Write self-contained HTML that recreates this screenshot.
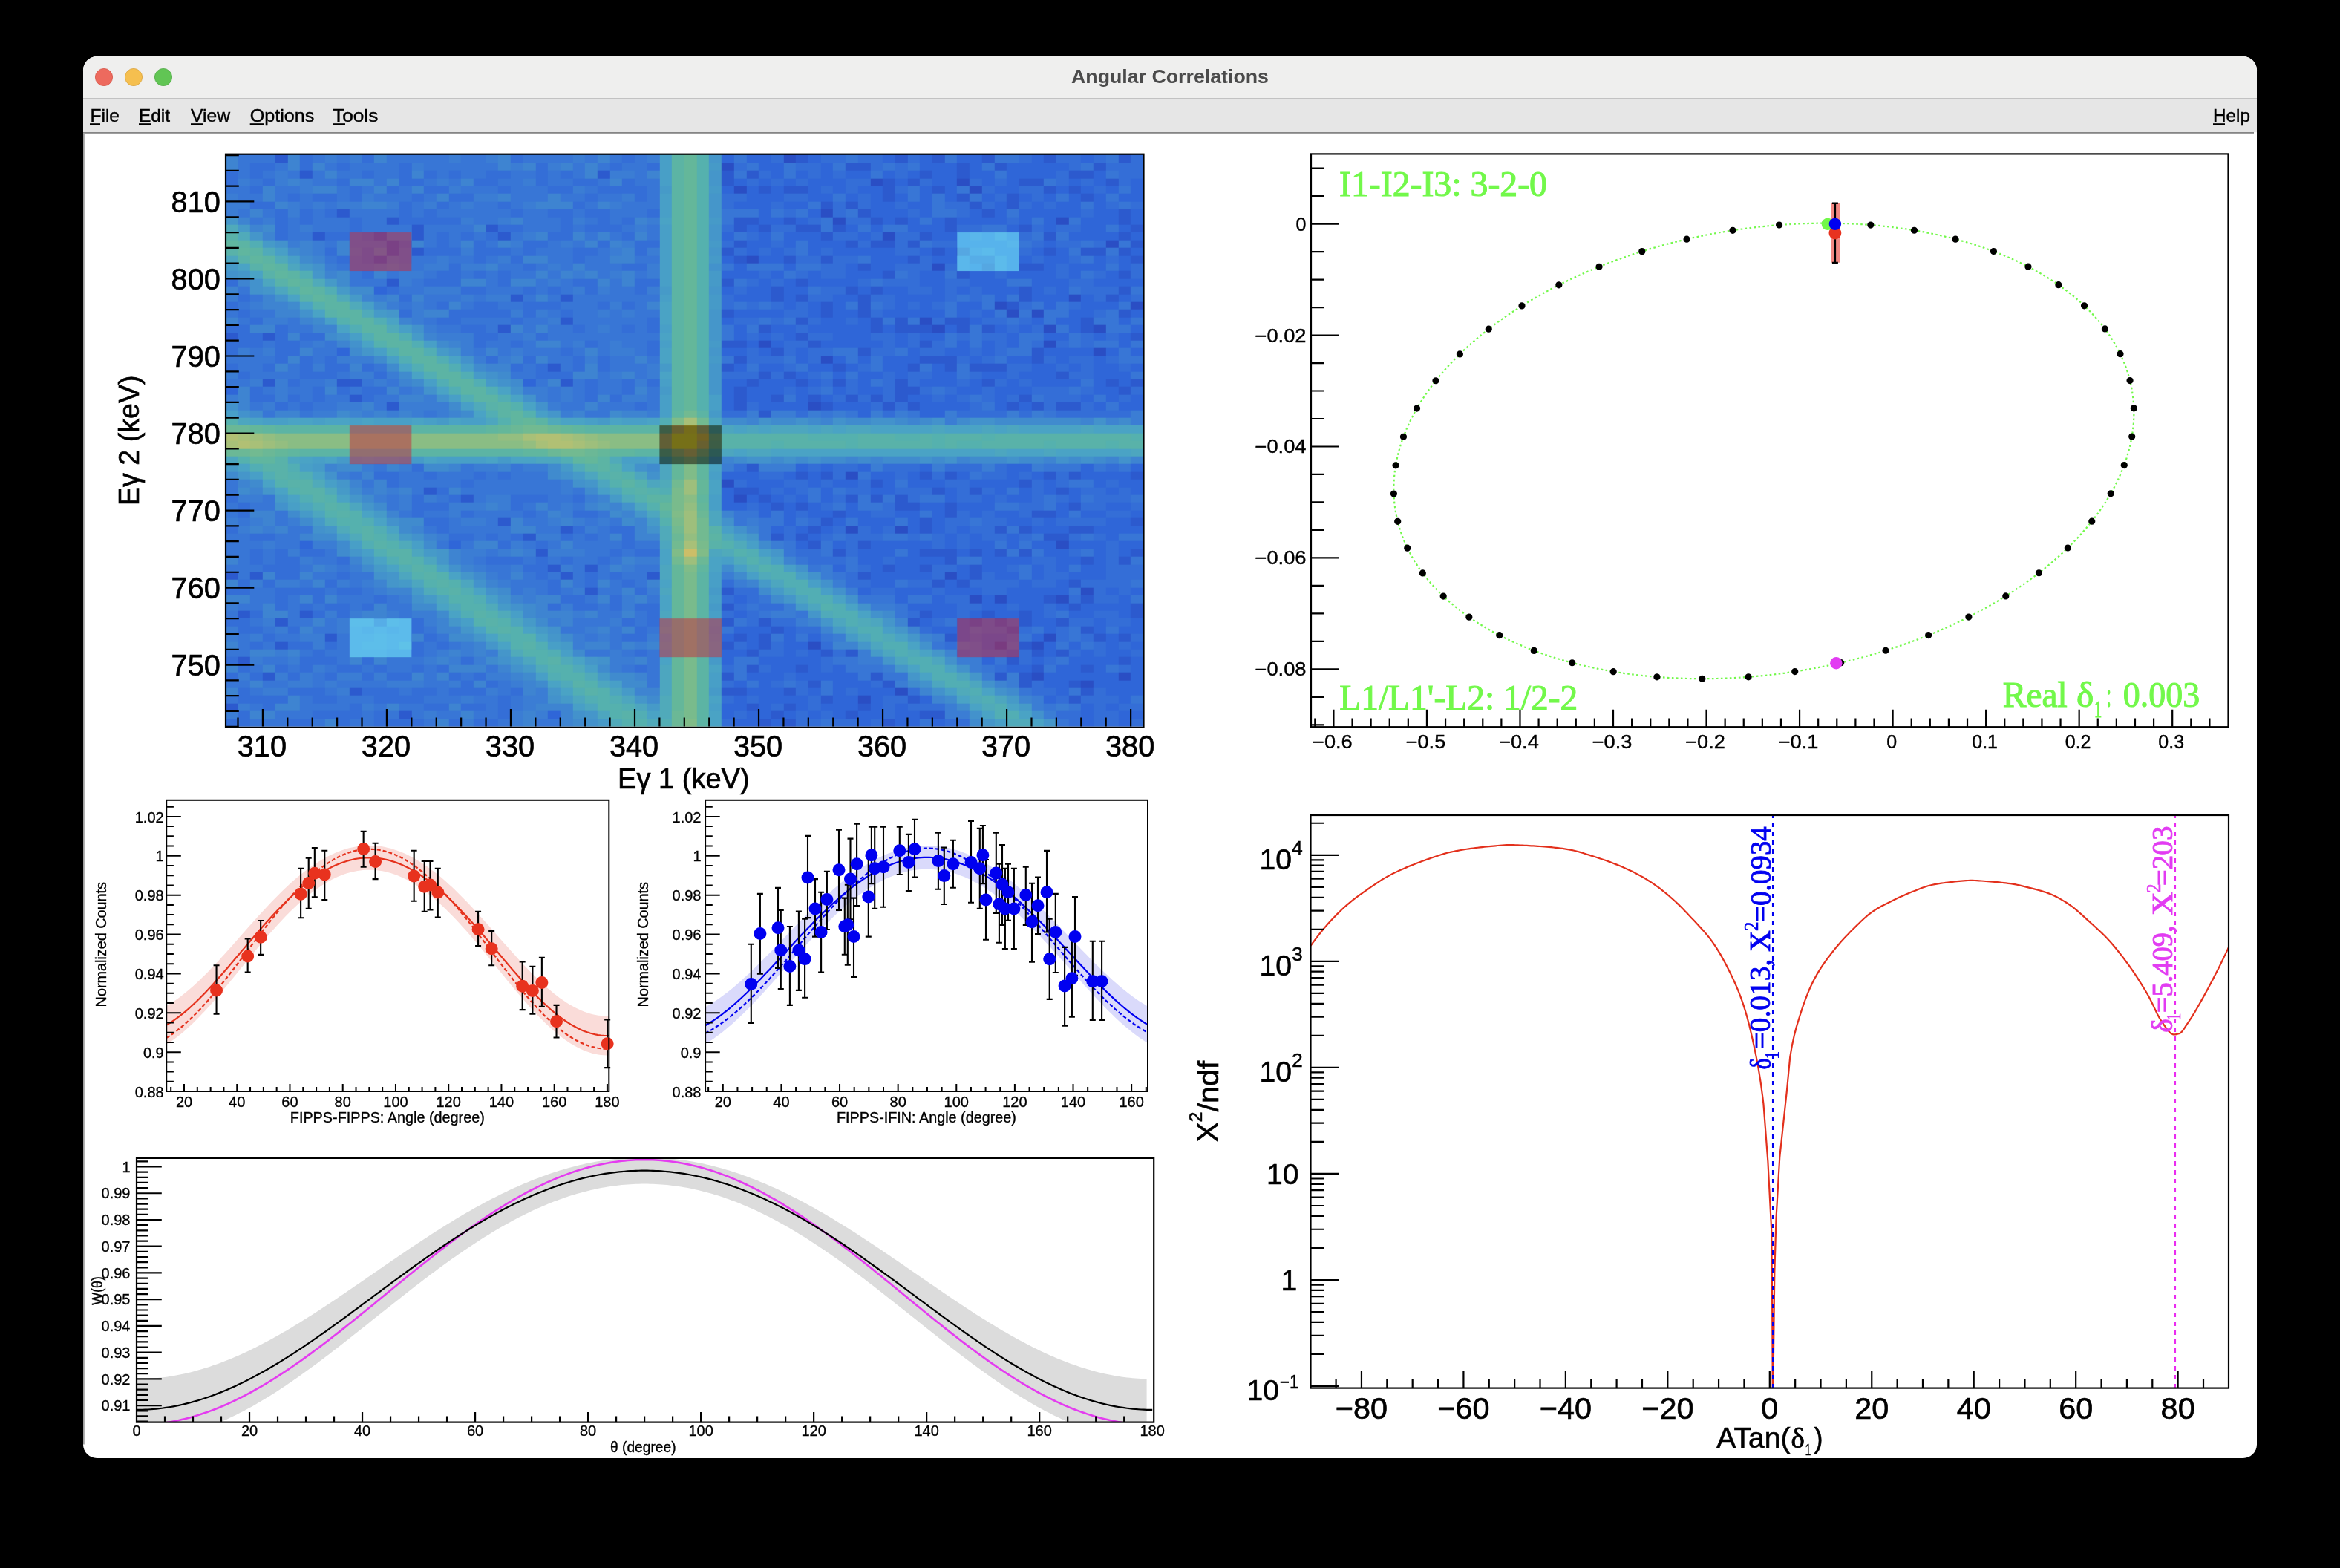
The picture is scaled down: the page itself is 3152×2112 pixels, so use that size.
<!DOCTYPE html>
<html><head><meta charset="utf-8"><title>Angular Correlations</title>
<style>html,body{margin:0;padding:0;background:#000;overflow:hidden}svg{display:block}svg{will-change:transform}</style></head>
<body><svg width="3152" height="2112" viewBox="0 0 3152 2112">
<rect width="3152" height="2112" fill="#000"/>
<rect x="112" y="76" width="2928" height="1888" rx="18.5" ry="18.5" fill="#ffffff"/>
<path d="M112 94.5A18.5 18.5 0 0 1 130.5 76H3021.5A18.5 18.5 0 0 1 3040 94.5V133H112Z" fill="#efefee"/>
<rect x="112" y="132" width="2928" height="1.2" fill="#c2c2c2"/>
<rect x="112" y="133.2" width="2928" height="45" fill="#e6e6e6"/>
<rect x="112" y="178" width="2924" height="1.8" fill="#858585"/>
<rect x="112" y="179" width="1.8" height="1766.5" fill="#a0a0a0"/>
<text x="1576" y="111.5" font-size="26.5" fill="#4b4b4b" font-family="'Liberation Sans',sans-serif" text-anchor="middle" font-weight="bold" textLength="266" lengthAdjust="spacingAndGlyphs">Angular Correlations</text>
<circle cx="140" cy="104" r="11.6" fill="#ed6a5e" stroke="#d55548" stroke-width="0.8"/>
<circle cx="180" cy="104" r="11.6" fill="#f5bf4f" stroke="#d9a23c" stroke-width="0.8"/>
<circle cx="220" cy="104" r="11.6" fill="#61c554" stroke="#51a845" stroke-width="0.8"/>
<text x="121.5" y="164.2" font-size="24.5" fill="#000" font-family="'Liberation Sans',sans-serif" textLength="39.5" lengthAdjust="spacingAndGlyphs" stroke="#000" stroke-width="0.42">File</text>
<text x="187" y="164.2" font-size="24.5" fill="#000" font-family="'Liberation Sans',sans-serif" textLength="42" lengthAdjust="spacingAndGlyphs" stroke="#000" stroke-width="0.42">Edit</text>
<text x="257" y="164.2" font-size="24.5" fill="#000" font-family="'Liberation Sans',sans-serif" textLength="53" lengthAdjust="spacingAndGlyphs" stroke="#000" stroke-width="0.42">View</text>
<text x="336.7" y="164.2" font-size="24.5" fill="#000" font-family="'Liberation Sans',sans-serif" textLength="86.7" lengthAdjust="spacingAndGlyphs" stroke="#000" stroke-width="0.42">Options</text>
<text x="448" y="164.2" font-size="24.5" fill="#000" font-family="'Liberation Sans',sans-serif" textLength="61.3" lengthAdjust="spacingAndGlyphs" stroke="#000" stroke-width="0.42">Tools</text>
<text x="2981" y="164.2" font-size="24.5" fill="#000" font-family="'Liberation Sans',sans-serif" textLength="50" lengthAdjust="spacingAndGlyphs" stroke="#000" stroke-width="0.42">Help</text>
<rect x="121" y="166.2" width="14" height="2" fill="#000"/>
<rect x="187" y="166.2" width="16" height="2" fill="#000"/>
<rect x="257" y="166.2" width="16" height="2" fill="#000"/>
<rect x="336.7" y="166.2" width="19" height="2" fill="#000"/>
<rect x="448" y="166.2" width="17" height="2" fill="#000"/>
<rect x="2981" y="166.2" width="16" height="2" fill="#000"/>
<svg x="303.8" y="207.4" width="1236" height="771.2" viewBox="0 -0.16 74 74.16" preserveAspectRatio="none" shape-rendering="crispEdges">
<path fill="rgb(42,78,196)" d="M51 70h1v1h-1zM54 69h1v1h-1zM69 68h1v1h-1zM65 67h1v1h-1zM72 67h1v1h-1zM47 63h1v1h-1zM62 63h1v1h-1zM65 63h1v1h-1zM66 62h1v1h-1zM60 57h1v1h-1zM62 57h1v1h-1zM67 57h1v1h-1zM69 56h1v1h-1zM58 54h1v1h-1zM67 50h1v1h-1zM50 48h1v1h-1zM54 48h1v1h-1zM41 44h1v1h-1zM40 42h1v1h-1zM50 41h1v1h-1zM47 32h1v1h-1zM48 26h1v1h-1zM70 25h1v1h-1zM43 24h1v1h-1zM66 24h1v1h-1zM57 22h1v1h-1zM66 22h1v1h-1zM70 22h1v1h-1zM56 21h1v1h-1zM63 20h1v1h-1zM65 20h1v1h-1zM62 19h1v1h-1zM73 19h1v1h-1zM68 18h1v1h-1zM57 14h1v1h-1zM61 14h1v1h-1zM42 13h1v1h-1zM59 12h1v1h-1zM71 11h1v1h-1zM53 10h1v1h-1zM49 8h1v1h-1zM67 8h1v1h-1zM48 7h1v1h-1zM41 4h1v1h-1zM60 4h1v1h-1zM52 3h1v1h-1zM59 3h1v1h-1zM40 1h1v1h-1zM45 -0.16h1v1.16h-1z"/>
<path fill="rgb(44,90,206)" d="M43 73h1v1h-1zM45 73h1v1h-1zM53 73h1v1h-1zM14 72h1v1h-1zM44 72h1v1h-1zM50 72h1v1h-1zM56 72h2v1h-2zM0 71h1v1h-1zM42 71h1v1h-1zM45 71h1v1h-1zM51 71h1v1h-1zM48 70h1v1h-1zM55 70h1v1h-1zM68 70h1v1h-1zM10 69h1v1h-1zM40 69h2v1h-2zM45 69h1v1h-1zM69 69h1v1h-1zM47 68h1v1h-1zM53 68h1v1h-1zM64 68h1v1h-1zM68 68h1v1h-1zM3 67h1v1h-1zM40 67h1v1h-1zM52 67h1v1h-1zM62 67h1v1h-1zM64 67h1v1h-1zM42 66h1v1h-1zM46 66h1v1h-1zM65 66h1v1h-1zM69 66h1v1h-1zM1 65h1v1h-1zM63 65h1v1h-1zM72 65h1v1h-1zM42 64h1v1h-1zM48 64h1v1h-1zM50 64h1v1h-1zM65 64h1v1h-1zM67 64h1v1h-1zM4 63h1v1h-1zM40 63h1v1h-1zM43 63h1v1h-1zM64 63h1v1h-1zM8 62h1v1h-1zM41 62h1v1h-1zM43 62h1v1h-1zM58 62h1v1h-1zM70 62h1v1h-1zM72 62h1v1h-1zM44 61h1v1h-1zM63 61h1v1h-1zM69 61h1v1h-1zM4 60h1v1h-1zM12 60h1v1h-1zM40 60h1v1h-1zM43 60h1v1h-1zM55 60h1v1h-1zM60 60h1v1h-1zM62 60h1v1h-1zM64 60h1v1h-1zM67 60h1v1h-1zM1 59h1v1h-1zM6 59h1v1h-1zM56 59h1v1h-1zM61 59h1v1h-1zM64 59h1v1h-1zM73 59h1v1h-1zM40 58h1v1h-1zM68 58h1v1h-1zM73 58h1v1h-1zM66 57h1v1h-1zM69 57h1v1h-1zM29 56h1v1h-1zM40 56h1v1h-1zM57 55h1v1h-1zM59 55h1v1h-1zM68 55h1v1h-1zM0 54h1v1h-1zM2 54h1v1h-1zM27 54h1v1h-1zM34 54h1v1h-1zM51 54h1v1h-1zM60 54h1v1h-1zM26 53h1v1h-1zM29 53h1v1h-1zM53 53h1v1h-1zM56 53h1v1h-1zM60 53h1v1h-1zM58 52h1v1h-1zM69 52h1v1h-1zM72 52h1v1h-1zM25 51h1v1h-1zM49 51h1v1h-1zM56 51h3v1h-3zM60 51h1v1h-1zM62 51h1v1h-1zM64 51h1v1h-1zM73 51h1v1h-1zM47 50h1v1h-1zM51 50h1v1h-1zM24 49h1v1h-1zM44 49h1v1h-1zM46 49h1v1h-1zM66 49h2v1h-2zM27 48h1v1h-1zM47 48h1v1h-1zM56 48h1v1h-1zM62 48h1v1h-1zM64 48h1v1h-1zM68 48h2v1h-2zM22 47h1v1h-1zM48 47h1v1h-1zM56 47h1v1h-1zM73 47h1v1h-1zM49 46h1v1h-1zM58 46h1v1h-1zM65 46h2v1h-2zM44 45h1v1h-1zM46 45h1v1h-1zM54 45h2v1h-2zM58 45h1v1h-1zM68 45h1v1h-1zM19 44h1v1h-1zM43 44h1v1h-1zM50 44h1v1h-1zM52 44h1v1h-1zM54 44h1v1h-1zM16 43h1v1h-1zM41 43h2v1h-2zM57 43h1v1h-1zM60 43h1v1h-1zM67 43h1v1h-1zM52 42h1v1h-1zM64 42h1v1h-1zM46 41h1v1h-1zM48 41h1v1h-1zM56 41h1v1h-1zM58 41h1v1h-1zM66 41h1v1h-1zM68 41h1v1h-1zM73 41h1v1h-1zM42 40h1v1h-1zM43 33h1v1h-1zM13 32h1v1h-1zM41 32h1v1h-1zM48 32h1v1h-1zM53 32h1v1h-1zM55 32h1v1h-1zM63 32h1v1h-1zM65 32h1v1h-1zM67 32h2v1h-2zM10 31h1v1h-1zM41 31h1v1h-1zM44 31h1v1h-1zM47 31h1v1h-1zM50 31h1v1h-1zM52 31h1v1h-1zM54 31h1v1h-1zM64 31h1v1h-1zM41 30h1v1h-1zM54 30h2v1h-2zM72 30h1v1h-1zM3 29h1v1h-1zM9 29h2v1h-2zM27 29h1v1h-1zM42 29h1v1h-1zM46 29h1v1h-1zM49 29h1v1h-1zM54 29h1v1h-1zM61 29h1v1h-1zM71 29h1v1h-1zM73 29h1v1h-1zM43 28h1v1h-1zM45 28h1v1h-1zM67 28h1v1h-1zM26 27h1v1h-1zM40 27h1v1h-1zM49 27h1v1h-1zM55 27h1v1h-1zM58 27h1v1h-1zM60 27h3v1h-3zM41 26h1v1h-1zM56 26h3v1h-3zM65 26h1v1h-1zM44 25h1v1h-1zM51 25h1v1h-1zM65 25h1v1h-1zM40 24h2v1h-2zM47 24h1v1h-1zM56 24h1v1h-1zM0 23h1v1h-1zM3 23h1v1h-1zM46 23h1v1h-1zM73 23h1v1h-1zM22 22h1v1h-1zM43 22h1v1h-1zM52 22h1v1h-1zM54 22h3v1h-3zM59 22h1v1h-1zM61 22h1v1h-1zM69 22h1v1h-1zM27 21h1v1h-1zM46 21h1v1h-1zM52 21h1v1h-1zM54 21h1v1h-1zM58 21h2v1h-2zM69 21h1v1h-1zM40 20h1v1h-1zM48 20h1v1h-1zM51 20h1v1h-1zM72 20h1v1h-1zM48 19h1v1h-1zM51 19h1v1h-1zM63 19h1v1h-1zM23 18h1v1h-1zM27 18h1v1h-1zM44 18h1v1h-1zM46 18h1v1h-1zM51 18h1v1h-1zM64 18h1v1h-1zM71 18h1v1h-1zM44 17h1v1h-1zM50 17h1v1h-1zM52 17h1v1h-1zM64 17h1v1h-1zM72 17h1v1h-1zM13 16h1v1h-1zM40 16h1v1h-1zM46 16h1v1h-1zM53 15h1v1h-1zM59 15h1v1h-1zM72 15h1v1h-1zM51 14h1v1h-1zM64 14h2v1h-2zM12 13h1v1h-1zM41 13h1v1h-1zM45 13h1v1h-1zM48 13h1v1h-1zM55 13h1v1h-1zM60 13h2v1h-2zM73 13h1v1h-1zM13 12h1v1h-1zM15 12h1v1h-1zM40 12h1v1h-1zM57 12h1v1h-1zM66 12h1v1h-1zM69 12h2v1h-2zM72 12h1v1h-1zM13 11h1v1h-1zM41 11h1v1h-1zM50 11h1v1h-1zM52 11h2v1h-2zM55 11h1v1h-1zM73 11h1v1h-1zM7 10h1v1h-1zM12 10h1v1h-1zM15 10h1v1h-1zM22 10h1v1h-1zM48 10h1v1h-1zM56 10h1v1h-1zM66 10h1v1h-1zM72 10h1v1h-1zM15 9h1v1h-1zM21 9h1v1h-1zM41 9h1v1h-1zM43 9h1v1h-1zM46 9h2v1h-2zM49 9h1v1h-1zM58 9h1v1h-1zM64 9h1v1h-1zM73 9h1v1h-1zM13 8h1v1h-1zM41 8h2v1h-2zM45 8h1v1h-1zM52 8h1v1h-1zM54 8h1v1h-1zM58 8h1v1h-1zM72 8h1v1h-1zM9 7h1v1h-1zM51 7h1v1h-1zM61 7h1v1h-1zM72 7h1v1h-1zM48 6h1v1h-1zM50 6h1v1h-1zM60 6h1v1h-1zM63 6h1v1h-1zM53 5h1v1h-1zM59 5h1v1h-1zM63 5h1v1h-1zM69 5h1v1h-1zM43 4h1v1h-1zM45 4h2v1h-2zM53 4h1v1h-1zM57 4h1v1h-1zM66 4h1v1h-1zM68 4h1v1h-1zM40 3h1v1h-1zM53 3h1v1h-1zM55 3h1v1h-1zM64 3h2v1h-2zM71 3h1v1h-1zM6 2h1v1h-1zM30 2h1v1h-1zM40 2h1v1h-1zM42 2h1v1h-1zM56 2h1v1h-1zM59 2h1v1h-1zM68 2h2v1h-2zM50 1h2v1h-2zM59 1h1v1h-1zM62 1h1v1h-1zM70 1h1v1h-1zM4 -0.16h1v1.16h-1zM46 -0.16h1v1.16h-1zM54 -0.16h1v1.16h-1zM57 -0.16h1v1.16h-1zM61 -0.16h1v1.16h-1zM66 -0.16h1v1.16h-1zM72 -0.16h1v1.16h-1z"/>
<path fill="rgb(47,102,216)" d="M41 73h2v1h-2zM44 73h1v1h-1zM51 73h1v1h-1zM54 73h2v1h-2zM57 73h1v1h-1zM69 73h1v1h-1zM72 73h1v1h-1zM26 72h1v1h-1zM40 72h1v1h-1zM42 72h2v1h-2zM45 72h1v1h-1zM47 72h1v1h-1zM49 72h1v1h-1zM51 72h2v1h-2zM54 72h2v1h-2zM69 72h1v1h-1zM72 72h2v1h-2zM40 71h2v1h-2zM43 71h1v1h-1zM46 71h1v1h-1zM48 71h3v1h-3zM52 71h1v1h-1zM54 71h1v1h-1zM69 71h1v1h-1zM71 71h1v1h-1zM41 70h1v1h-1zM43 70h4v1h-4zM49 70h2v1h-2zM52 70h1v1h-1zM56 70h1v1h-1zM66 70h1v1h-1zM72 70h1v1h-1zM42 69h3v1h-3zM47 69h1v1h-1zM49 69h1v1h-1zM51 69h3v1h-3zM67 69h1v1h-1zM71 69h3v1h-3zM41 68h1v1h-1zM43 68h1v1h-1zM49 68h3v1h-3zM66 68h2v1h-2zM70 68h4v1h-4zM42 67h3v1h-3zM46 67h5v1h-5zM66 67h6v1h-6zM73 67h1v1h-1zM44 66h2v1h-2zM47 66h1v1h-1zM49 66h1v1h-1zM63 66h2v1h-2zM67 66h2v1h-2zM70 66h1v1h-1zM73 66h1v1h-1zM40 65h1v1h-1zM43 65h5v1h-5zM61 65h1v1h-1zM65 65h1v1h-1zM68 65h4v1h-4zM73 65h1v1h-1zM40 64h2v1h-2zM45 64h1v1h-1zM47 64h1v1h-1zM63 64h1v1h-1zM66 64h1v1h-1zM69 64h1v1h-1zM71 64h2v1h-2zM42 63h1v1h-1zM45 63h2v1h-2zM61 63h1v1h-1zM66 63h1v1h-1zM68 63h1v1h-1zM71 63h1v1h-1zM73 63h1v1h-1zM40 62h1v1h-1zM42 62h1v1h-1zM45 62h1v1h-1zM47 62h1v1h-1zM59 62h1v1h-1zM61 62h2v1h-2zM65 62h1v1h-1zM71 62h1v1h-1zM41 61h3v1h-3zM45 61h1v1h-1zM57 61h3v1h-3zM66 61h1v1h-1zM70 61h1v1h-1zM72 61h2v1h-2zM56 60h1v1h-1zM59 60h1v1h-1zM65 60h2v1h-2zM70 60h1v1h-1zM73 60h1v1h-1zM41 59h1v1h-1zM57 59h2v1h-2zM60 59h1v1h-1zM62 59h2v1h-2zM65 59h1v1h-1zM68 59h2v1h-2zM72 59h1v1h-1zM55 58h4v1h-4zM61 58h2v1h-2zM64 58h2v1h-2zM67 58h1v1h-1zM69 58h4v1h-4zM41 57h1v1h-1zM54 57h1v1h-1zM57 57h1v1h-1zM61 57h1v1h-1zM63 57h3v1h-3zM72 57h1v1h-1zM51 56h1v1h-1zM54 56h3v1h-3zM58 56h3v1h-3zM63 56h5v1h-5zM71 56h1v1h-1zM73 56h1v1h-1zM52 55h2v1h-2zM58 55h1v1h-1zM64 55h1v1h-1zM67 55h1v1h-1zM52 54h5v1h-5zM59 54h1v1h-1zM62 54h2v1h-2zM65 54h1v1h-1zM68 54h3v1h-3zM49 53h1v1h-1zM52 53h1v1h-1zM54 53h2v1h-2zM59 53h1v1h-1zM61 53h2v1h-2zM65 53h1v1h-1zM67 53h1v1h-1zM69 53h2v1h-2zM51 52h2v1h-2zM54 52h4v1h-4zM61 52h4v1h-4zM67 52h2v1h-2zM70 52h1v1h-1zM51 51h3v1h-3zM55 51h1v1h-1zM59 51h1v1h-1zM61 51h1v1h-1zM66 51h2v1h-2zM70 51h1v1h-1zM72 51h1v1h-1zM6 50h1v1h-1zM18 50h1v1h-1zM46 50h1v1h-1zM49 50h1v1h-1zM52 50h5v1h-5zM58 50h1v1h-1zM60 50h2v1h-2zM63 50h1v1h-1zM65 50h2v1h-2zM68 50h3v1h-3zM72 50h2v1h-2zM47 49h1v1h-1zM58 49h1v1h-1zM60 49h1v1h-1zM63 49h1v1h-1zM71 49h1v1h-1zM44 48h1v1h-1zM46 48h1v1h-1zM48 48h1v1h-1zM52 48h1v1h-1zM55 48h1v1h-1zM57 48h1v1h-1zM59 48h1v1h-1zM65 48h3v1h-3zM70 48h4v1h-4zM45 47h1v1h-1zM49 47h1v1h-1zM51 47h3v1h-3zM55 47h1v1h-1zM57 47h1v1h-1zM63 47h2v1h-2zM66 47h1v1h-1zM71 47h2v1h-2zM43 46h1v1h-1zM45 46h1v1h-1zM47 46h2v1h-2zM50 46h2v1h-2zM54 46h2v1h-2zM57 46h1v1h-1zM60 46h1v1h-1zM62 46h2v1h-2zM67 46h1v1h-1zM69 46h2v1h-2zM73 46h1v1h-1zM40 45h2v1h-2zM43 45h1v1h-1zM45 45h1v1h-1zM47 45h1v1h-1zM50 45h1v1h-1zM56 45h2v1h-2zM59 45h3v1h-3zM67 45h1v1h-1zM71 45h2v1h-2zM40 44h1v1h-1zM42 44h1v1h-1zM44 44h1v1h-1zM46 44h1v1h-1zM48 44h1v1h-1zM58 44h1v1h-1zM61 44h1v1h-1zM63 44h2v1h-2zM68 44h1v1h-1zM40 43h1v1h-1zM43 43h1v1h-1zM45 43h1v1h-1zM48 43h1v1h-1zM52 43h2v1h-2zM58 43h1v1h-1zM62 43h1v1h-1zM64 43h1v1h-1zM66 43h1v1h-1zM68 43h1v1h-1zM71 43h1v1h-1zM73 43h1v1h-1zM42 42h3v1h-3zM47 42h1v1h-1zM49 42h2v1h-2zM53 42h1v1h-1zM55 42h3v1h-3zM60 42h4v1h-4zM66 42h1v1h-1zM70 42h1v1h-1zM72 42h2v1h-2zM40 41h3v1h-3zM45 41h1v1h-1zM47 41h1v1h-1zM52 41h2v1h-2zM55 41h1v1h-1zM59 41h1v1h-1zM63 41h1v1h-1zM65 41h1v1h-1zM69 41h4v1h-4zM46 40h1v1h-1zM48 40h1v1h-1zM51 40h1v1h-1zM56 40h1v1h-1zM63 40h2v1h-2zM69 40h1v1h-1zM73 40h1v1h-1zM51 33h1v1h-1zM56 33h2v1h-2zM40 32h1v1h-1zM43 32h4v1h-4zM49 32h3v1h-3zM56 32h4v1h-4zM62 32h1v1h-1zM64 32h1v1h-1zM70 32h1v1h-1zM72 32h2v1h-2zM40 31h1v1h-1zM42 31h2v1h-2zM46 31h1v1h-1zM48 31h1v1h-1zM55 31h2v1h-2zM58 31h1v1h-1zM62 31h1v1h-1zM69 31h1v1h-1zM71 31h1v1h-1zM73 31h1v1h-1zM0 30h1v1h-1zM40 30h1v1h-1zM42 30h3v1h-3zM46 30h1v1h-1zM49 30h1v1h-1zM51 30h2v1h-2zM59 30h2v1h-2zM62 30h3v1h-3zM70 30h2v1h-2zM24 29h1v1h-1zM40 29h2v1h-2zM43 29h3v1h-3zM47 29h1v1h-1zM51 29h1v1h-1zM56 29h3v1h-3zM60 29h1v1h-1zM63 29h1v1h-1zM65 29h4v1h-4zM70 29h1v1h-1zM72 29h1v1h-1zM46 28h1v1h-1zM49 28h1v1h-1zM51 28h2v1h-2zM54 28h1v1h-1zM57 28h2v1h-2zM61 28h2v1h-2zM64 28h3v1h-3zM70 28h3v1h-3zM41 27h1v1h-1zM43 27h2v1h-2zM47 27h2v1h-2zM50 27h1v1h-1zM53 27h2v1h-2zM57 27h1v1h-1zM65 27h2v1h-2zM68 27h1v1h-1zM70 27h2v1h-2zM73 27h1v1h-1zM46 26h1v1h-1zM49 26h1v1h-1zM51 26h1v1h-1zM53 26h3v1h-3zM60 26h1v1h-1zM63 26h2v1h-2zM67 26h1v1h-1zM70 26h1v1h-1zM9 25h1v1h-1zM40 25h2v1h-2zM43 25h1v1h-1zM46 25h1v1h-1zM55 25h1v1h-1zM58 25h2v1h-2zM61 25h1v1h-1zM66 25h4v1h-4zM71 25h1v1h-1zM73 25h1v1h-1zM42 24h1v1h-1zM44 24h1v1h-1zM48 24h5v1h-5zM54 24h1v1h-1zM59 24h1v1h-1zM61 24h1v1h-1zM63 24h1v1h-1zM72 24h1v1h-1zM41 23h1v1h-1zM43 23h1v1h-1zM45 23h1v1h-1zM49 23h3v1h-3zM54 23h1v1h-1zM56 23h2v1h-2zM63 23h1v1h-1zM66 23h2v1h-2zM70 23h1v1h-1zM72 23h1v1h-1zM41 22h1v1h-1zM44 22h2v1h-2zM47 22h5v1h-5zM53 22h1v1h-1zM58 22h1v1h-1zM62 22h1v1h-1zM64 22h1v1h-1zM68 22h1v1h-1zM73 22h1v1h-1zM40 21h1v1h-1zM48 21h2v1h-2zM51 21h1v1h-1zM60 21h1v1h-1zM65 21h1v1h-1zM67 21h2v1h-2zM72 21h1v1h-1zM41 20h4v1h-4zM47 20h1v1h-1zM49 20h2v1h-2zM53 20h5v1h-5zM59 20h1v1h-1zM61 20h1v1h-1zM68 20h2v1h-2zM73 20h1v1h-1zM45 19h1v1h-1zM47 19h1v1h-1zM49 19h1v1h-1zM54 19h1v1h-1zM56 19h1v1h-1zM59 19h2v1h-2zM66 19h1v1h-1zM69 19h3v1h-3zM41 18h3v1h-3zM45 18h1v1h-1zM49 18h2v1h-2zM54 18h4v1h-4zM62 18h1v1h-1zM65 18h3v1h-3zM69 18h1v1h-1zM72 18h1v1h-1zM12 17h1v1h-1zM40 17h1v1h-1zM42 17h2v1h-2zM45 17h2v1h-2zM51 17h1v1h-1zM53 17h2v1h-2zM57 17h1v1h-1zM59 17h1v1h-1zM61 17h3v1h-3zM65 17h1v1h-1zM67 17h1v1h-1zM43 16h1v1h-1zM45 16h1v1h-1zM47 16h4v1h-4zM56 16h2v1h-2zM60 16h3v1h-3zM65 16h3v1h-3zM70 16h4v1h-4zM40 15h3v1h-3zM44 15h1v1h-1zM47 15h1v1h-1zM50 15h3v1h-3zM56 15h2v1h-2zM60 15h2v1h-2zM63 15h4v1h-4zM68 15h1v1h-1zM71 15h1v1h-1zM41 14h1v1h-1zM45 14h1v1h-1zM50 14h1v1h-1zM52 14h2v1h-2zM60 14h1v1h-1zM63 14h1v1h-1zM66 14h1v1h-1zM68 14h3v1h-3zM72 14h1v1h-1zM40 13h1v1h-1zM43 13h2v1h-2zM52 13h3v1h-3zM57 13h2v1h-2zM63 13h2v1h-2zM66 13h2v1h-2zM70 13h1v1h-1zM72 13h1v1h-1zM42 12h1v1h-1zM44 12h1v1h-1zM47 12h1v1h-1zM49 12h5v1h-5zM56 12h1v1h-1zM58 12h1v1h-1zM62 12h2v1h-2zM65 12h1v1h-1zM67 12h1v1h-1zM73 12h1v1h-1zM42 11h2v1h-2zM45 11h1v1h-1zM47 11h3v1h-3zM59 11h4v1h-4zM66 11h1v1h-1zM40 10h1v1h-1zM43 10h1v1h-1zM45 10h3v1h-3zM51 10h1v1h-1zM57 10h3v1h-3zM61 10h1v1h-1zM63 10h1v1h-1zM68 10h4v1h-4zM73 10h1v1h-1zM42 9h1v1h-1zM50 9h1v1h-1zM52 9h1v1h-1zM55 9h3v1h-3zM63 9h1v1h-1zM66 9h1v1h-1zM69 9h2v1h-2zM72 9h1v1h-1zM43 8h2v1h-2zM46 8h1v1h-1zM53 8h1v1h-1zM55 8h1v1h-1zM57 8h1v1h-1zM59 8h4v1h-4zM64 8h1v1h-1zM66 8h1v1h-1zM69 8h3v1h-3zM73 8h1v1h-1zM43 7h1v1h-1zM47 7h1v1h-1zM52 7h3v1h-3zM56 7h1v1h-1zM60 7h1v1h-1zM62 7h1v1h-1zM64 7h5v1h-5zM70 7h2v1h-2zM73 7h1v1h-1zM41 6h3v1h-3zM45 6h2v1h-2zM52 6h2v1h-2zM55 6h2v1h-2zM62 6h1v1h-1zM65 6h1v1h-1zM67 6h2v1h-2zM70 6h1v1h-1zM42 5h3v1h-3zM47 5h2v1h-2zM50 5h1v1h-1zM52 5h1v1h-1zM54 5h1v1h-1zM56 5h1v1h-1zM58 5h1v1h-1zM61 5h1v1h-1zM64 5h1v1h-1zM66 5h1v1h-1zM68 5h1v1h-1zM70 5h1v1h-1zM72 5h2v1h-2zM40 4h1v1h-1zM42 4h1v1h-1zM44 4h1v1h-1zM47 4h1v1h-1zM49 4h1v1h-1zM51 4h2v1h-2zM56 4h1v1h-1zM58 4h1v1h-1zM62 4h2v1h-2zM67 4h1v1h-1zM69 4h1v1h-1zM71 4h1v1h-1zM73 4h1v1h-1zM41 3h1v1h-1zM43 3h1v1h-1zM45 3h1v1h-1zM47 3h3v1h-3zM54 3h1v1h-1zM57 3h2v1h-2zM61 3h1v1h-1zM63 3h1v1h-1zM68 3h1v1h-1zM70 3h1v1h-1zM73 3h1v1h-1zM44 2h1v1h-1zM46 2h1v1h-1zM48 2h1v1h-1zM50 2h2v1h-2zM53 2h1v1h-1zM55 2h1v1h-1zM57 2h2v1h-2zM60 2h2v1h-2zM63 2h4v1h-4zM70 2h1v1h-1zM43 1h2v1h-2zM48 1h1v1h-1zM56 1h3v1h-3zM60 1h1v1h-1zM63 1h5v1h-5zM40 -0.16h1v1.16h-1zM42 -0.16h2v1.16h-2zM47 -0.16h1v1.16h-1zM53 -0.16h1v1.16h-1zM56 -0.16h1v1.16h-1zM59 -0.16h2v1.16h-2zM65 -0.16h1v1.16h-1zM69 -0.16h1v1.16h-1z"/>
<path fill="rgb(52,110,215)" d="M0 73h2v1h-2zM5 73h2v1h-2zM9 73h1v1h-1zM12 73h4v1h-4zM18 73h1v1h-1zM20 73h2v1h-2zM40 73h1v1h-1zM46 73h2v1h-2zM49 73h2v1h-2zM52 73h1v1h-1zM58 73h2v1h-2zM68 73h1v1h-1zM70 73h2v1h-2zM73 73h1v1h-1zM1 72h1v1h-1zM7 72h4v1h-4zM12 72h1v1h-1zM22 72h1v1h-1zM41 72h1v1h-1zM46 72h1v1h-1zM48 72h1v1h-1zM53 72h1v1h-1zM67 72h2v1h-2zM70 72h2v1h-2zM3 71h1v1h-1zM10 71h1v1h-1zM16 71h2v1h-2zM19 71h2v1h-2zM22 71h1v1h-1zM44 71h1v1h-1zM47 71h1v1h-1zM53 71h1v1h-1zM55 71h3v1h-3zM70 71h1v1h-1zM72 71h2v1h-2zM1 70h4v1h-4zM7 70h2v1h-2zM12 70h4v1h-4zM22 70h1v1h-1zM40 70h1v1h-1zM42 70h1v1h-1zM47 70h1v1h-1zM53 70h2v1h-2zM67 70h1v1h-1zM69 70h3v1h-3zM1 69h1v1h-1zM5 69h3v1h-3zM11 69h3v1h-3zM15 69h2v1h-2zM18 69h3v1h-3zM23 69h1v1h-1zM46 69h1v1h-1zM50 69h1v1h-1zM55 69h1v1h-1zM65 69h2v1h-2zM70 69h1v1h-1zM19 68h1v1h-1zM21 68h1v1h-1zM40 68h1v1h-1zM44 68h1v1h-1zM46 68h1v1h-1zM52 68h1v1h-1zM65 68h1v1h-1zM0 67h1v1h-1zM2 67h1v1h-1zM5 67h1v1h-1zM8 67h1v1h-1zM11 67h1v1h-1zM13 67h2v1h-2zM18 67h1v1h-1zM20 67h1v1h-1zM45 67h1v1h-1zM1 66h1v1h-1zM4 66h1v1h-1zM6 66h1v1h-1zM9 66h2v1h-2zM12 66h1v1h-1zM15 66h1v1h-1zM17 66h1v1h-1zM33 66h1v1h-1zM40 66h1v1h-1zM43 66h1v1h-1zM48 66h1v1h-1zM62 66h1v1h-1zM72 66h1v1h-1zM0 65h1v1h-1zM6 65h3v1h-3zM11 65h1v1h-1zM19 65h1v1h-1zM48 65h1v1h-1zM64 65h1v1h-1zM66 65h1v1h-1zM7 64h1v1h-1zM13 64h3v1h-3zM33 64h1v1h-1zM43 64h2v1h-2zM46 64h1v1h-1zM49 64h1v1h-1zM59 64h1v1h-1zM61 64h2v1h-2zM64 64h1v1h-1zM68 64h1v1h-1zM70 64h1v1h-1zM73 64h1v1h-1zM2 63h1v1h-1zM5 63h2v1h-2zM8 63h1v1h-1zM15 63h1v1h-1zM17 63h1v1h-1zM41 63h1v1h-1zM44 63h1v1h-1zM48 63h1v1h-1zM58 63h1v1h-1zM70 63h1v1h-1zM72 63h1v1h-1zM3 62h1v1h-1zM16 62h1v1h-1zM32 62h2v1h-2zM60 62h1v1h-1zM63 62h1v1h-1zM67 62h1v1h-1zM69 62h1v1h-1zM73 62h1v1h-1zM1 61h2v1h-2zM5 61h1v1h-1zM11 61h1v1h-1zM13 61h1v1h-1zM15 61h1v1h-1zM33 61h1v1h-1zM46 61h2v1h-2zM56 61h1v1h-1zM61 61h2v1h-2zM64 61h1v1h-1zM67 61h1v1h-1zM0 60h2v1h-2zM15 60h1v1h-1zM32 60h1v1h-1zM34 60h1v1h-1zM42 60h1v1h-1zM44 60h2v1h-2zM57 60h1v1h-1zM61 60h1v1h-1zM63 60h1v1h-1zM68 60h2v1h-2zM71 60h2v1h-2zM2 59h1v1h-1zM7 59h1v1h-1zM9 59h1v1h-1zM34 59h1v1h-1zM40 59h1v1h-1zM42 59h1v1h-1zM55 59h1v1h-1zM59 59h1v1h-1zM66 59h1v1h-1zM70 59h2v1h-2zM4 58h1v1h-1zM6 58h1v1h-1zM8 58h2v1h-2zM11 58h1v1h-1zM26 58h1v1h-1zM28 58h2v1h-2zM31 58h1v1h-1zM33 58h2v1h-2zM41 58h1v1h-1zM43 58h2v1h-2zM59 58h2v1h-2zM63 58h1v1h-1zM66 58h1v1h-1zM4 57h1v1h-1zM7 57h1v1h-1zM12 57h1v1h-1zM27 57h2v1h-2zM31 57h1v1h-1zM40 57h1v1h-1zM42 57h1v1h-1zM58 57h2v1h-2zM68 57h1v1h-1zM70 57h2v1h-2zM0 56h2v1h-2zM4 56h4v1h-4zM9 56h2v1h-2zM26 56h1v1h-1zM33 56h1v1h-1zM41 56h2v1h-2zM52 56h2v1h-2zM57 56h1v1h-1zM61 56h2v1h-2zM70 56h1v1h-1zM72 56h1v1h-1zM1 55h1v1h-1zM3 55h1v1h-1zM8 55h1v1h-1zM26 55h1v1h-1zM29 55h1v1h-1zM32 55h1v1h-1zM40 55h1v1h-1zM50 55h2v1h-2zM55 55h2v1h-2zM60 55h4v1h-4zM65 55h2v1h-2zM69 55h4v1h-4zM4 54h2v1h-2zM9 54h1v1h-1zM25 54h1v1h-1zM29 54h1v1h-1zM31 54h1v1h-1zM50 54h1v1h-1zM57 54h1v1h-1zM61 54h1v1h-1zM66 54h2v1h-2zM71 54h3v1h-3zM3 53h3v1h-3zM24 53h2v1h-2zM51 53h1v1h-1zM57 53h2v1h-2zM63 53h1v1h-1zM66 53h1v1h-1zM71 53h3v1h-3zM2 52h1v1h-1zM4 52h2v1h-2zM9 52h1v1h-1zM21 52h3v1h-3zM25 52h1v1h-1zM27 52h1v1h-1zM30 52h1v1h-1zM47 52h3v1h-3zM53 52h1v1h-1zM65 52h2v1h-2zM71 52h1v1h-1zM2 51h1v1h-1zM4 51h1v1h-1zM6 51h2v1h-2zM31 51h1v1h-1zM33 51h2v1h-2zM46 51h2v1h-2zM50 51h1v1h-1zM68 51h1v1h-1zM71 51h1v1h-1zM22 50h1v1h-1zM25 50h1v1h-1zM32 50h1v1h-1zM50 50h1v1h-1zM57 50h1v1h-1zM59 50h1v1h-1zM71 50h1v1h-1zM2 49h2v1h-2zM18 49h2v1h-2zM21 49h1v1h-1zM23 49h1v1h-1zM27 49h1v1h-1zM29 49h1v1h-1zM32 49h1v1h-1zM45 49h1v1h-1zM48 49h1v1h-1zM50 49h3v1h-3zM55 49h1v1h-1zM57 49h1v1h-1zM59 49h1v1h-1zM61 49h2v1h-2zM64 49h1v1h-1zM68 49h1v1h-1zM70 49h1v1h-1zM0 48h1v1h-1zM17 48h1v1h-1zM28 48h1v1h-1zM31 48h2v1h-2zM45 48h1v1h-1zM49 48h1v1h-1zM51 48h1v1h-1zM53 48h1v1h-1zM58 48h1v1h-1zM60 48h2v1h-2zM16 47h2v1h-2zM47 47h1v1h-1zM58 47h2v1h-2zM61 47h2v1h-2zM65 47h1v1h-1zM67 47h4v1h-4zM1 46h1v1h-1zM15 46h1v1h-1zM19 46h1v1h-1zM24 46h1v1h-1zM28 46h2v1h-2zM46 46h1v1h-1zM52 46h2v1h-2zM59 46h1v1h-1zM61 46h1v1h-1zM64 46h1v1h-1zM71 46h2v1h-2zM1 45h1v1h-1zM15 45h3v1h-3zM23 45h1v1h-1zM42 45h1v1h-1zM48 45h1v1h-1zM53 45h1v1h-1zM64 45h2v1h-2zM69 45h2v1h-2zM73 45h1v1h-1zM0 44h1v1h-1zM15 44h1v1h-1zM18 44h1v1h-1zM23 44h3v1h-3zM28 44h1v1h-1zM45 44h1v1h-1zM49 44h1v1h-1zM55 44h1v1h-1zM59 44h2v1h-2zM62 44h1v1h-1zM65 44h1v1h-1zM67 44h1v1h-1zM70 44h3v1h-3zM17 43h1v1h-1zM44 43h1v1h-1zM46 43h1v1h-1zM50 43h2v1h-2zM54 43h3v1h-3zM59 43h1v1h-1zM61 43h1v1h-1zM65 43h1v1h-1zM69 43h2v1h-2zM72 43h1v1h-1zM13 42h1v1h-1zM19 42h1v1h-1zM41 42h1v1h-1zM45 42h2v1h-2zM48 42h1v1h-1zM51 42h1v1h-1zM58 42h2v1h-2zM65 42h1v1h-1zM67 42h1v1h-1zM71 42h1v1h-1zM12 41h2v1h-2zM16 41h1v1h-1zM20 41h1v1h-1zM22 41h1v1h-1zM43 41h2v1h-2zM49 41h1v1h-1zM54 41h1v1h-1zM57 41h1v1h-1zM61 41h2v1h-2zM64 41h1v1h-1zM67 41h1v1h-1zM15 40h1v1h-1zM41 40h1v1h-1zM47 40h1v1h-1zM49 40h2v1h-2zM53 40h3v1h-3zM58 40h3v1h-3zM62 40h1v1h-1zM71 40h1v1h-1zM40 33h2v1h-2zM46 33h1v1h-1zM53 33h1v1h-1zM59 33h4v1h-4zM64 33h1v1h-1zM67 33h6v1h-6zM4 32h1v1h-1zM6 32h1v1h-1zM33 32h1v1h-1zM42 32h1v1h-1zM52 32h1v1h-1zM54 32h1v1h-1zM60 32h1v1h-1zM66 32h1v1h-1zM69 32h1v1h-1zM2 31h2v1h-2zM5 31h1v1h-1zM7 31h1v1h-1zM11 31h1v1h-1zM29 31h1v1h-1zM31 31h1v1h-1zM49 31h1v1h-1zM51 31h1v1h-1zM53 31h1v1h-1zM57 31h1v1h-1zM59 31h1v1h-1zM61 31h1v1h-1zM63 31h1v1h-1zM66 31h3v1h-3zM72 31h1v1h-1zM2 30h1v1h-1zM7 30h1v1h-1zM9 30h1v1h-1zM11 30h2v1h-2zM29 30h1v1h-1zM32 30h1v1h-1zM45 30h1v1h-1zM47 30h1v1h-1zM50 30h1v1h-1zM53 30h1v1h-1zM56 30h1v1h-1zM58 30h1v1h-1zM61 30h1v1h-1zM65 30h3v1h-3zM69 30h1v1h-1zM73 30h1v1h-1zM5 29h1v1h-1zM29 29h1v1h-1zM32 29h1v1h-1zM34 29h1v1h-1zM48 29h1v1h-1zM50 29h1v1h-1zM53 29h1v1h-1zM55 29h1v1h-1zM59 29h1v1h-1zM62 29h1v1h-1zM64 29h1v1h-1zM1 28h1v1h-1zM6 28h3v1h-3zM12 28h1v1h-1zM25 28h3v1h-3zM40 28h3v1h-3zM44 28h1v1h-1zM47 28h1v1h-1zM53 28h1v1h-1zM55 28h2v1h-2zM60 28h1v1h-1zM63 28h1v1h-1zM68 28h2v1h-2zM0 27h1v1h-1zM3 27h1v1h-1zM6 27h1v1h-1zM8 27h2v1h-2zM11 27h1v1h-1zM23 27h1v1h-1zM25 27h1v1h-1zM28 27h1v1h-1zM30 27h1v1h-1zM45 27h1v1h-1zM51 27h1v1h-1zM63 27h2v1h-2zM67 27h1v1h-1zM69 27h1v1h-1zM72 27h1v1h-1zM4 26h1v1h-1zM6 26h1v1h-1zM8 26h1v1h-1zM21 26h1v1h-1zM24 26h1v1h-1zM28 26h1v1h-1zM30 26h1v1h-1zM42 26h3v1h-3zM47 26h1v1h-1zM59 26h1v1h-1zM61 26h1v1h-1zM66 26h1v1h-1zM68 26h2v1h-2zM71 26h1v1h-1zM0 25h1v1h-1zM4 25h2v1h-2zM27 25h1v1h-1zM34 25h1v1h-1zM42 25h1v1h-1zM45 25h1v1h-1zM47 25h2v1h-2zM52 25h2v1h-2zM56 25h2v1h-2zM60 25h1v1h-1zM62 25h1v1h-1zM0 24h3v1h-3zM4 24h2v1h-2zM20 24h1v1h-1zM23 24h1v1h-1zM29 24h1v1h-1zM34 24h1v1h-1zM45 24h2v1h-2zM53 24h1v1h-1zM55 24h1v1h-1zM57 24h1v1h-1zM62 24h1v1h-1zM65 24h1v1h-1zM67 24h1v1h-1zM69 24h1v1h-1zM1 23h2v1h-2zM4 23h1v1h-1zM6 23h2v1h-2zM20 23h2v1h-2zM25 23h1v1h-1zM42 23h1v1h-1zM44 23h1v1h-1zM47 23h2v1h-2zM52 23h2v1h-2zM55 23h1v1h-1zM59 23h1v1h-1zM61 23h2v1h-2zM69 23h1v1h-1zM71 23h1v1h-1zM0 22h2v1h-2zM4 22h1v1h-1zM19 22h2v1h-2zM28 22h1v1h-1zM32 22h1v1h-1zM34 22h1v1h-1zM46 22h1v1h-1zM63 22h1v1h-1zM65 22h1v1h-1zM2 21h1v1h-1zM17 21h2v1h-2zM23 21h1v1h-1zM34 21h1v1h-1zM41 21h2v1h-2zM44 21h1v1h-1zM47 21h1v1h-1zM50 21h1v1h-1zM57 21h1v1h-1zM61 21h2v1h-2zM64 21h1v1h-1zM1 20h1v1h-1zM14 20h1v1h-1zM18 20h5v1h-5zM24 20h1v1h-1zM27 20h1v1h-1zM45 20h2v1h-2zM52 20h1v1h-1zM60 20h1v1h-1zM70 20h1v1h-1zM0 19h1v1h-1zM17 19h1v1h-1zM20 19h2v1h-2zM24 19h3v1h-3zM30 19h1v1h-1zM32 19h1v1h-1zM40 19h1v1h-1zM42 19h1v1h-1zM44 19h1v1h-1zM46 19h1v1h-1zM53 19h1v1h-1zM55 19h1v1h-1zM57 19h1v1h-1zM64 19h1v1h-1zM68 19h1v1h-1zM1 18h1v1h-1zM14 18h1v1h-1zM40 18h1v1h-1zM47 18h2v1h-2zM52 18h2v1h-2zM58 18h1v1h-1zM60 18h1v1h-1zM70 18h1v1h-1zM73 18h1v1h-1zM13 17h1v1h-1zM19 17h2v1h-2zM24 17h1v1h-1zM26 17h1v1h-1zM29 17h1v1h-1zM33 17h1v1h-1zM41 17h1v1h-1zM48 17h2v1h-2zM55 17h2v1h-2zM58 17h1v1h-1zM60 17h1v1h-1zM66 17h1v1h-1zM69 17h3v1h-3zM0 16h1v1h-1zM16 16h3v1h-3zM22 16h1v1h-1zM28 16h2v1h-2zM33 16h2v1h-2zM42 16h1v1h-1zM44 16h1v1h-1zM51 16h1v1h-1zM53 16h3v1h-3zM58 16h2v1h-2zM68 16h2v1h-2zM11 15h1v1h-1zM17 15h2v1h-2zM20 15h1v1h-1zM22 15h1v1h-1zM43 15h1v1h-1zM46 15h1v1h-1zM48 15h2v1h-2zM55 15h1v1h-1zM62 15h1v1h-1zM67 15h1v1h-1zM70 15h1v1h-1zM73 15h1v1h-1zM18 14h1v1h-1zM24 14h1v1h-1zM32 14h2v1h-2zM48 14h2v1h-2zM54 14h3v1h-3zM58 14h2v1h-2zM67 14h1v1h-1zM73 14h1v1h-1zM9 13h1v1h-1zM11 13h1v1h-1zM20 13h1v1h-1zM23 13h1v1h-1zM28 13h1v1h-1zM46 13h2v1h-2zM49 13h2v1h-2zM56 13h1v1h-1zM59 13h1v1h-1zM65 13h1v1h-1zM68 13h1v1h-1zM71 13h1v1h-1zM8 12h1v1h-1zM11 12h1v1h-1zM16 12h3v1h-3zM20 12h3v1h-3zM24 12h1v1h-1zM28 12h2v1h-2zM33 12h1v1h-1zM41 12h1v1h-1zM43 12h1v1h-1zM45 12h1v1h-1zM48 12h1v1h-1zM54 12h2v1h-2zM60 12h1v1h-1zM64 12h1v1h-1zM14 11h1v1h-1zM17 11h1v1h-1zM20 11h1v1h-1zM24 11h2v1h-2zM30 11h1v1h-1zM33 11h2v1h-2zM40 11h1v1h-1zM44 11h1v1h-1zM51 11h1v1h-1zM54 11h1v1h-1zM57 11h2v1h-2zM63 11h1v1h-1zM65 11h1v1h-1zM67 11h2v1h-2zM70 11h1v1h-1zM4 10h1v1h-1zM8 10h2v1h-2zM11 10h1v1h-1zM17 10h1v1h-1zM19 10h1v1h-1zM21 10h1v1h-1zM26 10h2v1h-2zM32 10h1v1h-1zM42 10h1v1h-1zM49 10h2v1h-2zM52 10h1v1h-1zM54 10h2v1h-2zM60 10h1v1h-1zM64 10h1v1h-1zM4 9h1v1h-1zM10 9h1v1h-1zM22 9h2v1h-2zM27 9h1v1h-1zM29 9h3v1h-3zM40 9h1v1h-1zM44 9h2v1h-2zM59 9h2v1h-2zM65 9h1v1h-1zM67 9h2v1h-2zM4 8h1v1h-1zM6 8h1v1h-1zM10 8h1v1h-1zM14 8h5v1h-5zM27 8h1v1h-1zM30 8h1v1h-1zM32 8h1v1h-1zM47 8h1v1h-1zM50 8h2v1h-2zM63 8h1v1h-1zM4 7h1v1h-1zM6 7h1v1h-1zM8 7h1v1h-1zM14 7h1v1h-1zM16 7h1v1h-1zM23 7h1v1h-1zM26 7h2v1h-2zM29 7h2v1h-2zM34 7h1v1h-1zM45 7h1v1h-1zM49 7h1v1h-1zM55 7h1v1h-1zM59 7h1v1h-1zM69 7h1v1h-1zM2 6h2v1h-2zM14 6h1v1h-1zM17 6h1v1h-1zM22 6h1v1h-1zM28 6h1v1h-1zM40 6h1v1h-1zM44 6h1v1h-1zM49 6h1v1h-1zM51 6h1v1h-1zM54 6h1v1h-1zM58 6h2v1h-2zM61 6h1v1h-1zM64 6h1v1h-1zM66 6h1v1h-1zM71 6h1v1h-1zM73 6h1v1h-1zM5 5h1v1h-1zM7 5h2v1h-2zM10 5h1v1h-1zM15 5h1v1h-1zM18 5h2v1h-2zM29 5h1v1h-1zM33 5h1v1h-1zM40 5h2v1h-2zM45 5h2v1h-2zM51 5h1v1h-1zM62 5h1v1h-1zM65 5h1v1h-1zM2 4h1v1h-1zM10 4h1v1h-1zM13 4h1v1h-1zM16 4h2v1h-2zM22 4h1v1h-1zM26 4h2v1h-2zM30 4h4v1h-4zM48 4h1v1h-1zM50 4h1v1h-1zM54 4h1v1h-1zM61 4h1v1h-1zM64 4h2v1h-2zM70 4h1v1h-1zM0 3h1v1h-1zM3 3h1v1h-1zM9 3h1v1h-1zM14 3h2v1h-2zM20 3h2v1h-2zM25 3h1v1h-1zM28 3h2v1h-2zM32 3h1v1h-1zM42 3h1v1h-1zM44 3h1v1h-1zM46 3h1v1h-1zM50 3h2v1h-2zM56 3h1v1h-1zM60 3h1v1h-1zM62 3h1v1h-1zM67 3h1v1h-1zM69 3h1v1h-1zM72 3h1v1h-1zM0 2h1v1h-1zM2 2h1v1h-1zM11 2h1v1h-1zM14 2h1v1h-1zM16 2h1v1h-1zM18 2h1v1h-1zM21 2h2v1h-2zM25 2h1v1h-1zM27 2h1v1h-1zM43 2h1v1h-1zM47 2h1v1h-1zM49 2h1v1h-1zM54 2h1v1h-1zM67 2h1v1h-1zM72 2h2v1h-2zM2 1h2v1h-2zM6 1h1v1h-1zM9 1h1v1h-1zM14 1h1v1h-1zM25 1h1v1h-1zM31 1h1v1h-1zM34 1h1v1h-1zM41 1h1v1h-1zM46 1h2v1h-2zM52 1h1v1h-1zM54 1h1v1h-1zM68 1h1v1h-1zM71 1h3v1h-3zM6 -0.16h1v1.16h-1zM11 -0.16h1v1.16h-1zM23 -0.16h1v1.16h-1zM32 -0.16h1v1.16h-1zM44 -0.16h1v1.16h-1zM48 -0.16h2v1.16h-2zM51 -0.16h2v1.16h-2zM55 -0.16h1v1.16h-1zM64 -0.16h1v1.16h-1zM67 -0.16h2v1.16h-2zM70 -0.16h1v1.16h-1zM73 -0.16h1v1.16h-1z"/>
<path fill="rgb(56,118,214)" d="M2 73h3v1h-3zM7 73h1v1h-1zM10 73h2v1h-2zM16 73h1v1h-1zM22 73h1v1h-1zM25 73h2v1h-2zM48 73h1v1h-1zM56 73h1v1h-1zM67 73h1v1h-1zM4 72h3v1h-3zM11 72h1v1h-1zM13 72h1v1h-1zM15 72h1v1h-1zM17 72h2v1h-2zM20 72h2v1h-2zM2 71h1v1h-1zM6 71h4v1h-4zM12 71h1v1h-1zM14 71h2v1h-2zM21 71h1v1h-1zM23 71h1v1h-1zM66 71h1v1h-1zM68 71h1v1h-1zM0 70h1v1h-1zM6 70h1v1h-1zM9 70h3v1h-3zM16 70h3v1h-3zM20 70h2v1h-2zM23 70h1v1h-1zM73 70h1v1h-1zM2 69h1v1h-1zM8 69h1v1h-1zM14 69h1v1h-1zM17 69h1v1h-1zM22 69h1v1h-1zM48 69h1v1h-1zM64 69h1v1h-1zM68 69h1v1h-1zM0 68h2v1h-2zM3 68h2v1h-2zM7 68h1v1h-1zM9 68h4v1h-4zM16 68h2v1h-2zM22 68h1v1h-1zM34 68h1v1h-1zM42 68h1v1h-1zM45 68h1v1h-1zM48 68h1v1h-1zM7 67h1v1h-1zM16 67h1v1h-1zM19 67h1v1h-1zM34 67h1v1h-1zM41 67h1v1h-1zM51 67h1v1h-1zM53 67h2v1h-2zM2 66h1v1h-1zM5 66h1v1h-1zM8 66h1v1h-1zM11 66h1v1h-1zM13 66h2v1h-2zM16 66h1v1h-1zM21 66h1v1h-1zM32 66h1v1h-1zM34 66h1v1h-1zM41 66h1v1h-1zM50 66h3v1h-3zM61 66h1v1h-1zM66 66h1v1h-1zM71 66h1v1h-1zM3 65h2v1h-2zM9 65h1v1h-1zM13 65h3v1h-3zM34 65h1v1h-1zM41 65h2v1h-2zM49 65h2v1h-2zM62 65h1v1h-1zM67 65h1v1h-1zM0 64h2v1h-2zM6 64h1v1h-1zM8 64h5v1h-5zM16 64h1v1h-1zM29 64h2v1h-2zM32 64h1v1h-1zM34 64h1v1h-1zM60 64h1v1h-1zM1 63h1v1h-1zM3 63h1v1h-1zM9 63h2v1h-2zM13 63h1v1h-1zM16 63h1v1h-1zM18 63h1v1h-1zM31 63h1v1h-1zM57 63h1v1h-1zM60 63h1v1h-1zM63 63h1v1h-1zM67 63h1v1h-1zM69 63h1v1h-1zM1 62h1v1h-1zM4 62h2v1h-2zM9 62h3v1h-3zM13 62h2v1h-2zM17 62h1v1h-1zM29 62h1v1h-1zM31 62h1v1h-1zM44 62h1v1h-1zM46 62h1v1h-1zM48 62h1v1h-1zM64 62h1v1h-1zM68 62h1v1h-1zM3 61h1v1h-1zM7 61h2v1h-2zM10 61h1v1h-1zM12 61h1v1h-1zM14 61h1v1h-1zM16 61h1v1h-1zM27 61h2v1h-2zM31 61h1v1h-1zM34 61h1v1h-1zM40 61h1v1h-1zM60 61h1v1h-1zM65 61h1v1h-1zM68 61h1v1h-1zM71 61h1v1h-1zM2 60h1v1h-1zM5 60h2v1h-2zM8 60h1v1h-1zM14 60h1v1h-1zM28 60h3v1h-3zM33 60h1v1h-1zM41 60h1v1h-1zM58 60h1v1h-1zM0 59h1v1h-1zM5 59h1v1h-1zM14 59h1v1h-1zM30 59h2v1h-2zM33 59h1v1h-1zM43 59h1v1h-1zM46 59h1v1h-1zM54 59h1v1h-1zM67 59h1v1h-1zM1 58h2v1h-2zM5 58h1v1h-1zM7 58h1v1h-1zM10 58h1v1h-1zM13 58h2v1h-2zM30 58h1v1h-1zM42 58h1v1h-1zM54 58h1v1h-1zM2 57h2v1h-2zM5 57h1v1h-1zM9 57h3v1h-3zM13 57h1v1h-1zM29 57h1v1h-1zM34 57h1v1h-1zM43 57h1v1h-1zM51 57h3v1h-3zM55 57h2v1h-2zM73 57h1v1h-1zM2 56h2v1h-2zM8 56h1v1h-1zM11 56h1v1h-1zM23 56h1v1h-1zM25 56h1v1h-1zM27 56h1v1h-1zM30 56h2v1h-2zM68 56h1v1h-1zM6 55h1v1h-1zM10 55h1v1h-1zM23 55h3v1h-3zM28 55h1v1h-1zM31 55h1v1h-1zM33 55h1v1h-1zM54 55h1v1h-1zM73 55h1v1h-1zM1 54h1v1h-1zM7 54h2v1h-2zM10 54h2v1h-2zM22 54h1v1h-1zM24 54h1v1h-1zM26 54h1v1h-1zM28 54h1v1h-1zM30 54h1v1h-1zM32 54h2v1h-2zM49 54h1v1h-1zM64 54h1v1h-1zM0 53h3v1h-3zM6 53h1v1h-1zM9 53h1v1h-1zM21 53h2v1h-2zM28 53h1v1h-1zM30 53h1v1h-1zM33 53h2v1h-2zM47 53h1v1h-1zM50 53h1v1h-1zM64 53h1v1h-1zM68 53h1v1h-1zM1 52h1v1h-1zM3 52h1v1h-1zM7 52h2v1h-2zM20 52h1v1h-1zM24 52h1v1h-1zM26 52h1v1h-1zM28 52h2v1h-2zM31 52h1v1h-1zM46 52h1v1h-1zM50 52h1v1h-1zM59 52h2v1h-2zM73 52h1v1h-1zM0 51h2v1h-2zM3 51h1v1h-1zM8 51h1v1h-1zM21 51h1v1h-1zM29 51h2v1h-2zM32 51h1v1h-1zM45 51h1v1h-1zM48 51h1v1h-1zM54 51h1v1h-1zM63 51h1v1h-1zM65 51h1v1h-1zM69 51h1v1h-1zM0 50h3v1h-3zM4 50h2v1h-2zM17 50h1v1h-1zM19 50h1v1h-1zM24 50h1v1h-1zM26 50h1v1h-1zM28 50h4v1h-4zM33 50h2v1h-2zM45 50h1v1h-1zM48 50h1v1h-1zM62 50h1v1h-1zM64 50h1v1h-1zM0 49h2v1h-2zM4 49h2v1h-2zM20 49h1v1h-1zM22 49h1v1h-1zM28 49h1v1h-1zM30 49h1v1h-1zM43 49h1v1h-1zM49 49h1v1h-1zM53 49h2v1h-2zM56 49h1v1h-1zM65 49h1v1h-1zM69 49h1v1h-1zM72 49h2v1h-2zM5 48h2v1h-2zM16 48h1v1h-1zM18 48h5v1h-5zM25 48h2v1h-2zM30 48h1v1h-1zM43 48h1v1h-1zM63 48h1v1h-1zM1 47h1v1h-1zM4 47h1v1h-1zM18 47h1v1h-1zM21 47h1v1h-1zM24 47h2v1h-2zM29 47h1v1h-1zM31 47h1v1h-1zM41 47h1v1h-1zM43 47h2v1h-2zM46 47h1v1h-1zM50 47h1v1h-1zM54 47h1v1h-1zM60 47h1v1h-1zM0 46h1v1h-1zM4 46h1v1h-1zM14 46h1v1h-1zM16 46h2v1h-2zM20 46h4v1h-4zM25 46h1v1h-1zM30 46h1v1h-1zM41 46h2v1h-2zM44 46h1v1h-1zM56 46h1v1h-1zM68 46h1v1h-1zM0 45h1v1h-1zM2 45h2v1h-2zM13 45h1v1h-1zM24 45h1v1h-1zM26 45h1v1h-1zM28 45h1v1h-1zM49 45h1v1h-1zM51 45h2v1h-2zM62 45h2v1h-2zM66 45h1v1h-1zM3 44h1v1h-1zM13 44h1v1h-1zM17 44h1v1h-1zM20 44h1v1h-1zM26 44h2v1h-2zM47 44h1v1h-1zM51 44h1v1h-1zM53 44h1v1h-1zM56 44h2v1h-2zM66 44h1v1h-1zM69 44h1v1h-1zM73 44h1v1h-1zM0 43h1v1h-1zM15 43h1v1h-1zM19 43h8v1h-8zM28 43h1v1h-1zM47 43h1v1h-1zM49 43h1v1h-1zM63 43h1v1h-1zM0 42h1v1h-1zM11 42h1v1h-1zM14 42h5v1h-5zM20 42h7v1h-7zM54 42h1v1h-1zM68 42h2v1h-2zM10 41h1v1h-1zM14 41h2v1h-2zM17 41h3v1h-3zM21 41h1v1h-1zM23 41h3v1h-3zM51 41h1v1h-1zM60 41h1v1h-1zM12 40h1v1h-1zM19 40h1v1h-1zM23 40h1v1h-1zM66 40h3v1h-3zM70 40h1v1h-1zM72 40h1v1h-1zM3 33h1v1h-1zM6 33h1v1h-1zM16 33h1v1h-1zM29 33h2v1h-2zM48 33h1v1h-1zM50 33h1v1h-1zM55 33h1v1h-1zM66 33h1v1h-1zM2 32h1v1h-1zM5 32h1v1h-1zM7 32h2v1h-2zM12 32h1v1h-1zM27 32h2v1h-2zM30 32h3v1h-3zM34 32h1v1h-1zM61 32h1v1h-1zM71 32h1v1h-1zM6 31h1v1h-1zM8 31h2v1h-2zM12 31h2v1h-2zM26 31h1v1h-1zM28 31h1v1h-1zM34 31h1v1h-1zM45 31h1v1h-1zM60 31h1v1h-1zM65 31h1v1h-1zM70 31h1v1h-1zM3 30h1v1h-1zM5 30h2v1h-2zM10 30h1v1h-1zM14 30h1v1h-1zM26 30h1v1h-1zM28 30h1v1h-1zM30 30h2v1h-2zM34 30h1v1h-1zM48 30h1v1h-1zM57 30h1v1h-1zM68 30h1v1h-1zM0 29h2v1h-2zM6 29h2v1h-2zM11 29h1v1h-1zM13 29h1v1h-1zM25 29h1v1h-1zM28 29h1v1h-1zM30 29h2v1h-2zM52 29h1v1h-1zM69 29h1v1h-1zM2 28h4v1h-4zM9 28h1v1h-1zM23 28h2v1h-2zM30 28h1v1h-1zM33 28h1v1h-1zM48 28h1v1h-1zM50 28h1v1h-1zM59 28h1v1h-1zM73 28h1v1h-1zM1 27h2v1h-2zM5 27h1v1h-1zM12 27h1v1h-1zM24 27h1v1h-1zM27 27h1v1h-1zM31 27h3v1h-3zM42 27h1v1h-1zM46 27h1v1h-1zM52 27h1v1h-1zM56 27h1v1h-1zM59 27h1v1h-1zM0 26h4v1h-4zM7 26h1v1h-1zM26 26h2v1h-2zM31 26h2v1h-2zM34 26h1v1h-1zM40 26h1v1h-1zM45 26h1v1h-1zM50 26h1v1h-1zM52 26h1v1h-1zM62 26h1v1h-1zM72 26h2v1h-2zM2 25h1v1h-1zM7 25h2v1h-2zM20 25h1v1h-1zM22 25h1v1h-1zM24 25h3v1h-3zM28 25h1v1h-1zM30 25h1v1h-1zM33 25h1v1h-1zM49 25h2v1h-2zM54 25h1v1h-1zM63 25h2v1h-2zM72 25h1v1h-1zM3 24h1v1h-1zM6 24h1v1h-1zM8 24h1v1h-1zM21 24h2v1h-2zM24 24h1v1h-1zM27 24h1v1h-1zM30 24h1v1h-1zM32 24h2v1h-2zM58 24h1v1h-1zM60 24h1v1h-1zM64 24h1v1h-1zM68 24h1v1h-1zM70 24h2v1h-2zM73 24h1v1h-1zM22 23h2v1h-2zM26 23h9v1h-9zM40 23h1v1h-1zM58 23h1v1h-1zM60 23h1v1h-1zM64 23h2v1h-2zM68 23h1v1h-1zM5 22h2v1h-2zM17 22h2v1h-2zM21 22h1v1h-1zM24 22h1v1h-1zM26 22h2v1h-2zM29 22h1v1h-1zM31 22h1v1h-1zM33 22h1v1h-1zM40 22h1v1h-1zM42 22h1v1h-1zM60 22h1v1h-1zM67 22h1v1h-1zM71 22h2v1h-2zM1 21h1v1h-1zM5 21h1v1h-1zM16 21h1v1h-1zM19 21h4v1h-4zM24 21h2v1h-2zM28 21h6v1h-6zM43 21h1v1h-1zM45 21h1v1h-1zM53 21h1v1h-1zM55 21h1v1h-1zM63 21h1v1h-1zM66 21h1v1h-1zM70 21h2v1h-2zM73 21h1v1h-1zM0 20h1v1h-1zM2 20h2v1h-2zM26 20h1v1h-1zM28 20h2v1h-2zM31 20h1v1h-1zM33 20h2v1h-2zM58 20h1v1h-1zM62 20h1v1h-1zM64 20h1v1h-1zM66 20h2v1h-2zM71 20h1v1h-1zM1 19h1v1h-1zM14 19h1v1h-1zM16 19h1v1h-1zM19 19h1v1h-1zM22 19h2v1h-2zM27 19h3v1h-3zM33 19h1v1h-1zM41 19h1v1h-1zM43 19h1v1h-1zM50 19h1v1h-1zM52 19h1v1h-1zM58 19h1v1h-1zM61 19h1v1h-1zM65 19h1v1h-1zM67 19h1v1h-1zM72 19h1v1h-1zM2 18h1v1h-1zM16 18h3v1h-3zM20 18h1v1h-1zM24 18h1v1h-1zM26 18h1v1h-1zM28 18h7v1h-7zM59 18h1v1h-1zM61 18h1v1h-1zM63 18h1v1h-1zM1 17h1v1h-1zM14 17h2v1h-2zM21 17h3v1h-3zM25 17h1v1h-1zM27 17h1v1h-1zM31 17h2v1h-2zM47 17h1v1h-1zM68 17h1v1h-1zM73 17h1v1h-1zM10 16h3v1h-3zM15 16h1v1h-1zM21 16h1v1h-1zM25 16h1v1h-1zM27 16h1v1h-1zM31 16h1v1h-1zM41 16h1v1h-1zM52 16h1v1h-1zM63 16h2v1h-2zM10 15h1v1h-1zM13 15h1v1h-1zM16 15h1v1h-1zM19 15h1v1h-1zM21 15h1v1h-1zM23 15h2v1h-2zM26 15h1v1h-1zM30 15h1v1h-1zM33 15h1v1h-1zM45 15h1v1h-1zM54 15h1v1h-1zM58 15h1v1h-1zM69 15h1v1h-1zM9 14h3v1h-3zM15 14h1v1h-1zM22 14h2v1h-2zM25 14h1v1h-1zM27 14h1v1h-1zM29 14h3v1h-3zM40 14h1v1h-1zM42 14h3v1h-3zM46 14h2v1h-2zM62 14h1v1h-1zM71 14h1v1h-1zM8 13h1v1h-1zM10 13h1v1h-1zM14 13h3v1h-3zM18 13h2v1h-2zM21 13h1v1h-1zM26 13h2v1h-2zM29 13h2v1h-2zM33 13h2v1h-2zM51 13h1v1h-1zM62 13h1v1h-1zM69 13h1v1h-1zM14 12h1v1h-1zM23 12h1v1h-1zM25 12h3v1h-3zM30 12h1v1h-1zM46 12h1v1h-1zM61 12h1v1h-1zM68 12h1v1h-1zM71 12h1v1h-1zM8 11h1v1h-1zM10 11h3v1h-3zM16 11h1v1h-1zM18 11h1v1h-1zM21 11h1v1h-1zM26 11h1v1h-1zM28 11h1v1h-1zM46 11h1v1h-1zM56 11h1v1h-1zM64 11h1v1h-1zM69 11h1v1h-1zM72 11h1v1h-1zM5 10h2v1h-2zM10 10h1v1h-1zM16 10h1v1h-1zM18 10h1v1h-1zM20 10h1v1h-1zM23 10h1v1h-1zM29 10h1v1h-1zM31 10h1v1h-1zM34 10h1v1h-1zM41 10h1v1h-1zM44 10h1v1h-1zM62 10h1v1h-1zM65 10h1v1h-1zM67 10h1v1h-1zM5 9h1v1h-1zM7 9h3v1h-3zM11 9h4v1h-4zM16 9h4v1h-4zM24 9h3v1h-3zM28 9h1v1h-1zM32 9h1v1h-1zM34 9h1v1h-1zM48 9h1v1h-1zM51 9h1v1h-1zM53 9h2v1h-2zM61 9h2v1h-2zM71 9h1v1h-1zM2 8h1v1h-1zM5 8h1v1h-1zM7 8h3v1h-3zM11 8h2v1h-2zM20 8h2v1h-2zM24 8h3v1h-3zM29 8h1v1h-1zM31 8h1v1h-1zM40 8h1v1h-1zM48 8h1v1h-1zM56 8h1v1h-1zM65 8h1v1h-1zM68 8h1v1h-1zM1 7h1v1h-1zM3 7h1v1h-1zM7 7h1v1h-1zM10 7h4v1h-4zM15 7h1v1h-1zM17 7h6v1h-6zM24 7h2v1h-2zM28 7h1v1h-1zM31 7h3v1h-3zM40 7h3v1h-3zM44 7h1v1h-1zM46 7h1v1h-1zM50 7h1v1h-1zM57 7h2v1h-2zM63 7h1v1h-1zM6 6h1v1h-1zM8 6h1v1h-1zM15 6h1v1h-1zM18 6h1v1h-1zM20 6h2v1h-2zM23 6h1v1h-1zM29 6h1v1h-1zM32 6h3v1h-3zM47 6h1v1h-1zM57 6h1v1h-1zM69 6h1v1h-1zM72 6h1v1h-1zM1 5h2v1h-2zM4 5h1v1h-1zM6 5h1v1h-1zM9 5h1v1h-1zM12 5h3v1h-3zM16 5h1v1h-1zM23 5h3v1h-3zM27 5h2v1h-2zM30 5h2v1h-2zM34 5h1v1h-1zM49 5h1v1h-1zM55 5h1v1h-1zM57 5h1v1h-1zM60 5h1v1h-1zM67 5h1v1h-1zM71 5h1v1h-1zM0 4h2v1h-2zM4 4h2v1h-2zM9 4h1v1h-1zM11 4h1v1h-1zM14 4h1v1h-1zM19 4h3v1h-3zM23 4h3v1h-3zM29 4h1v1h-1zM34 4h1v1h-1zM55 4h1v1h-1zM59 4h1v1h-1zM72 4h1v1h-1zM2 3h1v1h-1zM7 3h2v1h-2zM12 3h1v1h-1zM16 3h1v1h-1zM18 3h1v1h-1zM22 3h2v1h-2zM26 3h2v1h-2zM30 3h1v1h-1zM33 3h2v1h-2zM66 3h1v1h-1zM1 2h1v1h-1zM3 2h1v1h-1zM5 2h1v1h-1zM7 2h1v1h-1zM9 2h2v1h-2zM12 2h2v1h-2zM17 2h1v1h-1zM19 2h2v1h-2zM23 2h2v1h-2zM26 2h1v1h-1zM28 2h1v1h-1zM33 2h1v1h-1zM41 2h1v1h-1zM45 2h1v1h-1zM52 2h1v1h-1zM62 2h1v1h-1zM71 2h1v1h-1zM1 1h1v1h-1zM4 1h1v1h-1zM8 1h1v1h-1zM10 1h4v1h-4zM16 1h6v1h-6zM28 1h1v1h-1zM30 1h1v1h-1zM32 1h2v1h-2zM42 1h1v1h-1zM45 1h1v1h-1zM49 1h1v1h-1zM53 1h1v1h-1zM55 1h1v1h-1zM61 1h1v1h-1zM69 1h1v1h-1zM1 -0.16h3v1.16h-3zM7 -0.16h1v1.16h-1zM9 -0.16h1v1.16h-1zM13 -0.16h5v1.16h-5zM19 -0.16h2v1.16h-2zM24 -0.16h4v1.16h-4zM29 -0.16h1v1.16h-1zM31 -0.16h1v1.16h-1zM33 -0.16h1v1.16h-1zM41 -0.16h1v1.16h-1zM50 -0.16h1v1.16h-1zM58 -0.16h1v1.16h-1zM62 -0.16h2v1.16h-2zM71 -0.16h1v1.16h-1z"/>
<path fill="rgb(59,125,212)" d="M19 73h1v1h-1zM23 73h1v1h-1zM0 72h1v1h-1zM16 72h1v1h-1zM23 72h1v1h-1zM25 72h1v1h-1zM58 72h2v1h-2zM66 72h1v1h-1zM1 71h1v1h-1zM11 71h1v1h-1zM24 71h1v1h-1zM58 71h1v1h-1zM65 71h1v1h-1zM67 71h1v1h-1zM19 70h1v1h-1zM24 70h2v1h-2zM65 70h1v1h-1zM3 69h2v1h-2zM9 69h1v1h-1zM21 69h1v1h-1zM25 69h1v1h-1zM5 68h2v1h-2zM8 68h1v1h-1zM13 68h3v1h-3zM18 68h1v1h-1zM23 68h1v1h-1zM54 68h1v1h-1zM63 68h1v1h-1zM1 67h1v1h-1zM4 67h1v1h-1zM6 67h1v1h-1zM9 67h2v1h-2zM12 67h1v1h-1zM21 67h2v1h-2zM61 67h1v1h-1zM63 67h1v1h-1zM7 66h1v1h-1zM31 66h1v1h-1zM53 66h1v1h-1zM60 66h1v1h-1zM2 65h1v1h-1zM5 65h1v1h-1zM16 65h1v1h-1zM18 65h1v1h-1zM20 65h1v1h-1zM31 65h2v1h-2zM51 65h2v1h-2zM59 65h2v1h-2zM4 64h1v1h-1zM17 64h1v1h-1zM19 64h1v1h-1zM21 64h1v1h-1zM31 64h1v1h-1zM51 64h1v1h-1zM7 63h1v1h-1zM11 63h2v1h-2zM19 63h1v1h-1zM28 63h1v1h-1zM33 63h1v1h-1zM59 63h1v1h-1zM0 62h1v1h-1zM2 62h1v1h-1zM6 62h2v1h-2zM12 62h1v1h-1zM28 62h1v1h-1zM30 62h1v1h-1zM34 62h1v1h-1zM49 62h1v1h-1zM57 62h1v1h-1zM0 61h1v1h-1zM4 61h1v1h-1zM9 61h1v1h-1zM29 61h1v1h-1zM3 60h1v1h-1zM9 60h3v1h-3zM13 60h1v1h-1zM16 60h1v1h-1zM26 60h1v1h-1zM31 60h1v1h-1zM46 60h1v1h-1zM8 59h1v1h-1zM10 59h1v1h-1zM13 59h1v1h-1zM15 59h2v1h-2zM28 59h1v1h-1zM44 59h2v1h-2zM0 58h1v1h-1zM27 58h1v1h-1zM32 58h1v1h-1zM45 58h1v1h-1zM52 58h2v1h-2zM14 57h1v1h-1zM24 57h1v1h-1zM32 57h1v1h-1zM12 56h1v1h-1zM24 56h1v1h-1zM28 56h1v1h-1zM34 56h1v1h-1zM50 56h1v1h-1zM2 55h1v1h-1zM4 55h2v1h-2zM9 55h1v1h-1zM11 55h1v1h-1zM22 55h1v1h-1zM41 55h1v1h-1zM49 55h1v1h-1zM21 54h1v1h-1zM40 54h1v1h-1zM48 54h1v1h-1zM8 53h1v1h-1zM10 53h1v1h-1zM20 53h1v1h-1zM23 53h1v1h-1zM27 53h1v1h-1zM32 53h1v1h-1zM48 53h1v1h-1zM6 52h1v1h-1zM19 52h1v1h-1zM33 52h2v1h-2zM5 51h1v1h-1zM19 51h2v1h-2zM22 51h1v1h-1zM24 51h1v1h-1zM26 51h3v1h-3zM3 50h1v1h-1zM7 50h2v1h-2zM23 50h1v1h-1zM44 50h1v1h-1zM17 49h1v1h-1zM25 49h2v1h-2zM1 48h1v1h-1zM3 48h1v1h-1zM29 48h1v1h-1zM0 47h1v1h-1zM2 47h1v1h-1zM5 47h1v1h-1zM19 47h2v1h-2zM26 47h1v1h-1zM28 47h1v1h-1zM30 47h1v1h-1zM42 47h1v1h-1zM18 46h1v1h-1zM27 46h1v1h-1zM14 45h1v1h-1zM18 45h3v1h-3zM22 45h1v1h-1zM27 45h1v1h-1zM1 44h2v1h-2zM12 44h1v1h-1zM14 44h1v1h-1zM16 44h1v1h-1zM21 44h2v1h-2zM29 44h1v1h-1zM11 43h1v1h-1zM13 43h1v1h-1zM27 43h1v1h-1zM27 42h1v1h-1zM9 41h1v1h-1zM11 40h1v1h-1zM14 40h1v1h-1zM20 40h2v1h-2zM24 40h2v1h-2zM40 40h1v1h-1zM43 40h3v1h-3zM52 40h1v1h-1zM57 40h1v1h-1zM61 40h1v1h-1zM65 40h1v1h-1zM58 34h1v1h-1zM73 34h1v1h-1zM7 33h2v1h-2zM11 33h1v1h-1zM13 33h1v1h-1zM15 33h1v1h-1zM17 33h1v1h-1zM27 33h1v1h-1zM34 33h1v1h-1zM42 33h1v1h-1zM44 33h2v1h-2zM47 33h1v1h-1zM49 33h1v1h-1zM52 33h1v1h-1zM54 33h1v1h-1zM58 33h1v1h-1zM63 33h1v1h-1zM65 33h1v1h-1zM73 33h1v1h-1zM3 32h1v1h-1zM9 32h2v1h-2zM14 32h4v1h-4zM26 32h1v1h-1zM0 31h1v1h-1zM4 31h1v1h-1zM16 31h1v1h-1zM25 31h1v1h-1zM27 31h1v1h-1zM32 31h2v1h-2zM4 30h1v1h-1zM15 30h1v1h-1zM24 30h2v1h-2zM27 30h1v1h-1zM2 29h1v1h-1zM4 29h1v1h-1zM8 29h1v1h-1zM12 29h1v1h-1zM33 29h1v1h-1zM0 28h1v1h-1zM10 28h2v1h-2zM13 28h1v1h-1zM31 28h1v1h-1zM34 28h1v1h-1zM7 27h1v1h-1zM34 27h1v1h-1zM9 26h3v1h-3zM20 26h1v1h-1zM22 26h1v1h-1zM29 26h1v1h-1zM1 25h1v1h-1zM3 25h1v1h-1zM19 25h1v1h-1zM23 25h1v1h-1zM31 25h2v1h-2zM7 24h1v1h-1zM19 24h1v1h-1zM28 24h1v1h-1zM31 24h1v1h-1zM17 23h3v1h-3zM24 23h1v1h-1zM16 22h1v1h-1zM30 22h1v1h-1zM3 21h2v1h-2zM15 21h1v1h-1zM26 21h1v1h-1zM15 20h1v1h-1zM23 20h1v1h-1zM25 20h1v1h-1zM30 20h1v1h-1zM32 20h1v1h-1zM2 19h1v1h-1zM13 19h1v1h-1zM15 19h1v1h-1zM31 19h1v1h-1zM0 18h1v1h-1zM12 18h1v1h-1zM19 18h1v1h-1zM21 18h2v1h-2zM16 17h3v1h-3zM28 17h1v1h-1zM30 17h1v1h-1zM34 17h1v1h-1zM14 16h1v1h-1zM26 16h1v1h-1zM14 15h2v1h-2zM28 15h1v1h-1zM31 15h1v1h-1zM34 15h1v1h-1zM8 14h1v1h-1zM12 14h1v1h-1zM14 14h1v1h-1zM16 14h2v1h-2zM19 14h2v1h-2zM26 14h1v1h-1zM34 14h1v1h-1zM13 13h1v1h-1zM17 13h1v1h-1zM22 13h1v1h-1zM7 12h1v1h-1zM10 12h1v1h-1zM19 12h1v1h-1zM31 12h1v1h-1zM34 12h1v1h-1zM5 11h1v1h-1zM7 11h1v1h-1zM23 11h1v1h-1zM27 11h1v1h-1zM32 11h1v1h-1zM13 10h2v1h-2zM24 10h1v1h-1zM6 9h1v1h-1zM33 9h1v1h-1zM3 8h1v1h-1zM19 8h1v1h-1zM22 8h1v1h-1zM28 8h1v1h-1zM34 8h1v1h-1zM0 7h1v1h-1zM5 7h1v1h-1zM0 6h2v1h-2zM5 6h1v1h-1zM7 6h1v1h-1zM9 6h2v1h-2zM13 6h1v1h-1zM16 6h1v1h-1zM19 6h1v1h-1zM24 6h1v1h-1zM31 6h1v1h-1zM0 5h1v1h-1zM11 5h1v1h-1zM20 5h2v1h-2zM32 5h1v1h-1zM6 4h1v1h-1zM18 4h1v1h-1zM28 4h1v1h-1zM1 3h1v1h-1zM4 3h1v1h-1zM6 3h1v1h-1zM17 3h1v1h-1zM24 3h1v1h-1zM4 2h1v1h-1zM31 2h2v1h-2zM15 1h1v1h-1zM23 1h1v1h-1zM26 1h1v1h-1zM8 -0.16h1v1.16h-1zM10 -0.16h1v1.16h-1zM18 -0.16h1v1.16h-1zM21 -0.16h1v1.16h-1zM28 -0.16h1v1.16h-1zM34 -0.16h1v1.16h-1z"/>
<path fill="rgb(62,132,209)" d="M8 73h1v1h-1zM17 73h1v1h-1zM24 73h1v1h-1zM27 73h1v1h-1zM2 72h2v1h-2zM19 72h1v1h-1zM24 72h1v1h-1zM27 72h1v1h-1zM4 71h2v1h-2zM13 71h1v1h-1zM18 71h1v1h-1zM25 71h3v1h-3zM5 70h1v1h-1zM57 70h1v1h-1zM64 70h1v1h-1zM0 69h1v1h-1zM24 69h1v1h-1zM33 69h2v1h-2zM56 69h1v1h-1zM2 68h1v1h-1zM20 68h1v1h-1zM24 68h1v1h-1zM62 68h1v1h-1zM15 67h1v1h-1zM17 67h1v1h-1zM23 67h1v1h-1zM33 67h1v1h-1zM0 66h1v1h-1zM3 66h1v1h-1zM18 66h3v1h-3zM22 66h1v1h-1zM10 65h1v1h-1zM12 65h1v1h-1zM17 65h1v1h-1zM33 65h1v1h-1zM2 64h2v1h-2zM5 64h1v1h-1zM18 64h1v1h-1zM20 64h1v1h-1zM58 64h1v1h-1zM0 63h1v1h-1zM14 63h1v1h-1zM20 63h1v1h-1zM29 63h2v1h-2zM32 63h1v1h-1zM34 63h1v1h-1zM49 63h2v1h-2zM15 62h1v1h-1zM56 62h1v1h-1zM6 61h1v1h-1zM17 61h2v1h-2zM30 61h1v1h-1zM32 61h1v1h-1zM48 61h1v1h-1zM55 61h1v1h-1zM7 60h1v1h-1zM17 60h1v1h-1zM27 60h1v1h-1zM47 60h1v1h-1zM54 60h1v1h-1zM3 59h2v1h-2zM11 59h2v1h-2zM25 59h3v1h-3zM29 59h1v1h-1zM32 59h1v1h-1zM3 58h1v1h-1zM12 58h1v1h-1zM25 58h1v1h-1zM0 57h2v1h-2zM6 57h1v1h-1zM8 57h1v1h-1zM23 57h1v1h-1zM25 57h2v1h-2zM30 57h1v1h-1zM33 57h1v1h-1zM13 56h2v1h-2zM32 56h1v1h-1zM0 55h1v1h-1zM7 55h1v1h-1zM12 55h1v1h-1zM21 55h1v1h-1zM27 55h1v1h-1zM30 55h1v1h-1zM34 55h1v1h-1zM42 55h1v1h-1zM3 54h1v1h-1zM6 54h1v1h-1zM23 54h1v1h-1zM7 53h1v1h-1zM19 53h1v1h-1zM31 53h1v1h-1zM0 52h1v1h-1zM10 52h1v1h-1zM18 52h1v1h-1zM32 52h1v1h-1zM45 52h1v1h-1zM18 51h1v1h-1zM23 51h1v1h-1zM20 50h2v1h-2zM27 50h1v1h-1zM6 49h1v1h-1zM16 49h1v1h-1zM31 49h1v1h-1zM33 49h2v1h-2zM2 48h1v1h-1zM4 48h1v1h-1zM15 48h1v1h-1zM23 48h2v1h-2zM33 48h1v1h-1zM42 48h1v1h-1zM3 47h1v1h-1zM23 47h1v1h-1zM27 47h1v1h-1zM33 47h1v1h-1zM2 46h2v1h-2zM13 46h1v1h-1zM26 46h1v1h-1zM32 46h1v1h-1zM40 46h1v1h-1zM21 45h1v1h-1zM25 45h1v1h-1zM29 45h1v1h-1zM31 45h1v1h-1zM30 44h1v1h-1zM2 43h1v1h-1zM12 43h1v1h-1zM14 43h1v1h-1zM18 43h1v1h-1zM1 42h1v1h-1zM10 42h1v1h-1zM12 42h1v1h-1zM11 41h1v1h-1zM8 40h1v1h-1zM13 40h1v1h-1zM18 40h1v1h-1zM22 40h1v1h-1zM40 39h1v1h-1zM50 39h1v1h-1zM52 39h1v1h-1zM59 39h1v1h-1zM66 39h1v1h-1zM71 39h1v1h-1zM73 39h1v1h-1zM42 34h1v1h-1zM48 34h1v1h-1zM55 34h1v1h-1zM69 34h1v1h-1zM71 34h1v1h-1zM4 33h2v1h-2zM10 33h1v1h-1zM12 33h1v1h-1zM14 33h1v1h-1zM18 33h1v1h-1zM28 33h1v1h-1zM32 33h2v1h-2zM1 32h1v1h-1zM11 32h1v1h-1zM29 32h1v1h-1zM1 31h1v1h-1zM14 31h2v1h-2zM30 31h1v1h-1zM1 30h1v1h-1zM8 30h1v1h-1zM13 30h1v1h-1zM33 30h1v1h-1zM14 29h1v1h-1zM26 29h1v1h-1zM28 28h2v1h-2zM32 28h1v1h-1zM4 27h1v1h-1zM10 27h1v1h-1zM21 27h2v1h-2zM29 27h1v1h-1zM5 26h1v1h-1zM23 26h1v1h-1zM25 26h1v1h-1zM33 26h1v1h-1zM6 25h1v1h-1zM21 25h1v1h-1zM29 25h1v1h-1zM9 24h1v1h-1zM18 24h1v1h-1zM25 24h2v1h-2zM5 23h1v1h-1zM16 23h1v1h-1zM2 22h2v1h-2zM7 22h2v1h-2zM23 22h1v1h-1zM25 22h1v1h-1zM0 21h1v1h-1zM6 21h1v1h-1zM14 21h1v1h-1zM4 20h2v1h-2zM16 20h2v1h-2zM3 19h2v1h-2zM18 19h1v1h-1zM34 19h1v1h-1zM3 18h1v1h-1zM11 18h1v1h-1zM13 18h1v1h-1zM15 18h1v1h-1zM25 18h1v1h-1zM0 17h1v1h-1zM1 16h1v1h-1zM19 16h2v1h-2zM23 16h2v1h-2zM30 16h1v1h-1zM32 16h1v1h-1zM8 15h1v1h-1zM12 15h1v1h-1zM25 15h1v1h-1zM27 15h1v1h-1zM29 15h1v1h-1zM32 15h1v1h-1zM13 14h1v1h-1zM21 14h1v1h-1zM28 14h1v1h-1zM7 13h1v1h-1zM24 13h2v1h-2zM31 13h2v1h-2zM6 12h1v1h-1zM9 12h1v1h-1zM12 12h1v1h-1zM32 12h1v1h-1zM6 11h1v1h-1zM9 11h1v1h-1zM15 11h1v1h-1zM19 11h1v1h-1zM22 11h1v1h-1zM29 11h1v1h-1zM31 11h1v1h-1zM3 10h1v1h-1zM25 10h1v1h-1zM28 10h1v1h-1zM30 10h1v1h-1zM33 10h1v1h-1zM2 9h1v1h-1zM20 9h1v1h-1zM1 8h1v1h-1zM23 8h1v1h-1zM33 8h1v1h-1zM2 7h1v1h-1zM4 6h1v1h-1zM11 6h2v1h-2zM25 6h3v1h-3zM30 6h1v1h-1zM3 5h1v1h-1zM17 5h1v1h-1zM22 5h1v1h-1zM26 5h1v1h-1zM3 4h1v1h-1zM7 4h2v1h-2zM12 4h1v1h-1zM15 4h1v1h-1zM5 3h1v1h-1zM10 3h2v1h-2zM13 3h1v1h-1zM19 3h1v1h-1zM31 3h1v1h-1zM8 2h1v1h-1zM15 2h1v1h-1zM29 2h1v1h-1zM34 2h1v1h-1zM0 1h1v1h-1zM5 1h1v1h-1zM7 1h1v1h-1zM22 1h1v1h-1zM24 1h1v1h-1zM27 1h1v1h-1zM29 1h1v1h-1zM0 -0.16h1v1.16h-1zM5 -0.16h1v1.16h-1zM12 -0.16h1v1.16h-1zM22 -0.16h1v1.16h-1zM30 -0.16h1v1.16h-1z"/>
<path fill="rgb(64,139,206)" d="M28 73h1v1h-1zM60 73h1v1h-1zM59 71h1v1h-1zM34 70h1v1h-1zM58 70h1v1h-1zM63 69h1v1h-1zM25 68h1v1h-1zM32 68h2v1h-2zM55 68h1v1h-1zM24 67h1v1h-1zM31 67h2v1h-2zM30 66h1v1h-1zM21 65h1v1h-1zM28 64h1v1h-1zM18 62h2v1h-2zM27 62h1v1h-1zM25 60h1v1h-1zM17 59h1v1h-1zM24 59h1v1h-1zM53 59h1v1h-1zM15 58h2v1h-2zM24 58h1v1h-1zM44 57h1v1h-1zM22 56h1v1h-1zM43 56h1v1h-1zM20 54h1v1h-1zM41 54h1v1h-1zM11 53h1v1h-1zM40 53h1v1h-1zM9 51h1v1h-1zM9 50h1v1h-1zM16 50h1v1h-1zM43 50h1v1h-1zM7 49h2v1h-2zM14 48h1v1h-1zM6 47h1v1h-1zM14 47h2v1h-2zM32 47h1v1h-1zM5 46h1v1h-1zM31 46h1v1h-1zM12 45h1v1h-1zM30 45h1v1h-1zM11 44h1v1h-1zM1 43h1v1h-1zM10 43h1v1h-1zM29 43h1v1h-1zM2 42h1v1h-1zM0 41h1v1h-1zM26 41h1v1h-1zM9 40h2v1h-2zM16 40h2v1h-2zM26 40h1v1h-1zM34 40h1v1h-1zM41 39h1v1h-1zM44 39h1v1h-1zM46 39h1v1h-1zM48 39h2v1h-2zM51 39h1v1h-1zM53 39h3v1h-3zM57 39h1v1h-1zM60 39h3v1h-3zM64 39h2v1h-2zM68 39h1v1h-1zM70 39h1v1h-1zM40 34h2v1h-2zM44 34h2v1h-2zM47 34h1v1h-1zM50 34h2v1h-2zM54 34h1v1h-1zM56 34h1v1h-1zM59 34h1v1h-1zM62 34h7v1h-7zM72 34h1v1h-1zM2 33h1v1h-1zM9 33h1v1h-1zM19 33h1v1h-1zM31 33h1v1h-1zM18 32h1v1h-1zM15 29h1v1h-1zM23 29h1v1h-1zM14 28h1v1h-1zM22 28h1v1h-1zM13 27h1v1h-1zM20 27h1v1h-1zM12 26h1v1h-1zM10 25h1v1h-1zM17 24h1v1h-1zM8 23h1v1h-1zM7 21h1v1h-1zM5 19h1v1h-1zM12 19h1v1h-1zM10 17h2v1h-2zM9 16h1v1h-1zM9 15h1v1h-1zM6 13h1v1h-1zM5 12h1v1h-1zM3 9h1v1h-1z"/>
<path fill="rgb(67,146,204)" d="M29 73h1v1h-1zM28 72h1v1h-1zM60 72h1v1h-1zM65 72h1v1h-1zM26 70h1v1h-1zM57 69h1v1h-1zM62 69h1v1h-1zM56 68h1v1h-1zM61 68h1v1h-1zM23 66h1v1h-1zM59 66h1v1h-1zM22 65h1v1h-1zM30 65h1v1h-1zM58 65h1v1h-1zM56 63h1v1h-1zM26 61h1v1h-1zM52 59h1v1h-1zM23 58h1v1h-1zM51 58h1v1h-1zM15 57h1v1h-1zM22 57h1v1h-1zM50 57h1v1h-1zM21 56h1v1h-1zM49 56h1v1h-1zM20 55h1v1h-1zM48 55h1v1h-1zM12 54h1v1h-1zM47 54h1v1h-1zM18 53h1v1h-1zM46 53h1v1h-1zM15 49h1v1h-1zM7 48h1v1h-1zM34 48h1v1h-1zM41 48h1v1h-1zM13 47h1v1h-1zM40 47h1v1h-1zM4 45h1v1h-1zM32 45h1v1h-1zM28 42h1v1h-1zM8 41h1v1h-1zM27 41h1v1h-1zM34 41h1v1h-1zM33 40h1v1h-1zM42 39h2v1h-2zM45 39h1v1h-1zM47 39h1v1h-1zM56 39h1v1h-1zM58 39h1v1h-1zM63 39h1v1h-1zM67 39h1v1h-1zM69 39h1v1h-1zM72 39h1v1h-1zM43 34h1v1h-1zM46 34h1v1h-1zM49 34h1v1h-1zM52 34h2v1h-2zM57 34h1v1h-1zM60 34h2v1h-2zM70 34h1v1h-1zM1 33h1v1h-1zM0 32h1v1h-1zM25 32h1v1h-1zM17 31h1v1h-1zM24 31h1v1h-1zM16 30h1v1h-1zM23 30h1v1h-1zM22 29h1v1h-1zM21 28h1v1h-1zM19 26h1v1h-1zM18 25h1v1h-1zM10 24h1v1h-1zM9 23h1v1h-1zM15 22h1v1h-1zM6 20h1v1h-1zM4 18h1v1h-1zM2 17h1v1h-1zM2 16h1v1h-1zM0 15h1v1h-1zM7 14h1v1h-1zM39 14h1v1h-1zM4 11h1v1h-1z"/>
<path fill="rgb(69,150,202)" d="M61 73h1v1h-1zM66 73h1v1h-1zM29 72h1v1h-1zM33 70h1v1h-1zM26 69h1v1h-1zM55 67h1v1h-1zM60 67h1v1h-1zM54 66h1v1h-1zM29 65h1v1h-1zM53 65h1v1h-1zM22 64h1v1h-1zM57 64h1v1h-1zM21 63h1v1h-1zM51 63h1v1h-1zM20 62h1v1h-1zM26 62h1v1h-1zM55 62h1v1h-1zM19 61h1v1h-1zM54 61h1v1h-1zM18 60h1v1h-1zM48 60h1v1h-1zM53 60h1v1h-1zM47 59h1v1h-1zM45 57h1v1h-1zM13 55h1v1h-1zM13 54h1v1h-1zM19 54h1v1h-1zM11 52h1v1h-1zM17 52h1v1h-1zM10 51h1v1h-1zM17 51h1v1h-1zM44 51h1v1h-1zM42 49h1v1h-1zM8 48h1v1h-1zM33 46h1v1h-1zM11 45h1v1h-1zM10 44h1v1h-1zM3 43h1v1h-1zM9 42h1v1h-1zM29 42h1v1h-1zM1 41h1v1h-1zM26 33h1v1h-1zM39 30h1v1h-1zM39 29h1v1h-1zM39 28h1v1h-1zM39 27h1v1h-1zM11 25h1v1h-1zM39 25h1v1h-1zM39 23h1v1h-1zM39 22h1v1h-1zM39 21h1v1h-1zM13 20h1v1h-1zM39 20h1v1h-1zM3 17h1v1h-1zM39 17h1v1h-1zM1 15h1v1h-1zM7 15h1v1h-1zM39 12h1v1h-1zM2 10h1v1h-1zM39 10h1v1h-1zM39 9h1v1h-1zM0 8h1v1h-1zM39 7h1v1h-1zM39 6h1v1h-1zM39 5h1v1h-1zM39 3h1v1h-1zM39 2h1v1h-1zM39 -0.16h1v1.16h-1z"/>
<path fill="rgb(70,154,200)" d="M30 73h1v1h-1zM34 71h1v1h-1zM64 71h1v1h-1zM27 70h1v1h-1zM63 70h1v1h-1zM32 69h1v1h-1zM39 69h1v1h-1zM30 67h1v1h-1zM24 66h1v1h-1zM23 65h1v1h-1zM39 65h1v1h-1zM52 64h1v1h-1zM27 63h1v1h-1zM50 62h1v1h-1zM25 61h1v1h-1zM39 61h1v1h-1zM49 61h1v1h-1zM24 60h1v1h-1zM22 58h1v1h-1zM39 58h1v1h-1zM46 58h1v1h-1zM16 57h1v1h-1zM15 56h1v1h-1zM39 56h1v1h-1zM44 56h1v1h-1zM14 55h1v1h-1zM43 55h1v1h-1zM12 53h1v1h-1zM16 51h1v1h-1zM14 49h1v1h-1zM7 47h1v1h-1zM34 47h1v1h-1zM6 46h1v1h-1zM12 46h1v1h-1zM4 44h1v1h-1zM31 44h1v1h-1zM9 43h1v1h-1zM28 41h1v1h-1zM0 40h1v1h-1zM7 40h1v1h-1zM27 40h1v1h-1zM9 39h1v1h-1zM14 39h2v1h-2zM22 39h1v1h-1zM17 34h1v1h-1zM30 34h1v1h-1zM39 33h1v1h-1zM35 30h1v1h-1zM21 29h1v1h-1zM20 28h1v1h-1zM35 27h1v1h-1zM39 26h1v1h-1zM17 25h1v1h-1zM39 24h1v1h-1zM15 23h1v1h-1zM12 20h1v1h-1zM39 19h1v1h-1zM10 18h1v1h-1zM39 18h1v1h-1zM9 17h1v1h-1zM35 17h1v1h-1zM8 16h1v1h-1zM39 16h1v1h-1zM39 15h1v1h-1zM0 14h1v1h-1zM6 14h1v1h-1zM39 13h1v1h-1zM3 11h1v1h-1zM39 11h1v1h-1zM1 9h1v1h-1zM39 8h1v1h-1zM35 4h1v1h-1zM39 4h1v1h-1zM39 1h1v1h-1z"/>
<path fill="rgb(72,159,199)" d="M62 73h1v1h-1zM28 71h1v1h-1zM39 71h1v1h-1zM58 69h1v1h-1zM31 68h1v1h-1zM39 68h1v1h-1zM25 67h1v1h-1zM39 67h1v1h-1zM29 66h1v1h-1zM27 64h1v1h-1zM26 63h1v1h-1zM39 62h1v1h-1zM53 61h1v1h-1zM19 60h1v1h-1zM39 60h1v1h-1zM23 59h1v1h-1zM39 59h1v1h-1zM21 57h1v1h-1zM39 57h1v1h-1zM48 56h1v1h-1zM39 55h1v1h-1zM47 55h1v1h-1zM39 54h1v1h-1zM42 54h1v1h-1zM46 54h1v1h-1zM41 53h1v1h-1zM45 53h1v1h-1zM40 52h1v1h-1zM44 52h1v1h-1zM11 51h1v1h-1zM43 51h1v1h-1zM10 50h1v1h-1zM15 50h1v1h-1zM42 50h1v1h-1zM9 49h1v1h-1zM41 49h1v1h-1zM40 48h1v1h-1zM5 45h1v1h-1zM39 45h1v1h-1zM39 44h1v1h-1zM30 43h1v1h-1zM8 42h1v1h-1zM2 41h1v1h-1zM39 41h1v1h-1zM6 40h1v1h-1zM7 39h1v1h-1zM10 39h1v1h-1zM12 39h2v1h-2zM17 39h4v1h-4zM32 39h2v1h-2zM3 34h2v1h-2zM7 34h1v1h-1zM10 34h1v1h-1zM12 34h3v1h-3zM16 34h1v1h-1zM19 34h2v1h-2zM29 34h1v1h-1zM32 34h2v1h-2zM0 33h1v1h-1zM25 33h1v1h-1zM35 33h1v1h-1zM19 32h1v1h-1zM35 32h1v1h-1zM39 32h1v1h-1zM18 31h1v1h-1zM35 31h1v1h-1zM39 31h1v1h-1zM16 29h1v1h-1zM35 29h1v1h-1zM19 27h1v1h-1zM13 26h1v1h-1zM12 25h1v1h-1zM16 24h1v1h-1zM35 24h1v1h-1zM10 23h1v1h-1zM14 22h1v1h-1zM35 22h1v1h-1zM8 21h1v1h-1zM11 19h1v1h-1zM35 18h1v1h-1zM35 16h1v1h-1zM35 15h1v1h-1zM35 14h1v1h-1zM5 13h1v1h-1zM35 13h1v1h-1zM4 12h1v1h-1zM35 12h1v1h-1zM35 11h1v1h-1zM35 10h1v1h-1zM35 9h1v1h-1zM35 7h1v1h-1zM35 6h1v1h-1zM35 5h1v1h-1zM35 3h1v1h-1zM35 2h1v1h-1zM35 1h1v1h-1zM35 -0.16h1v1.16h-1z"/>
<path fill="rgb(74,163,197)" d="M39 73h1v1h-1zM65 73h1v1h-1zM34 72h1v1h-1zM39 72h1v1h-1zM61 72h1v1h-1zM64 72h1v1h-1zM60 71h1v1h-1zM63 71h1v1h-1zM39 70h1v1h-1zM59 70h1v1h-1zM27 69h1v1h-1zM61 69h1v1h-1zM26 68h1v1h-1zM56 67h1v1h-1zM39 66h1v1h-1zM55 66h1v1h-1zM58 66h1v1h-1zM28 65h1v1h-1zM35 65h1v1h-1zM35 64h1v1h-1zM39 64h1v1h-1zM56 64h1v1h-1zM22 63h1v1h-1zM39 63h1v1h-1zM55 63h1v1h-1zM21 62h1v1h-1zM25 62h1v1h-1zM35 62h1v1h-1zM54 62h1v1h-1zM20 61h1v1h-1zM24 61h1v1h-1zM18 59h1v1h-1zM51 59h1v1h-1zM17 58h1v1h-1zM35 58h1v1h-1zM50 58h1v1h-1zM35 57h1v1h-1zM49 57h1v1h-1zM20 56h1v1h-1zM35 55h1v1h-1zM18 54h1v1h-1zM13 53h1v1h-1zM17 53h1v1h-1zM39 53h1v1h-1zM12 52h1v1h-1zM35 52h1v1h-1zM39 52h1v1h-1zM35 51h1v1h-1zM13 48h1v1h-1zM12 47h1v1h-1zM11 46h1v1h-1zM5 44h1v1h-1zM9 44h1v1h-1zM4 43h1v1h-1zM39 43h1v1h-1zM3 42h1v1h-1zM39 42h1v1h-1zM7 41h1v1h-1zM1 40h1v1h-1zM32 40h1v1h-1zM39 40h1v1h-1zM6 39h1v1h-1zM8 39h1v1h-1zM11 39h1v1h-1zM16 39h1v1h-1zM21 39h1v1h-1zM23 39h2v1h-2zM34 39h1v1h-1zM39 39h1v1h-1zM41 38h1v1h-1zM44 38h18v1h-18zM63 38h3v1h-3zM67 38h6v1h-6zM41 35h1v1h-1zM43 35h1v1h-1zM47 35h1v1h-1zM49 35h1v1h-1zM52 35h5v1h-5zM58 35h3v1h-3zM62 35h1v1h-1zM64 35h5v1h-5zM70 35h4v1h-4zM2 34h1v1h-1zM5 34h2v1h-2zM8 34h2v1h-2zM11 34h1v1h-1zM15 34h1v1h-1zM18 34h1v1h-1zM27 34h2v1h-2zM31 34h1v1h-1zM34 34h1v1h-1zM20 33h1v1h-1zM24 32h1v1h-1zM23 31h1v1h-1zM17 30h1v1h-1zM22 30h1v1h-1zM15 28h1v1h-1zM35 28h1v1h-1zM14 27h1v1h-1zM18 26h1v1h-1zM35 26h1v1h-1zM35 25h1v1h-1zM11 24h1v1h-1zM35 23h1v1h-1zM9 22h1v1h-1zM13 21h1v1h-1zM35 21h1v1h-1zM7 20h1v1h-1zM35 20h1v1h-1zM6 19h1v1h-1zM35 19h1v1h-1zM5 18h1v1h-1zM2 15h1v1h-1zM1 14h1v1h-1zM35 8h1v1h-1z"/>
<path fill="rgb(77,166,191)" d="M30 72h1v1h-1zM29 71h1v1h-1zM33 71h1v1h-1zM28 70h1v1h-1zM32 70h1v1h-1zM62 70h1v1h-1zM31 69h1v1h-1zM35 69h1v1h-1zM30 68h1v1h-1zM35 68h1v1h-1zM57 68h1v1h-1zM60 68h1v1h-1zM35 67h1v1h-1zM59 67h1v1h-1zM35 66h1v1h-1zM24 65h1v1h-1zM54 65h1v1h-1zM57 65h1v1h-1zM53 64h1v1h-1zM35 63h1v1h-1zM52 63h1v1h-1zM51 62h1v1h-1zM50 61h1v1h-1zM23 60h1v1h-1zM35 60h1v1h-1zM49 60h1v1h-1zM52 60h1v1h-1zM35 59h1v1h-1zM47 58h1v1h-1zM17 57h1v1h-1zM46 57h1v1h-1zM35 56h1v1h-1zM45 56h1v1h-1zM15 55h1v1h-1zM19 55h1v1h-1zM44 55h1v1h-1zM14 54h1v1h-1zM35 54h1v1h-1zM35 53h1v1h-1zM16 52h1v1h-1zM15 51h1v1h-1zM39 51h1v1h-1zM35 50h1v1h-1zM39 47h1v1h-1zM7 46h1v1h-1zM34 46h1v1h-1zM39 46h1v1h-1zM6 45h1v1h-1zM10 45h1v1h-1zM33 45h1v1h-1zM31 43h1v1h-1zM30 42h1v1h-1zM34 42h1v1h-1zM29 41h1v1h-1zM33 41h1v1h-1zM35 41h1v1h-1zM35 40h1v1h-1zM0 39h1v1h-1zM5 39h1v1h-1zM25 39h2v1h-2zM40 38h1v1h-1zM42 38h2v1h-2zM62 38h1v1h-1zM66 38h1v1h-1zM73 38h1v1h-1zM40 35h1v1h-1zM42 35h1v1h-1zM44 35h3v1h-3zM48 35h1v1h-1zM50 35h2v1h-2zM57 35h1v1h-1zM61 35h1v1h-1zM63 35h1v1h-1zM69 35h1v1h-1zM1 34h1v1h-1zM21 34h1v1h-1zM39 34h1v1h-1zM4 17h1v1h-1zM3 16h1v1h-1zM5 14h1v1h-1zM0 13h1v1h-1z"/>
<path fill="rgb(80,170,186)" d="M31 73h1v1h-1zM34 73h1v1h-1zM63 73h2v1h-2zM35 72h1v1h-1zM35 71h1v1h-1zM61 71h1v1h-1zM35 70h1v1h-1zM60 70h1v1h-1zM59 69h1v1h-1zM27 68h1v1h-1zM29 67h1v1h-1zM25 66h1v1h-1zM28 66h1v1h-1zM27 65h1v1h-1zM23 64h1v1h-1zM55 64h1v1h-1zM53 62h1v1h-1zM35 61h1v1h-1zM51 60h1v1h-1zM22 59h1v1h-1zM48 59h1v1h-1zM18 58h1v1h-1zM21 58h1v1h-1zM16 56h1v1h-1zM43 54h1v1h-1zM42 53h1v1h-1zM41 52h1v1h-1zM43 52h1v1h-1zM40 51h1v1h-1zM14 50h1v1h-1zM41 50h1v1h-1zM10 49h1v1h-1zM13 49h1v1h-1zM35 49h1v1h-1zM40 49h1v1h-1zM9 48h1v1h-1zM35 48h1v1h-1zM8 47h1v1h-1zM32 44h1v1h-1zM8 43h1v1h-1zM7 42h1v1h-1zM35 42h1v1h-1zM28 40h1v1h-1zM31 39h1v1h-1zM26 34h1v1h-1zM20 32h1v1h-1zM13 22h1v1h-1zM11 20h1v1h-1zM10 19h1v1h-1zM9 18h1v1h-1zM7 16h1v1h-1zM4 13h1v1h-1zM3 12h1v1h-1zM1 10h1v1h-1zM0 9h1v1h-1z"/>
<path fill="rgb(82,174,180)" d="M35 73h1v1h-1zM33 72h1v1h-1zM62 72h2v1h-2zM32 71h1v1h-1zM62 71h1v1h-1zM29 70h1v1h-1zM31 70h1v1h-1zM61 70h1v1h-1zM28 69h1v1h-1zM60 69h1v1h-1zM58 68h2v1h-2zM26 67h1v1h-1zM57 67h2v1h-2zM56 66h2v1h-2zM55 65h2v1h-2zM26 64h1v1h-1zM54 64h1v1h-1zM25 63h1v1h-1zM53 63h2v1h-2zM22 62h1v1h-1zM52 62h1v1h-1zM51 61h2v1h-2zM50 60h1v1h-1zM19 59h1v1h-1zM49 59h2v1h-2zM49 58h1v1h-1zM20 57h1v1h-1zM47 57h2v1h-2zM19 56h1v1h-1zM46 56h2v1h-2zM45 55h2v1h-2zM44 54h2v1h-2zM14 53h1v1h-1zM44 53h1v1h-1zM13 52h1v1h-1zM12 51h1v1h-1zM42 51h1v1h-1zM11 50h1v1h-1zM12 48h1v1h-1zM11 47h1v1h-1zM7 45h1v1h-1zM6 44h1v1h-1zM35 43h1v1h-1zM3 41h1v1h-1zM6 41h1v1h-1zM2 40h1v1h-1zM5 40h1v1h-1zM27 39h1v1h-1zM35 39h1v1h-1zM35 34h1v1h-1zM21 33h1v1h-1zM19 31h1v1h-1zM22 31h1v1h-1zM18 30h1v1h-1zM21 30h1v1h-1zM17 29h1v1h-1zM20 29h1v1h-1zM16 28h1v1h-1zM19 28h1v1h-1zM15 27h1v1h-1zM18 27h1v1h-1zM14 26h1v1h-1zM17 26h1v1h-1zM13 25h1v1h-1zM16 25h1v1h-1zM15 24h1v1h-1zM11 23h1v1h-1zM14 23h1v1h-1zM10 22h1v1h-1zM12 21h1v1h-1zM8 17h1v1h-1zM6 15h1v1h-1zM2 11h1v1h-1z"/>
<path fill="rgb(85,177,174)" d="M32 73h2v1h-2zM31 72h1v1h-1zM30 71h2v1h-2zM30 70h1v1h-1zM30 69h1v1h-1zM29 68h1v1h-1zM27 67h2v1h-2zM26 66h2v1h-2zM25 65h1v1h-1zM24 64h2v1h-2zM23 63h1v1h-1zM23 62h2v1h-2zM21 61h1v1h-1zM23 61h1v1h-1zM20 60h1v1h-1zM22 60h1v1h-1zM21 59h1v1h-1zM19 58h2v1h-2zM48 58h1v1h-1zM18 57h2v1h-2zM17 56h1v1h-1zM16 55h1v1h-1zM18 55h1v1h-1zM15 54h1v1h-1zM17 54h1v1h-1zM16 53h1v1h-1zM43 53h1v1h-1zM15 52h1v1h-1zM42 52h1v1h-1zM41 51h1v1h-1zM13 50h1v1h-1zM40 50h1v1h-1zM12 49h1v1h-1zM10 48h1v1h-1zM9 47h2v1h-2zM35 47h1v1h-1zM8 46h1v1h-1zM10 46h1v1h-1zM9 45h1v1h-1zM34 45h1v1h-1zM8 44h1v1h-1zM33 44h1v1h-1zM5 43h1v1h-1zM32 43h1v1h-1zM34 43h1v1h-1zM4 42h1v1h-1zM31 42h1v1h-1zM33 42h1v1h-1zM5 41h1v1h-1zM30 41h1v1h-1zM32 41h1v1h-1zM31 40h1v1h-1zM1 39h1v1h-1zM44 37h1v1h-1zM50 37h1v1h-1zM57 37h1v1h-1zM59 37h2v1h-2zM66 37h1v1h-1zM71 37h1v1h-1zM47 36h4v1h-4zM54 36h2v1h-2zM57 36h1v1h-1zM61 36h1v1h-1zM73 36h1v1h-1zM0 34h1v1h-1zM22 34h1v1h-1zM24 33h1v1h-1zM23 32h1v1h-1zM38 32h1v1h-1zM38 31h1v1h-1zM38 30h1v1h-1zM38 29h1v1h-1zM38 28h1v1h-1zM38 27h1v1h-1zM38 26h1v1h-1zM38 25h1v1h-1zM12 24h1v1h-1zM38 24h1v1h-1zM38 23h1v1h-1zM38 22h1v1h-1zM9 21h1v1h-1zM38 21h1v1h-1zM38 20h1v1h-1zM7 19h1v1h-1zM38 19h1v1h-1zM38 18h1v1h-1zM5 17h1v1h-1zM38 17h1v1h-1zM38 16h1v1h-1zM38 15h1v1h-1zM38 14h1v1h-1zM38 13h1v1h-1zM38 12h1v1h-1zM38 11h1v1h-1zM38 10h1v1h-1zM38 9h1v1h-1zM38 8h1v1h-1zM38 7h1v1h-1zM38 6h1v1h-1zM38 5h1v1h-1zM38 4h1v1h-1zM38 3h1v1h-1zM38 2h1v1h-1zM38 1h1v1h-1zM38 -0.16h1v1.16h-1z"/>
<path fill="rgb(89,178,169)" d="M32 72h1v1h-1zM29 69h1v1h-1zM28 68h1v1h-1zM26 65h1v1h-1zM24 63h1v1h-1zM22 61h1v1h-1zM21 60h1v1h-1zM20 59h1v1h-1zM18 56h1v1h-1zM17 55h1v1h-1zM16 54h1v1h-1zM15 53h1v1h-1zM14 52h1v1h-1zM13 51h2v1h-2zM12 50h1v1h-1zM39 50h1v1h-1zM11 49h1v1h-1zM11 48h1v1h-1zM39 48h1v1h-1zM9 46h1v1h-1zM8 45h1v1h-1zM7 44h1v1h-1zM6 43h2v1h-2zM33 43h1v1h-1zM5 42h2v1h-2zM4 41h1v1h-1zM31 41h1v1h-1zM3 40h2v1h-2zM29 40h1v1h-1zM4 39h1v1h-1zM39 38h1v1h-1zM40 37h4v1h-4zM45 37h5v1h-5zM51 37h6v1h-6zM58 37h1v1h-1zM61 37h5v1h-5zM67 37h4v1h-4zM72 37h2v1h-2zM40 36h7v1h-7zM51 36h3v1h-3zM56 36h1v1h-1zM58 36h3v1h-3zM62 36h11v1h-11zM39 35h1v1h-1zM21 32h1v1h-1zM8 20h1v1h-1zM6 18h1v1h-1zM4 16h1v1h-1zM3 15h1v1h-1zM2 14h1v1h-1zM1 13h1v1h-1zM0 12h1v1h-1zM0 10h1v1h-1z"/>
<path fill="rgb(92,180,164)" d="M38 73h1v1h-1zM38 72h1v1h-1zM38 71h1v1h-1zM38 70h1v1h-1zM38 69h1v1h-1zM38 68h1v1h-1zM38 67h1v1h-1zM38 66h1v1h-1zM38 65h1v1h-1zM38 64h1v1h-1zM38 63h1v1h-1zM38 62h1v1h-1zM38 61h1v1h-1zM38 60h1v1h-1zM38 59h1v1h-1zM38 58h1v1h-1zM38 57h1v1h-1zM38 56h1v1h-1zM38 55h1v1h-1zM38 54h1v1h-1zM39 49h1v1h-1zM35 46h1v1h-1zM34 44h2v1h-2zM32 42h1v1h-1zM30 40h1v1h-1zM30 39h1v1h-1zM6 38h18v1h-18zM33 38h2v1h-2zM4 35h17v1h-17zM29 35h6v1h-6zM25 34h1v1h-1zM22 33h1v1h-1zM38 33h1v1h-1zM22 32h1v1h-1zM36 32h1v1h-1zM20 31h2v1h-2zM36 31h1v1h-1zM19 30h2v1h-2zM36 30h1v1h-1zM18 29h2v1h-2zM36 29h1v1h-1zM17 28h2v1h-2zM36 28h1v1h-1zM16 27h2v1h-2zM36 27h1v1h-1zM15 26h2v1h-2zM36 26h1v1h-1zM14 25h2v1h-2zM36 25h1v1h-1zM13 24h2v1h-2zM36 24h1v1h-1zM12 23h2v1h-2zM36 23h1v1h-1zM11 22h2v1h-2zM36 22h1v1h-1zM10 21h2v1h-2zM36 21h1v1h-1zM9 20h2v1h-2zM36 20h1v1h-1zM8 19h2v1h-2zM36 19h1v1h-1zM8 18h1v1h-1zM36 18h1v1h-1zM7 17h1v1h-1zM36 17h1v1h-1zM6 16h1v1h-1zM36 16h1v1h-1zM5 15h1v1h-1zM36 15h1v1h-1zM4 14h1v1h-1zM36 14h1v1h-1zM3 13h1v1h-1zM36 13h1v1h-1zM2 12h1v1h-1zM36 12h1v1h-1zM1 11h1v1h-1zM36 11h1v1h-1zM36 10h1v1h-1zM36 9h1v1h-1zM36 8h1v1h-1zM36 7h1v1h-1zM36 6h1v1h-1zM36 5h1v1h-1zM36 4h1v1h-1zM36 3h1v1h-1zM36 2h1v1h-1zM36 1h1v1h-1zM36 -0.16h1v1.16h-1z"/>
<path fill="rgb(96,182,159)" d="M38 53h1v1h-1zM38 44h1v1h-1zM38 41h1v1h-1zM38 40h1v1h-1zM2 39h2v1h-2zM28 39h1v1h-1zM5 38h1v1h-1zM24 38h2v1h-2zM31 38h2v1h-2zM3 35h1v1h-1zM21 35h1v1h-1zM28 35h1v1h-1zM23 34h1v1h-1zM23 33h1v1h-1zM36 33h1v1h-1zM7 18h1v1h-1zM6 17h1v1h-1zM5 16h1v1h-1zM4 15h1v1h-1zM3 14h1v1h-1zM2 13h1v1h-1zM1 12h1v1h-1zM0 11h1v1h-1z"/>
<path fill="rgb(100,183,154)" d="M36 71h1v1h-1zM36 70h1v1h-1zM36 69h1v1h-1zM36 68h1v1h-1zM36 67h1v1h-1zM36 66h1v1h-1zM36 65h1v1h-1zM36 64h1v1h-1zM36 63h1v1h-1zM36 62h1v1h-1zM36 61h1v1h-1zM36 60h1v1h-1zM36 59h1v1h-1zM36 58h1v1h-1zM36 57h1v1h-1zM36 56h1v1h-1zM36 55h1v1h-1zM36 54h1v1h-1zM36 53h1v1h-1zM35 45h1v1h-1zM38 45h1v1h-1zM38 43h1v1h-1zM38 42h1v1h-1zM36 41h1v1h-1zM36 40h1v1h-1zM29 39h1v1h-1zM4 38h1v1h-1zM30 38h1v1h-1zM2 35h1v1h-1zM22 35h1v1h-1zM27 35h1v1h-1zM24 34h1v1h-1zM37 32h1v1h-1zM37 31h1v1h-1zM37 30h1v1h-1zM37 29h1v1h-1zM37 28h1v1h-1zM37 27h1v1h-1zM37 26h1v1h-1zM37 25h1v1h-1zM37 24h1v1h-1zM37 23h1v1h-1zM37 22h1v1h-1zM37 21h1v1h-1zM37 20h1v1h-1zM37 19h1v1h-1zM37 18h1v1h-1zM37 17h1v1h-1zM37 16h1v1h-1zM37 15h1v1h-1zM37 14h1v1h-1zM37 13h1v1h-1zM37 12h1v1h-1zM37 11h1v1h-1zM37 10h1v1h-1zM37 9h1v1h-1zM37 8h1v1h-1zM37 7h1v1h-1zM37 6h1v1h-1zM37 5h1v1h-1zM37 4h1v1h-1zM37 3h1v1h-1zM37 2h1v1h-1zM37 1h1v1h-1zM37 -0.16h1v1.16h-1z"/>
<path fill="rgb(107,184,150)" d="M36 73h1v1h-1zM36 72h1v1h-1zM38 52h1v1h-1zM36 49h1v1h-1zM38 46h1v1h-1zM38 39h1v1h-1zM0 38h2v1h-2zM3 38h1v1h-1zM26 38h1v1h-1zM29 38h1v1h-1zM0 35h2v1h-2zM23 35h1v1h-1zM26 35h1v1h-1z"/>
<path fill="rgb(114,186,145)" d="M36 52h1v1h-1zM36 50h1v1h-1zM38 49h1v1h-1zM36 48h1v1h-1zM38 48h1v1h-1zM38 47h1v1h-1zM36 42h1v1h-1zM2 38h1v1h-1zM27 38h2v1h-2zM35 38h1v1h-1zM24 35h2v1h-2zM38 34h1v1h-1zM37 33h1v1h-1z"/>
<path fill="rgb(121,187,140)" d="M37 72h1v1h-1zM37 71h1v1h-1zM37 70h1v1h-1zM37 69h1v1h-1zM37 68h1v1h-1zM37 67h1v1h-1zM37 66h1v1h-1zM37 65h1v1h-1zM37 64h1v1h-1zM37 63h1v1h-1zM37 62h1v1h-1zM37 61h1v1h-1zM37 60h1v1h-1zM37 59h1v1h-1zM37 58h1v1h-1zM37 57h1v1h-1zM37 56h1v1h-1zM37 55h1v1h-1zM37 54h1v1h-1zM38 50h1v1h-1zM36 47h1v1h-1zM36 45h1v1h-1zM36 44h1v1h-1zM36 43h1v1h-1zM36 39h1v1h-1zM39 37h1v1h-1zM35 35h1v1h-1z"/>
<path fill="rgb(128,188,136)" d="M37 73h1v1h-1zM37 53h1v1h-1zM36 51h1v1h-1zM38 51h1v1h-1zM36 46h1v1h-1zM37 41h1v1h-1zM37 40h1v1h-1zM39 36h1v1h-1zM36 34h1v1h-1z"/>
<path fill="rgb(138,189,132)" d="M37 44h1v1h-1zM5 37h19v1h-19zM31 37h4v1h-4zM4 36h18v1h-18zM30 36h5v1h-5z"/>
<path fill="rgb(148,190,128)" d="M37 49h1v1h-1zM37 45h1v1h-1zM37 39h1v1h-1zM38 38h1v1h-1zM4 37h1v1h-1zM24 37h1v1h-1zM30 37h1v1h-1zM3 36h1v1h-1zM22 36h2v1h-2zM29 36h1v1h-1z"/>
<path fill="rgb(158,191,124)" d="M37 52h1v1h-1zM37 48h1v1h-1zM37 47h1v1h-1zM37 46h1v1h-1zM37 43h1v1h-1zM37 42h1v1h-1zM3 37h1v1h-1zM29 37h1v1h-1zM2 36h1v1h-1zM28 36h1v1h-1z"/>
<path fill="rgb(168,192,120)" d="M37 50h1v1h-1zM36 38h1v1h-1zM0 37h1v1h-1zM2 37h1v1h-1zM25 37h1v1h-1zM28 37h1v1h-1zM1 36h1v1h-1zM24 36h1v1h-1zM27 36h1v1h-1zM37 34h1v1h-1z"/>
<path fill="rgb(177,192,116)" d="M1 37h1v1h-1zM26 37h2v1h-2zM0 36h1v1h-1zM25 36h2v1h-2z"/>
<path fill="rgb(186,191,112)" d="M38 35h1v1h-1z"/>
<path fill="rgb(195,190,108)" d="M35 37h1v1h-1zM35 36h1v1h-1z"/>
<path fill="rgb(204,190,104)" d="M37 51h1v1h-1zM37 38h1v1h-1z"/>
<path fill="rgb(209,192,96)" d="M38 37h1v1h-1zM36 35h1v1h-1z"/>
<path fill="rgb(226,196,72)" d="M38 36h1v1h-1z"/>
<path fill="rgb(234,217,54)" d="M37 35h1v1h-1z"/>
<path fill="rgb(236,224,48)" d="M36 37h1v1h-1z"/>
<path fill="rgb(236,224,48)" d="M37 37h1v1h-1z"/>
<path fill="rgb(236,224,48)" d="M36 36h1v1h-1z"/>
<path fill="rgb(236,224,48)" d="M37 36h1v1h-1z"/>
</svg>
<rect x="470.83" y="313.07" width="83.51" height="52.01" fill="#c8283c" fill-opacity="0.5"/>
<rect x="1289.28" y="313.07" width="83.51" height="52.01" fill="#80ffff" fill-opacity="0.5"/>
<rect x="470.83" y="573.12" width="83.51" height="52.01" fill="#c8283c" fill-opacity="0.5"/>
<rect x="888.4" y="573.12" width="83.52" height="52.01" fill="#000000" fill-opacity="0.5"/>
<rect x="470.83" y="833.17" width="83.51" height="52.01" fill="#80ffff" fill-opacity="0.5"/>
<rect x="888.4" y="833.17" width="83.52" height="52.01" fill="#c8283c" fill-opacity="0.5"/>
<rect x="1289.28" y="833.17" width="83.51" height="52.01" fill="#c8283c" fill-opacity="0.5"/>
<rect x="304" y="207.7" width="1236.5" height="772.2" fill="none" stroke="#000" stroke-width="2.2"/>
<path d="M303.8 978.8L321.8 978.8M303.8 958L321.8 958M303.8 937.19L321.8 937.19M303.8 916.39L321.8 916.39M303.8 895.58L342.3 895.58M303.8 874.78L321.8 874.78M303.8 853.98L321.8 853.98M303.8 833.17L321.8 833.17M303.8 812.37L321.8 812.37M303.8 791.56L342.3 791.56M303.8 770.76L321.8 770.76M303.8 749.96L321.8 749.96M303.8 729.15L321.8 729.15M303.8 708.35L321.8 708.35M303.8 687.54L342.3 687.54M303.8 666.74L321.8 666.74M303.8 645.94L321.8 645.94M303.8 625.13L321.8 625.13M303.8 604.33L321.8 604.33M303.8 583.52L342.3 583.52M303.8 562.72L321.8 562.72M303.8 541.92L321.8 541.92M303.8 521.11L321.8 521.11M303.8 500.31L321.8 500.31M303.8 479.5L342.3 479.5M303.8 458.7L321.8 458.7M303.8 437.9L321.8 437.9M303.8 417.09L321.8 417.09M303.8 396.29L321.8 396.29M303.8 375.48L342.3 375.48M303.8 354.68L321.8 354.68M303.8 333.88L321.8 333.88M303.8 313.07L321.8 313.07M303.8 292.27L321.8 292.27M303.8 271.46L342.3 271.46M303.8 250.66L321.8 250.66M303.8 229.86L321.8 229.86M303.8 209.05L321.8 209.05M320.5 978.6L320.5 966.6M353.91 978.6L353.91 955M387.31 978.6L387.31 966.6M420.72 978.6L420.72 966.6M454.13 978.6L454.13 966.6M487.53 978.6L487.53 966.6M520.94 978.6L520.94 955M554.35 978.6L554.35 966.6M587.75 978.6L587.75 966.6M621.16 978.6L621.16 966.6M654.56 978.6L654.56 966.6M687.97 978.6L687.97 955M721.38 978.6L721.38 966.6M754.78 978.6L754.78 966.6M788.19 978.6L788.19 966.6M821.59 978.6L821.59 966.6M855 978.6L855 955M888.4 978.6L888.4 966.6M921.81 978.6L921.81 966.6M955.22 978.6L955.22 966.6M988.62 978.6L988.62 966.6M1022.03 978.6L1022.03 955M1055.43 978.6L1055.43 966.6M1088.84 978.6L1088.84 966.6M1122.25 978.6L1122.25 966.6M1155.65 978.6L1155.65 966.6M1189.06 978.6L1189.06 955M1222.46 978.6L1222.46 966.6M1255.87 978.6L1255.87 966.6M1289.28 978.6L1289.28 966.6M1322.68 978.6L1322.68 966.6M1356.09 978.6L1356.09 955M1389.49 978.6L1389.49 966.6M1422.9 978.6L1422.9 966.6M1456.31 978.6L1456.31 966.6M1489.71 978.6L1489.71 966.6M1523.12 978.6L1523.12 955" stroke="#000" stroke-width="2.2" fill="none"/>
<text x="296.8" y="910.08" font-size="41" fill="#000" font-family="'Liberation Sans',sans-serif" text-anchor="end" textLength="66.2" lengthAdjust="spacingAndGlyphs" stroke="#000" stroke-width="0.70">750</text>
<text x="296.8" y="806.06" font-size="41" fill="#000" font-family="'Liberation Sans',sans-serif" text-anchor="end" textLength="66.2" lengthAdjust="spacingAndGlyphs" stroke="#000" stroke-width="0.70">760</text>
<text x="296.8" y="702.04" font-size="41" fill="#000" font-family="'Liberation Sans',sans-serif" text-anchor="end" textLength="66.2" lengthAdjust="spacingAndGlyphs" stroke="#000" stroke-width="0.70">770</text>
<text x="296.8" y="598.02" font-size="41" fill="#000" font-family="'Liberation Sans',sans-serif" text-anchor="end" textLength="66.2" lengthAdjust="spacingAndGlyphs" stroke="#000" stroke-width="0.70">780</text>
<text x="296.8" y="494" font-size="41" fill="#000" font-family="'Liberation Sans',sans-serif" text-anchor="end" textLength="66.2" lengthAdjust="spacingAndGlyphs" stroke="#000" stroke-width="0.70">790</text>
<text x="296.8" y="389.98" font-size="41" fill="#000" font-family="'Liberation Sans',sans-serif" text-anchor="end" textLength="66.2" lengthAdjust="spacingAndGlyphs" stroke="#000" stroke-width="0.70">800</text>
<text x="296.8" y="285.96" font-size="41" fill="#000" font-family="'Liberation Sans',sans-serif" text-anchor="end" textLength="66.2" lengthAdjust="spacingAndGlyphs" stroke="#000" stroke-width="0.70">810</text>
<text x="352.91" y="1018.8" font-size="41" fill="#000" font-family="'Liberation Sans',sans-serif" text-anchor="middle" textLength="66.2" lengthAdjust="spacingAndGlyphs" stroke="#000" stroke-width="0.70">310</text>
<text x="519.94" y="1018.8" font-size="41" fill="#000" font-family="'Liberation Sans',sans-serif" text-anchor="middle" textLength="66.2" lengthAdjust="spacingAndGlyphs" stroke="#000" stroke-width="0.70">320</text>
<text x="686.97" y="1018.8" font-size="41" fill="#000" font-family="'Liberation Sans',sans-serif" text-anchor="middle" textLength="66.2" lengthAdjust="spacingAndGlyphs" stroke="#000" stroke-width="0.70">330</text>
<text x="854" y="1018.8" font-size="41" fill="#000" font-family="'Liberation Sans',sans-serif" text-anchor="middle" textLength="66.2" lengthAdjust="spacingAndGlyphs" stroke="#000" stroke-width="0.70">340</text>
<text x="1021.03" y="1018.8" font-size="41" fill="#000" font-family="'Liberation Sans',sans-serif" text-anchor="middle" textLength="66.2" lengthAdjust="spacingAndGlyphs" stroke="#000" stroke-width="0.70">350</text>
<text x="1188.06" y="1018.8" font-size="41" fill="#000" font-family="'Liberation Sans',sans-serif" text-anchor="middle" textLength="66.2" lengthAdjust="spacingAndGlyphs" stroke="#000" stroke-width="0.70">360</text>
<text x="1355.09" y="1018.8" font-size="41" fill="#000" font-family="'Liberation Sans',sans-serif" text-anchor="middle" textLength="66.2" lengthAdjust="spacingAndGlyphs" stroke="#000" stroke-width="0.70">370</text>
<text x="1522.12" y="1018.8" font-size="41" fill="#000" font-family="'Liberation Sans',sans-serif" text-anchor="middle" textLength="66.2" lengthAdjust="spacingAndGlyphs" stroke="#000" stroke-width="0.70">380</text>
<text x="832" y="1062" font-size="39" fill="#000" font-family="'Liberation Sans',sans-serif" textLength="177.7" lengthAdjust="spacingAndGlyphs" stroke="#000" stroke-width="0.66">Eγ 1 (keV)</text>
<text x="186.5" y="681" font-size="39" fill="#000" font-family="'Liberation Sans',sans-serif" textLength="175.5" lengthAdjust="spacingAndGlyphs" transform="rotate(-90 186.5 681)" stroke="#000" stroke-width="0.66">Eγ 2 (keV)</text>
<path d="M2502.81 301.86L2490.15 301.24L2477.4 300.84L2464.59 300.64L2451.72 300.66L2438.79 300.88L2425.83 301.32L2412.82 301.96L2399.8 302.81L2386.75 303.88L2373.7 305.15L2360.65 306.62L2347.61 308.31L2334.59 310.2L2321.6 312.29L2308.65 314.59L2295.74 317.08L2282.89 319.78L2270.1 322.67L2257.38 325.75L2244.74 329.03L2232.2 332.51L2219.75 336.17L2207.41 340.01L2195.18 344.04L2183.08 348.25L2171.11 352.63L2159.28 357.2L2147.6 361.93L2136.08 366.83L2124.72 371.9L2113.53 377.12L2102.52 382.51L2091.7 388.05L2081.08 393.74L2070.65 399.57L2060.44 405.55L2050.44 411.67L2040.67 417.92L2031.12 424.3L2021.81 430.81L2012.75 437.44L2003.93 444.18L1995.36 451.04L1987.06 458L1979.03 465.07L1971.26 472.23L1963.78 479.48L1956.57 486.83L1949.66 494.25L1943.03 501.76L1936.7 509.33L1930.68 516.98L1924.96 524.68L1919.54 532.45L1914.44 540.26L1909.66 548.12L1905.2 556.02L1901.05 563.95L1897.24 571.92L1893.75 579.91L1890.59 587.92L1887.77 595.94L1885.28 603.97L1883.12 612L1881.31 620.03L1879.83 628.05L1878.69 636.06L1877.89 644.05L1877.44 652.01L1877.32 659.94L1877.55 667.83L1878.12 675.69L1879.03 683.49L1880.28 691.25L1881.87 698.95L1883.8 706.58L1886.07 714.15L1888.67 721.64L1891.6 729.06L1894.87 736.39L1898.47 743.63L1902.39 750.78L1906.64 757.83L1911.21 764.78L1916.1 771.62L1921.31 778.35L1926.82 784.96L1932.65 791.45L1938.77 797.82L1945.2 804.05L1951.92 810.15L1958.93 816.11L1966.23 821.93L1973.81 827.6L1981.67 833.11L1989.79 838.48L1998.18 843.68L2006.83 848.73L2015.73 853.61L2024.88 858.32L2034.27 862.85L2043.89 867.22L2053.74 871.4L2063.81 875.4L2074.09 879.22L2084.58 882.86L2095.28 886.3L2106.16 889.56L2117.23 892.62L2128.47 895.48L2139.89 898.15L2151.47 900.62L2163.2 902.89L2175.07 904.95L2187.09 906.81L2199.23 908.47L2211.49 909.92L2223.87 911.16L2236.35 912.19L2248.93 913.02L2261.59 913.64L2274.34 914.04L2287.15 914.24L2300.02 914.22L2312.95 914L2325.91 913.56L2338.92 912.92L2351.94 912.07L2364.99 911L2378.04 909.73L2391.09 908.26L2404.13 906.57L2417.15 904.68L2430.14 902.59L2443.09 900.29L2456 897.8L2468.85 895.1L2481.64 892.21L2494.36 889.13L2507 885.85L2519.54 882.37L2531.99 878.71L2544.33 874.87L2556.56 870.84L2568.66 866.63L2580.63 862.25L2592.46 857.68L2604.14 852.95L2615.66 848.05L2627.02 842.98L2638.21 837.76L2649.22 832.37L2660.04 826.83L2670.66 821.14L2681.09 815.31L2691.3 809.33L2701.3 803.21L2711.07 796.96L2720.62 790.58L2729.93 784.07L2738.99 777.44L2747.81 770.7L2756.38 763.84L2764.68 756.88L2772.71 749.81L2780.48 742.65L2787.96 735.4L2795.17 728.05L2802.08 720.63L2808.71 713.12L2815.04 705.55L2821.06 697.9L2826.78 690.2L2832.2 682.43L2837.3 674.62L2842.08 666.76L2846.54 658.86L2850.69 650.93L2854.5 642.96L2857.99 634.97L2861.15 626.96L2863.97 618.94L2866.46 610.91L2868.62 602.88L2870.43 594.85L2871.91 586.83L2873.05 578.82L2873.85 570.83L2874.3 562.87L2874.42 554.94L2874.19 547.05L2873.62 539.19L2872.71 531.39L2871.46 523.63L2869.87 515.93L2867.94 508.3L2865.67 500.73L2863.07 493.24L2860.14 485.82L2856.87 478.49L2853.27 471.25L2849.35 464.1L2845.1 457.05L2840.53 450.1L2835.64 443.26L2830.43 436.53L2824.92 429.92L2819.09 423.43L2812.97 417.06L2806.54 410.83L2799.82 404.73L2792.81 398.77L2785.51 392.95L2777.93 387.28L2770.07 381.77L2761.95 376.4L2753.56 371.2L2744.91 366.15L2736.01 361.27L2726.86 356.56L2717.47 352.03L2707.85 347.66L2698 343.48L2687.93 339.48L2677.65 335.66L2667.16 332.02L2656.46 328.58L2645.58 325.32L2634.51 322.26L2623.27 319.4L2611.85 316.73L2600.27 314.26L2588.54 311.99L2576.67 309.93L2564.65 308.07L2552.51 306.41L2540.25 304.96L2527.87 303.72L2515.39 302.69L2502.81 301.86Z" fill="none" stroke="#72f84a" stroke-width="2.2" stroke-dasharray="2.6 3.4"/>
<path d="M2454.27 300.62a4.6 4.6 0 1 0 9.2 0a4.6 4.6 0 1 0 -9.2 0ZM2392 303.06a4.6 4.6 0 1 0 9.2 0a4.6 4.6 0 1 0 -9.2 0ZM2329.4 310.29a4.6 4.6 0 1 0 9.2 0a4.6 4.6 0 1 0 -9.2 0ZM2267.47 322.21a4.6 4.6 0 1 0 9.2 0a4.6 4.6 0 1 0 -9.2 0ZM2207.17 338.63a4.6 4.6 0 1 0 9.2 0a4.6 4.6 0 1 0 -9.2 0ZM2149.46 359.28a4.6 4.6 0 1 0 9.2 0a4.6 4.6 0 1 0 -9.2 0ZM2095.25 383.85a4.6 4.6 0 1 0 9.2 0a4.6 4.6 0 1 0 -9.2 0ZM2045.39 411.95a4.6 4.6 0 1 0 9.2 0a4.6 4.6 0 1 0 -9.2 0ZM2000.67 443.13a4.6 4.6 0 1 0 9.2 0a4.6 4.6 0 1 0 -9.2 0ZM1961.8 476.9a4.6 4.6 0 1 0 9.2 0a4.6 4.6 0 1 0 -9.2 0ZM1929.38 512.73a4.6 4.6 0 1 0 9.2 0a4.6 4.6 0 1 0 -9.2 0ZM1903.93 550.05a4.6 4.6 0 1 0 9.2 0a4.6 4.6 0 1 0 -9.2 0ZM1885.86 588.28a4.6 4.6 0 1 0 9.2 0a4.6 4.6 0 1 0 -9.2 0ZM1875.43 626.81a4.6 4.6 0 1 0 9.2 0a4.6 4.6 0 1 0 -9.2 0ZM1872.83 665.04a4.6 4.6 0 1 0 9.2 0a4.6 4.6 0 1 0 -9.2 0ZM1878.09 702.35a4.6 4.6 0 1 0 9.2 0a4.6 4.6 0 1 0 -9.2 0ZM1891.12 738.17a4.6 4.6 0 1 0 9.2 0a4.6 4.6 0 1 0 -9.2 0ZM1911.73 771.93a4.6 4.6 0 1 0 9.2 0a4.6 4.6 0 1 0 -9.2 0ZM1939.59 803.1a4.6 4.6 0 1 0 9.2 0a4.6 4.6 0 1 0 -9.2 0ZM1974.25 831.17a4.6 4.6 0 1 0 9.2 0a4.6 4.6 0 1 0 -9.2 0ZM2015.17 855.72a4.6 4.6 0 1 0 9.2 0a4.6 4.6 0 1 0 -9.2 0ZM2061.71 876.36a4.6 4.6 0 1 0 9.2 0a4.6 4.6 0 1 0 -9.2 0ZM2113.13 892.75a4.6 4.6 0 1 0 9.2 0a4.6 4.6 0 1 0 -9.2 0ZM2168.63 904.65a4.6 4.6 0 1 0 9.2 0a4.6 4.6 0 1 0 -9.2 0ZM2227.32 911.85a4.6 4.6 0 1 0 9.2 0a4.6 4.6 0 1 0 -9.2 0ZM2288.27 914.26a4.6 4.6 0 1 0 9.2 0a4.6 4.6 0 1 0 -9.2 0ZM2350.54 911.82a4.6 4.6 0 1 0 9.2 0a4.6 4.6 0 1 0 -9.2 0ZM2413.14 904.59a4.6 4.6 0 1 0 9.2 0a4.6 4.6 0 1 0 -9.2 0ZM2475.07 892.67a4.6 4.6 0 1 0 9.2 0a4.6 4.6 0 1 0 -9.2 0ZM2535.37 876.25a4.6 4.6 0 1 0 9.2 0a4.6 4.6 0 1 0 -9.2 0ZM2593.08 855.6a4.6 4.6 0 1 0 9.2 0a4.6 4.6 0 1 0 -9.2 0ZM2647.29 831.03a4.6 4.6 0 1 0 9.2 0a4.6 4.6 0 1 0 -9.2 0ZM2697.15 802.93a4.6 4.6 0 1 0 9.2 0a4.6 4.6 0 1 0 -9.2 0ZM2741.87 771.75a4.6 4.6 0 1 0 9.2 0a4.6 4.6 0 1 0 -9.2 0ZM2780.74 737.98a4.6 4.6 0 1 0 9.2 0a4.6 4.6 0 1 0 -9.2 0ZM2813.16 702.15a4.6 4.6 0 1 0 9.2 0a4.6 4.6 0 1 0 -9.2 0ZM2838.61 664.83a4.6 4.6 0 1 0 9.2 0a4.6 4.6 0 1 0 -9.2 0ZM2856.68 626.6a4.6 4.6 0 1 0 9.2 0a4.6 4.6 0 1 0 -9.2 0ZM2867.11 588.07a4.6 4.6 0 1 0 9.2 0a4.6 4.6 0 1 0 -9.2 0ZM2869.71 549.84a4.6 4.6 0 1 0 9.2 0a4.6 4.6 0 1 0 -9.2 0ZM2864.45 512.53a4.6 4.6 0 1 0 9.2 0a4.6 4.6 0 1 0 -9.2 0ZM2851.42 476.71a4.6 4.6 0 1 0 9.2 0a4.6 4.6 0 1 0 -9.2 0ZM2830.81 442.95a4.6 4.6 0 1 0 9.2 0a4.6 4.6 0 1 0 -9.2 0ZM2802.95 411.78a4.6 4.6 0 1 0 9.2 0a4.6 4.6 0 1 0 -9.2 0ZM2768.29 383.71a4.6 4.6 0 1 0 9.2 0a4.6 4.6 0 1 0 -9.2 0ZM2727.37 359.16a4.6 4.6 0 1 0 9.2 0a4.6 4.6 0 1 0 -9.2 0ZM2680.83 338.52a4.6 4.6 0 1 0 9.2 0a4.6 4.6 0 1 0 -9.2 0ZM2629.41 322.13a4.6 4.6 0 1 0 9.2 0a4.6 4.6 0 1 0 -9.2 0ZM2573.91 310.23a4.6 4.6 0 1 0 9.2 0a4.6 4.6 0 1 0 -9.2 0ZM2515.22 303.03a4.6 4.6 0 1 0 9.2 0a4.6 4.6 0 1 0 -9.2 0Z" fill="#000"/>
<rect x="2466" y="274" width="12.1" height="79.7" fill="#e8281e" fill-opacity="0.55"/>
<path d="M2471.9 273.7L2471.9 354M2467.9 273.7L2475.9 273.7M2467.9 354L2475.9 354" stroke="#000" stroke-width="2.4" fill="none"/>
<circle cx="2461.9" cy="301.9" r="8.2" fill="#72f84a"/>
<circle cx="2471.9" cy="314" r="8.4" fill="#e8321f"/>
<circle cx="2471.9" cy="301.9" r="8.2" fill="#0000f0"/>
<circle cx="2473.3" cy="893.2" r="8.2" fill="#e23cf2"/>
<rect x="1766" y="207.4" width="1235.5" height="771.8" fill="none" stroke="#000" stroke-width="2.2"/>
<path d="M1766 976.33L1784 976.33M1766 938.85L1784 938.85M1766 901.36L1804 901.36M1766 863.88L1784 863.88M1766 826.39L1784 826.39M1766 788.9L1784 788.9M1766 751.42L1804 751.42M1766 713.93L1784 713.93M1766 676.45L1784 676.45M1766 638.97L1784 638.97M1766 601.48L1804 601.48M1766 564L1784 564M1766 526.51L1784 526.51M1766 489.03L1784 489.03M1766 451.54L1804 451.54M1766 414.06L1784 414.06M1766 376.57L1784 376.57M1766 339.09L1784 339.09M1766 301.6L1804 301.6M1766 264.12L1784 264.12M1766 226.63L1784 226.63M1771.31 979.2L1771.31 967.4M1796.42 979.2L1796.42 955.7M1821.53 979.2L1821.53 967.4M1846.63 979.2L1846.63 967.4M1871.74 979.2L1871.74 967.4M1896.84 979.2L1896.84 967.4M1921.95 979.2L1921.95 955.7M1947.06 979.2L1947.06 967.4M1972.16 979.2L1972.16 967.4M1997.27 979.2L1997.27 967.4M2022.37 979.2L2022.37 967.4M2047.48 979.2L2047.48 955.7M2072.59 979.2L2072.59 967.4M2097.69 979.2L2097.69 967.4M2122.8 979.2L2122.8 967.4M2147.9 979.2L2147.9 967.4M2173.01 979.2L2173.01 955.7M2198.12 979.2L2198.12 967.4M2223.22 979.2L2223.22 967.4M2248.33 979.2L2248.33 967.4M2273.43 979.2L2273.43 967.4M2298.54 979.2L2298.54 955.7M2323.65 979.2L2323.65 967.4M2348.75 979.2L2348.75 967.4M2373.86 979.2L2373.86 967.4M2398.96 979.2L2398.96 967.4M2424.07 979.2L2424.07 955.7M2449.18 979.2L2449.18 967.4M2474.28 979.2L2474.28 967.4M2499.39 979.2L2499.39 967.4M2524.49 979.2L2524.49 967.4M2549.6 979.2L2549.6 955.7M2574.71 979.2L2574.71 967.4M2599.81 979.2L2599.81 967.4M2624.92 979.2L2624.92 967.4M2650.02 979.2L2650.02 967.4M2675.13 979.2L2675.13 955.7M2700.24 979.2L2700.24 967.4M2725.34 979.2L2725.34 967.4M2750.45 979.2L2750.45 967.4M2775.55 979.2L2775.55 967.4M2800.66 979.2L2800.66 955.7M2825.77 979.2L2825.77 967.4M2850.87 979.2L2850.87 967.4M2875.98 979.2L2875.98 967.4M2901.08 979.2L2901.08 967.4M2926.19 979.2L2926.19 955.7M2951.3 979.2L2951.3 967.4M2976.4 979.2L2976.4 967.4" stroke="#000" stroke-width="2.2" fill="none"/>
<text x="1759.5" y="310.6" font-size="25" fill="#000" font-family="'Liberation Sans',sans-serif" text-anchor="end" stroke="#000" stroke-width="0.43">0</text>
<text x="1759.5" y="460.54" font-size="25" fill="#000" font-family="'Liberation Sans',sans-serif" text-anchor="end" textLength="69" lengthAdjust="spacingAndGlyphs" stroke="#000" stroke-width="0.43">−0.02</text>
<text x="1759.5" y="610.48" font-size="25" fill="#000" font-family="'Liberation Sans',sans-serif" text-anchor="end" textLength="69" lengthAdjust="spacingAndGlyphs" stroke="#000" stroke-width="0.43">−0.04</text>
<text x="1759.5" y="760.42" font-size="25" fill="#000" font-family="'Liberation Sans',sans-serif" text-anchor="end" textLength="69" lengthAdjust="spacingAndGlyphs" stroke="#000" stroke-width="0.43">−0.06</text>
<text x="1759.5" y="910.36" font-size="25" fill="#000" font-family="'Liberation Sans',sans-serif" text-anchor="end" textLength="69" lengthAdjust="spacingAndGlyphs" stroke="#000" stroke-width="0.43">−0.08</text>
<text x="1794.92" y="1007.8" font-size="25" fill="#000" font-family="'Liberation Sans',sans-serif" text-anchor="middle" textLength="53.6" lengthAdjust="spacingAndGlyphs" stroke="#000" stroke-width="0.43">−0.6</text>
<text x="1920.45" y="1007.8" font-size="25" fill="#000" font-family="'Liberation Sans',sans-serif" text-anchor="middle" textLength="53.6" lengthAdjust="spacingAndGlyphs" stroke="#000" stroke-width="0.43">−0.5</text>
<text x="2045.98" y="1007.8" font-size="25" fill="#000" font-family="'Liberation Sans',sans-serif" text-anchor="middle" textLength="53.6" lengthAdjust="spacingAndGlyphs" stroke="#000" stroke-width="0.43">−0.4</text>
<text x="2171.51" y="1007.8" font-size="25" fill="#000" font-family="'Liberation Sans',sans-serif" text-anchor="middle" textLength="53.6" lengthAdjust="spacingAndGlyphs" stroke="#000" stroke-width="0.43">−0.3</text>
<text x="2297.04" y="1007.8" font-size="25" fill="#000" font-family="'Liberation Sans',sans-serif" text-anchor="middle" textLength="53.6" lengthAdjust="spacingAndGlyphs" stroke="#000" stroke-width="0.43">−0.2</text>
<text x="2422.57" y="1007.8" font-size="25" fill="#000" font-family="'Liberation Sans',sans-serif" text-anchor="middle" textLength="53.6" lengthAdjust="spacingAndGlyphs" stroke="#000" stroke-width="0.43">−0.1</text>
<text x="2548.1" y="1007.8" font-size="25" fill="#000" font-family="'Liberation Sans',sans-serif" text-anchor="middle" stroke="#000" stroke-width="0.43">0</text>
<text x="2673.63" y="1007.8" font-size="25" fill="#000" font-family="'Liberation Sans',sans-serif" text-anchor="middle" stroke="#000" stroke-width="0.43">0.1</text>
<text x="2799.16" y="1007.8" font-size="25" fill="#000" font-family="'Liberation Sans',sans-serif" text-anchor="middle" stroke="#000" stroke-width="0.43">0.2</text>
<text x="2924.69" y="1007.8" font-size="25" fill="#000" font-family="'Liberation Sans',sans-serif" text-anchor="middle" stroke="#000" stroke-width="0.43">0.3</text>
<text x="1804" y="264.3" font-size="49.5" fill="#72f84a" font-family="'Liberation Serif',serif" textLength="280" lengthAdjust="spacingAndGlyphs" stroke="#72f84a" stroke-width="1.1">I1-I2-I3: 3-2-0</text>
<text x="1804.2" y="956.3" font-size="49.5" fill="#72f84a" font-family="'Liberation Serif',serif" textLength="321" lengthAdjust="spacingAndGlyphs" stroke="#72f84a" stroke-width="1.1">L1/L1'-L2: 1/2-2</text>
<text x="2697.8" y="952" font-size="49.5" fill="#72f84a" font-family="'Liberation Serif',serif" textLength="86.8" lengthAdjust="spacingAndGlyphs" stroke="#72f84a" stroke-width="1.1">Real</text>
<text x="2796.9" y="952" font-size="49.5" fill="#72f84a" font-family="'Liberation Serif',serif" textLength="23.3" lengthAdjust="spacingAndGlyphs" stroke="#72f84a" stroke-width="1.1">δ</text>
<text x="2820.9" y="965.6" font-size="31" fill="#72f84a" font-family="'Liberation Serif',serif" textLength="10.2" lengthAdjust="spacingAndGlyphs" stroke="#72f84a" stroke-width="1.1">1</text>
<text x="2837.3" y="952" font-size="49.5" fill="#72f84a" font-family="'Liberation Serif',serif" textLength="6.8" lengthAdjust="spacingAndGlyphs" stroke="#72f84a" stroke-width="1.1">:</text>
<text x="2859.8" y="952" font-size="49.5" fill="#72f84a" font-family="'Liberation Serif',serif" textLength="103.3" lengthAdjust="spacingAndGlyphs" stroke="#72f84a" stroke-width="1.1">0.003</text>
<clipPath id="clip224"><rect x="224.2" y="1077.8" width="596.1" height="392.2"/></clipPath>
<g clip-path="url(#clip224)">
<path d="M224.31 1354.77L228.04 1352.59L231.77 1350.26L235.5 1347.79L239.22 1345.18L242.95 1342.44L246.68 1339.58L250.41 1336.59L254.14 1333.48L257.86 1330.26L261.59 1326.94L265.32 1323.51L269.05 1319.99L272.77 1316.37L276.5 1312.68L280.23 1308.9L283.96 1305.05L287.69 1301.14L291.41 1297.17L295.14 1293.14L298.87 1289.07L302.6 1284.95L306.33 1280.8L310.05 1276.63L313.78 1272.43L317.51 1268.21L321.24 1263.98L324.96 1259.75L328.69 1255.52L332.42 1251.3L336.15 1247.09L339.88 1242.9L343.6 1238.73L347.33 1234.6L351.06 1230.5L354.79 1226.44L358.52 1222.43L362.24 1218.46L365.97 1214.55L369.7 1210.71L373.43 1206.92L377.15 1203.21L380.88 1199.57L384.61 1196L388.34 1192.52L392.07 1189.12L395.79 1185.81L399.52 1182.59L403.25 1179.47L406.98 1176.45L410.71 1173.52L414.43 1170.7L418.16 1167.99L421.89 1165.38L425.62 1162.89L429.34 1160.51L433.07 1158.25L436.8 1156.1L440.53 1154.07L444.26 1152.17L447.98 1150.38L451.71 1148.72L455.44 1147.19L459.17 1145.78L462.9 1144.5L466.62 1143.35L470.35 1142.33L474.08 1141.44L477.81 1140.68L481.53 1140.05L485.26 1139.56L488.99 1139.19L492.72 1138.96L496.45 1138.86L500.17 1138.9L503.9 1139.07L507.63 1139.37L511.36 1139.8L515.09 1140.36L518.81 1141.06L522.54 1141.89L526.27 1142.85L530 1143.94L533.72 1145.15L537.45 1146.5L541.18 1147.97L544.91 1149.57L548.64 1151.3L552.36 1153.14L556.09 1155.11L559.82 1157.2L563.55 1159.41L567.28 1161.73L571 1164.17L574.73 1166.72L578.46 1169.39L582.19 1172.16L585.91 1175.03L589.64 1178.01L593.37 1181.08L597.1 1184.26L600.83 1187.52L604.55 1190.88L608.28 1194.32L612.01 1197.85L615.74 1201.45L619.47 1205.13L623.19 1208.88L626.92 1212.7L630.65 1216.58L634.38 1220.52L638.1 1224.51L641.83 1228.55L645.56 1232.63L649.29 1236.75L653.02 1240.9L656.74 1245.08L660.47 1249.28L664.2 1253.49L667.93 1257.72L671.66 1261.95L675.38 1266.18L679.11 1270.41L682.84 1274.61L686.57 1278.8L690.29 1282.97L694.02 1287.1L697.75 1291.19L701.48 1295.24L705.21 1299.24L708.93 1303.19L712.66 1307.07L716.39 1310.88L720.12 1314.61L723.85 1318.27L727.57 1321.83L731.3 1325.31L735.03 1328.68L738.76 1331.95L742.48 1335.11L746.21 1338.16L749.94 1341.09L753.67 1343.89L757.4 1346.56L761.12 1349.09L764.85 1351.49L768.58 1353.74L772.31 1355.85L776.04 1357.8L779.76 1359.6L783.49 1361.25L787.22 1362.73L790.95 1364.05L794.67 1365.2L798.4 1366.19L802.13 1367L805.86 1367.65L809.59 1368.12L813.31 1368.42L817.04 1368.55L820.77 1368.51L820.77 1421.38L817.04 1421.43L813.31 1421.29L809.59 1420.97L805.86 1420.46L802.13 1419.76L798.4 1418.88L794.67 1417.82L790.95 1416.58L787.22 1415.16L783.49 1413.56L779.76 1411.79L776.04 1409.85L772.31 1407.74L768.58 1405.47L764.85 1403.04L761.12 1400.45L757.4 1397.72L753.67 1394.84L749.94 1391.82L746.21 1388.66L742.48 1385.37L738.76 1381.96L735.03 1378.42L731.3 1374.78L727.57 1371.02L723.85 1367.17L720.12 1363.22L716.39 1359.18L712.66 1355.06L708.93 1350.86L705.21 1346.59L701.48 1342.26L697.75 1337.88L694.02 1333.44L690.29 1328.96L686.57 1324.45L682.84 1319.9L679.11 1315.34L675.38 1310.75L671.66 1306.16L667.93 1301.57L664.2 1296.97L660.47 1292.39L656.74 1287.82L653.02 1283.28L649.29 1278.76L645.56 1274.27L641.83 1269.83L638.1 1265.43L634.38 1261.08L630.65 1256.79L626.92 1252.56L623.19 1248.39L619.47 1244.3L615.74 1240.28L612.01 1236.34L608.28 1232.48L604.55 1228.72L600.83 1225.05L597.1 1221.47L593.37 1218L589.64 1214.63L585.91 1211.37L582.19 1208.22L578.46 1205.18L574.73 1202.26L571 1199.46L567.28 1196.79L563.55 1194.24L559.82 1191.81L556.09 1189.52L552.36 1187.35L548.64 1185.32L544.91 1183.43L541.18 1181.67L537.45 1180.05L533.72 1178.57L530 1177.23L526.27 1176.03L522.54 1174.98L518.81 1174.07L515.09 1173.3L511.36 1172.68L507.63 1172.2L503.9 1171.87L500.17 1171.69L496.45 1171.65L492.72 1171.76L488.99 1172.01L485.26 1172.41L481.53 1172.96L477.81 1173.65L474.08 1174.49L470.35 1175.47L466.62 1176.59L462.9 1177.86L459.17 1179.26L455.44 1180.81L451.71 1182.5L447.98 1184.32L444.26 1186.28L440.53 1188.37L436.8 1190.6L433.07 1192.96L429.34 1195.44L425.62 1198.06L421.89 1200.79L418.16 1203.65L414.43 1206.62L410.71 1209.72L406.98 1212.92L403.25 1216.23L399.52 1219.65L395.79 1223.18L392.07 1226.8L388.34 1230.51L384.61 1234.32L380.88 1238.22L377.15 1242.19L373.43 1246.25L369.7 1250.38L365.97 1254.58L362.24 1258.84L358.52 1263.16L354.79 1267.53L351.06 1271.96L347.33 1276.42L343.6 1280.92L339.88 1285.45L336.15 1290.01L332.42 1294.59L328.69 1299.17L324.96 1303.77L321.24 1308.37L317.51 1312.95L313.78 1317.53L310.05 1322.09L306.33 1326.62L302.6 1331.12L298.87 1335.57L295.14 1339.99L291.41 1344.35L287.69 1348.65L283.96 1352.88L280.23 1357.04L276.5 1361.13L272.77 1365.12L269.05 1369.03L265.32 1372.84L261.59 1376.54L257.86 1380.13L254.14 1383.61L250.41 1386.96L246.68 1390.19L242.95 1393.28L239.22 1396.24L235.5 1399.05L231.77 1401.71L228.04 1404.22L224.31 1406.58Z" fill="#fadcd9"/>
<path d="M224.31 1397.88L228.04 1395.52L231.77 1392.99L235.5 1390.31L239.22 1387.48L242.95 1384.49L246.68 1381.36L250.41 1378.09L254.14 1374.69L257.86 1371.15L261.59 1367.49L265.32 1363.71L269.05 1359.81L272.77 1355.8L276.5 1351.69L280.23 1347.49L283.96 1343.19L287.69 1338.8L291.41 1334.33L295.14 1329.8L298.87 1325.19L302.6 1320.52L306.33 1315.8L310.05 1311.04L313.78 1306.23L317.51 1301.38L321.24 1296.51L324.96 1291.62L328.69 1286.71L332.42 1281.8L336.15 1276.88L339.88 1271.97L343.6 1267.07L347.33 1262.19L351.06 1257.33L354.79 1252.51L358.52 1247.72L362.24 1242.97L365.97 1238.28L369.7 1233.64L373.43 1229.06L377.15 1224.56L380.88 1220.12L384.61 1215.76L388.34 1211.49L392.07 1207.31L395.79 1203.23L399.52 1199.24L403.25 1195.36L406.98 1191.59L410.71 1187.93L414.43 1184.4L418.16 1180.99L421.89 1177.7L425.62 1174.55L429.34 1171.54L433.07 1168.66L436.8 1165.93L440.53 1163.34L444.26 1160.9L447.98 1158.62L451.71 1156.48L455.44 1154.51L459.17 1152.7L462.9 1151.05L466.62 1149.56L470.35 1148.24L474.08 1147.09L477.81 1146.1L481.53 1145.29L485.26 1144.64L488.99 1144.17L492.72 1143.87L496.45 1143.74L500.17 1143.79L503.9 1144L507.63 1144.39L511.36 1144.96L515.09 1145.69L518.81 1146.59L522.54 1147.67L526.27 1148.91L530 1150.31L533.72 1151.89L537.45 1153.62L541.18 1155.52L544.91 1157.57L548.64 1159.79L552.36 1162.15L556.09 1164.67L559.82 1167.33L563.55 1170.14L567.28 1173.09L571 1176.18L574.73 1179.4L578.46 1182.75L582.19 1186.22L585.91 1189.82L589.64 1193.54L593.37 1197.37L597.1 1201.3L600.83 1205.34L604.55 1209.48L608.28 1213.7L612.01 1218.02L615.74 1222.42L619.47 1226.89L623.19 1231.44L626.92 1236.05L630.65 1240.72L634.38 1245.44L638.1 1250.21L641.83 1255.01L645.56 1259.86L649.29 1264.73L653.02 1269.62L656.74 1274.53L660.47 1279.44L664.2 1284.36L667.93 1289.27L671.66 1294.17L675.38 1299.05L679.11 1303.91L682.84 1308.74L686.57 1313.52L690.29 1318.27L694.02 1322.96L697.75 1327.6L701.48 1332.17L705.21 1336.67L708.93 1341.09L712.66 1345.43L716.39 1349.69L720.12 1353.84L723.85 1357.9L727.57 1361.85L731.3 1365.69L735.03 1369.41L738.76 1373.01L742.48 1376.48L746.21 1379.81L749.94 1383.01L753.67 1386.06L757.4 1388.97L761.12 1391.73L764.85 1394.33L768.58 1396.77L772.31 1399.05L776.04 1401.16L779.76 1403.1L783.49 1404.88L787.22 1406.47L790.95 1407.89L794.67 1409.13L798.4 1410.19L802.13 1411.07L805.86 1411.76L809.59 1412.27L813.31 1412.6L817.04 1412.73L820.77 1412.68" stroke="#e5321d" stroke-width="2.2" fill="none" stroke-linejoin="round" stroke-dasharray="5 3"/>
<path d="M224.31 1380.67L228.04 1378.41L231.77 1375.99L235.5 1373.42L239.22 1370.71L242.95 1367.86L246.68 1364.88L250.41 1361.78L254.14 1358.55L257.86 1355.2L261.59 1351.74L265.32 1348.17L269.05 1344.51L272.77 1340.75L276.5 1336.9L280.23 1332.97L283.96 1328.97L287.69 1324.89L291.41 1320.76L295.14 1316.56L298.87 1312.32L302.6 1308.03L306.33 1303.71L310.05 1299.36L313.78 1294.98L317.51 1290.58L321.24 1286.17L324.96 1281.76L328.69 1277.35L332.42 1272.94L336.15 1268.55L339.88 1264.18L343.6 1259.83L347.33 1255.51L351.06 1251.23L354.79 1246.99L358.52 1242.79L362.24 1238.65L365.97 1234.57L369.7 1230.54L373.43 1226.59L377.15 1222.7L380.88 1218.89L384.61 1215.16L388.34 1211.52L392.07 1207.96L395.79 1204.49L399.52 1201.12L403.25 1197.85L406.98 1194.68L410.71 1191.62L414.43 1188.66L418.16 1185.82L421.89 1183.09L425.62 1180.47L429.34 1177.98L433.07 1175.6L436.8 1173.35L440.53 1171.22L444.26 1169.22L447.98 1167.35L451.71 1165.61L455.44 1164L459.17 1162.52L462.9 1161.18L466.62 1159.97L470.35 1158.9L474.08 1157.96L477.81 1157.17L481.53 1156.51L485.26 1155.98L488.99 1155.6L492.72 1155.36L496.45 1155.26L500.17 1155.29L503.9 1155.47L507.63 1155.78L511.36 1156.24L515.09 1156.83L518.81 1157.56L522.54 1158.43L526.27 1159.44L530 1160.58L533.72 1161.86L537.45 1163.27L541.18 1164.82L544.91 1166.5L548.64 1168.31L552.36 1170.25L556.09 1172.31L559.82 1174.51L563.55 1176.82L567.28 1179.26L571 1181.82L574.73 1184.49L578.46 1187.28L582.19 1190.19L585.91 1193.2L589.64 1196.32L593.37 1199.54L597.1 1202.87L600.83 1206.29L604.55 1209.8L608.28 1213.4L612.01 1217.09L615.74 1220.87L619.47 1224.71L623.19 1228.64L626.92 1232.63L630.65 1236.68L634.38 1240.8L638.1 1244.97L641.83 1249.19L645.56 1253.45L649.29 1257.75L653.02 1262.09L656.74 1266.45L660.47 1270.83L664.2 1275.23L667.93 1279.64L671.66 1284.06L675.38 1288.47L679.11 1292.87L682.84 1297.26L686.57 1301.63L690.29 1305.97L694.02 1310.27L697.75 1314.54L701.48 1318.75L705.21 1322.92L708.93 1327.02L712.66 1331.06L716.39 1335.03L720.12 1338.91L723.85 1342.72L727.57 1346.43L731.3 1350.04L735.03 1353.55L738.76 1356.95L742.48 1360.24L746.21 1363.41L749.94 1366.45L753.67 1369.36L757.4 1372.14L761.12 1374.77L764.85 1377.26L768.58 1379.6L772.31 1381.79L776.04 1383.82L779.76 1385.7L783.49 1387.4L787.22 1388.94L790.95 1390.31L794.67 1391.51L798.4 1392.53L802.13 1393.38L805.86 1394.05L809.59 1394.55L813.31 1394.86L817.04 1394.99L820.77 1394.94" stroke="#e5321d" stroke-width="2.2" fill="none" stroke-linejoin="round"/>
</g>
<path d="M291.56 1300.21L291.56 1365.72M287.56 1300.21L295.56 1300.21M287.56 1365.72L295.56 1365.72M333.68 1264.34L333.68 1309.57M329.68 1264.34L337.68 1264.34M329.68 1309.57L337.68 1309.57M351.15 1240L351.15 1285.86M347.15 1240L355.15 1240M347.15 1285.86L355.15 1285.86M405.12 1169.81L405.12 1236.26M401.12 1169.81L409.12 1169.81M401.12 1236.26L409.12 1236.26M415.72 1155.77L415.72 1223.78M411.72 1155.77L419.72 1155.77M411.72 1223.78L419.72 1223.78M423.84 1142.05L423.84 1208.18M419.84 1142.05L427.84 1142.05M419.84 1208.18L427.84 1208.18M437.25 1145.79L437.25 1211.93M433.25 1145.79L441.25 1145.79M433.25 1211.93L441.25 1211.93M489.66 1119.9L489.66 1167.63M485.66 1119.9L493.66 1119.9M485.66 1167.63L493.66 1167.63M505.57 1135.81L505.57 1184.16M501.57 1135.81L509.57 1135.81M501.57 1184.16L509.57 1184.16M557.67 1145.79L557.67 1213.8M553.67 1145.79L561.67 1145.79M553.67 1213.8L561.67 1213.8M571.71 1159.83L571.71 1227.84M567.71 1159.83L575.71 1159.83M567.71 1227.84L575.71 1227.84M579.51 1159.83L579.51 1225.34M575.51 1159.83L583.51 1159.83M575.51 1225.34L583.51 1225.34M589.8 1169.81L589.8 1235.64M585.8 1169.81L593.8 1169.81M585.8 1235.64L593.8 1235.64M644.08 1227.84L644.08 1274.01M640.08 1227.84L648.08 1227.84M640.08 1274.01L648.08 1274.01M662.18 1254.04L662.18 1300.21M658.18 1254.04L666.18 1254.04M658.18 1300.21L666.18 1300.21M703.67 1295.53L703.67 1360.11M699.67 1295.53L707.67 1295.53M699.67 1360.11L707.67 1360.11M717.39 1301.77L717.39 1365.72M713.39 1301.77L721.39 1301.77M713.39 1365.72L721.39 1365.72M729.87 1289.92L729.87 1355.74M725.87 1289.92L733.87 1289.92M725.87 1355.74L733.87 1355.74M749.53 1353.87L749.53 1397.54M745.53 1353.87L753.53 1353.87M745.53 1397.54L753.53 1397.54M818.16 1373.52L818.16 1438.1M814.16 1373.52L822.16 1373.52M814.16 1438.1L822.16 1438.1" stroke="#000" stroke-width="2.1" fill="none"/>
<path d="M283.06 1333.9a8.5 8.5 0 1 0 17 0a8.5 8.5 0 1 0 -17 0ZM325.18 1288.05a8.5 8.5 0 1 0 17 0a8.5 8.5 0 1 0 -17 0ZM342.65 1262.15a8.5 8.5 0 1 0 17 0a8.5 8.5 0 1 0 -17 0ZM396.62 1204.13a8.5 8.5 0 1 0 17 0a8.5 8.5 0 1 0 -17 0ZM407.22 1189.46a8.5 8.5 0 1 0 17 0a8.5 8.5 0 1 0 -17 0ZM415.34 1176.36a8.5 8.5 0 1 0 17 0a8.5 8.5 0 1 0 -17 0ZM428.75 1177.92a8.5 8.5 0 1 0 17 0a8.5 8.5 0 1 0 -17 0ZM481.16 1143.61a8.5 8.5 0 1 0 17 0a8.5 8.5 0 1 0 -17 0ZM497.07 1160.45a8.5 8.5 0 1 0 17 0a8.5 8.5 0 1 0 -17 0ZM549.17 1180.11a8.5 8.5 0 1 0 17 0a8.5 8.5 0 1 0 -17 0ZM563.21 1194.14a8.5 8.5 0 1 0 17 0a8.5 8.5 0 1 0 -17 0ZM571.01 1191.96a8.5 8.5 0 1 0 17 0a8.5 8.5 0 1 0 -17 0ZM581.3 1201.94a8.5 8.5 0 1 0 17 0a8.5 8.5 0 1 0 -17 0ZM635.58 1251.86a8.5 8.5 0 1 0 17 0a8.5 8.5 0 1 0 -17 0ZM653.68 1277.75a8.5 8.5 0 1 0 17 0a8.5 8.5 0 1 0 -17 0ZM695.17 1328.29a8.5 8.5 0 1 0 17 0a8.5 8.5 0 1 0 -17 0ZM708.89 1334.53a8.5 8.5 0 1 0 17 0a8.5 8.5 0 1 0 -17 0ZM721.37 1323.61a8.5 8.5 0 1 0 17 0a8.5 8.5 0 1 0 -17 0ZM741.03 1375.71a8.5 8.5 0 1 0 17 0a8.5 8.5 0 1 0 -17 0ZM809.66 1405.66a8.5 8.5 0 1 0 17 0a8.5 8.5 0 1 0 -17 0Z" fill="#e8321e"/>
<rect x="224.2" y="1077.8" width="596.1" height="392.2" fill="none" stroke="#000" stroke-width="2"/>
<path d="M224.2 1470.06L243.8 1470.06M224.2 1456.84L233.9 1456.84M224.2 1443.62L233.9 1443.62M224.2 1430.4L233.9 1430.4M224.2 1417.18L243.8 1417.18M224.2 1403.96L233.9 1403.96M224.2 1390.74L233.9 1390.74M224.2 1377.52L233.9 1377.52M224.2 1364.3L243.8 1364.3M224.2 1351.08L233.9 1351.08M224.2 1337.86L233.9 1337.86M224.2 1324.64L233.9 1324.64M224.2 1311.42L243.8 1311.42M224.2 1298.2L233.9 1298.2M224.2 1284.98L233.9 1284.98M224.2 1271.76L233.9 1271.76M224.2 1258.54L243.8 1258.54M224.2 1245.32L233.9 1245.32M224.2 1232.1L233.9 1232.1M224.2 1218.88L233.9 1218.88M224.2 1205.66L243.8 1205.66M224.2 1192.44L233.9 1192.44M224.2 1179.22L233.9 1179.22M224.2 1166L233.9 1166M224.2 1152.78L243.8 1152.78M224.2 1139.56L233.9 1139.56M224.2 1126.34L233.9 1126.34M224.2 1113.12L233.9 1113.12M224.2 1099.9L243.8 1099.9M224.2 1086.68L233.9 1086.68M230.19 1470L230.19 1464M248 1470L248 1460.1M265.81 1470L265.81 1464M283.62 1470L283.62 1464M301.43 1470L301.43 1464M319.24 1470L319.24 1460.1M337.05 1470L337.05 1464M354.86 1470L354.86 1464M372.67 1470L372.67 1464M390.48 1470L390.48 1460.1M408.29 1470L408.29 1464M426.1 1470L426.1 1464M443.91 1470L443.91 1464M461.72 1470L461.72 1460.1M479.53 1470L479.53 1464M497.34 1470L497.34 1464M515.15 1470L515.15 1464M532.96 1470L532.96 1460.1M550.77 1470L550.77 1464M568.58 1470L568.58 1464M586.39 1470L586.39 1464M604.2 1470L604.2 1460.1M622.01 1470L622.01 1464M639.82 1470L639.82 1464M657.63 1470L657.63 1464M675.44 1470L675.44 1460.1M693.25 1470L693.25 1464M711.06 1470L711.06 1464M728.87 1470L728.87 1464M746.68 1470L746.68 1460.1M764.49 1470L764.49 1464M782.3 1470L782.3 1464M800.11 1470L800.11 1464M817.92 1470L817.92 1460.1" stroke="#000" stroke-width="2" fill="none"/>
<text x="220.7" y="1107.5" font-size="20" fill="#000" font-family="'Liberation Sans',sans-serif" text-anchor="end" stroke="#000" stroke-width="0.34">1.02</text>
<text x="220.7" y="1160.38" font-size="20" fill="#000" font-family="'Liberation Sans',sans-serif" text-anchor="end" stroke="#000" stroke-width="0.34">1</text>
<text x="220.7" y="1213.26" font-size="20" fill="#000" font-family="'Liberation Sans',sans-serif" text-anchor="end" stroke="#000" stroke-width="0.34">0.98</text>
<text x="220.7" y="1266.14" font-size="20" fill="#000" font-family="'Liberation Sans',sans-serif" text-anchor="end" stroke="#000" stroke-width="0.34">0.96</text>
<text x="220.7" y="1319.02" font-size="20" fill="#000" font-family="'Liberation Sans',sans-serif" text-anchor="end" stroke="#000" stroke-width="0.34">0.94</text>
<text x="220.7" y="1371.9" font-size="20" fill="#000" font-family="'Liberation Sans',sans-serif" text-anchor="end" stroke="#000" stroke-width="0.34">0.92</text>
<text x="220.7" y="1424.78" font-size="20" fill="#000" font-family="'Liberation Sans',sans-serif" text-anchor="end" stroke="#000" stroke-width="0.34">0.9</text>
<text x="220.7" y="1477.66" font-size="20" fill="#000" font-family="'Liberation Sans',sans-serif" text-anchor="end" stroke="#000" stroke-width="0.34">0.88</text>
<text x="248" y="1491" font-size="20" fill="#000" font-family="'Liberation Sans',sans-serif" text-anchor="middle" stroke="#000" stroke-width="0.34">20</text>
<text x="319.24" y="1491" font-size="20" fill="#000" font-family="'Liberation Sans',sans-serif" text-anchor="middle" stroke="#000" stroke-width="0.34">40</text>
<text x="390.48" y="1491" font-size="20" fill="#000" font-family="'Liberation Sans',sans-serif" text-anchor="middle" stroke="#000" stroke-width="0.34">60</text>
<text x="461.72" y="1491" font-size="20" fill="#000" font-family="'Liberation Sans',sans-serif" text-anchor="middle" stroke="#000" stroke-width="0.34">80</text>
<text x="532.96" y="1491" font-size="20" fill="#000" font-family="'Liberation Sans',sans-serif" text-anchor="middle" stroke="#000" stroke-width="0.34">100</text>
<text x="604.2" y="1491" font-size="20" fill="#000" font-family="'Liberation Sans',sans-serif" text-anchor="middle" stroke="#000" stroke-width="0.34">120</text>
<text x="675.44" y="1491" font-size="20" fill="#000" font-family="'Liberation Sans',sans-serif" text-anchor="middle" stroke="#000" stroke-width="0.34">140</text>
<text x="746.68" y="1491" font-size="20" fill="#000" font-family="'Liberation Sans',sans-serif" text-anchor="middle" stroke="#000" stroke-width="0.34">160</text>
<text x="817.92" y="1491" font-size="20" fill="#000" font-family="'Liberation Sans',sans-serif" text-anchor="middle" stroke="#000" stroke-width="0.34">180</text>
<text x="390.8" y="1512.4" font-size="20" fill="#000" font-family="'Liberation Sans',sans-serif" textLength="262" lengthAdjust="spacingAndGlyphs" stroke="#000" stroke-width="0.34">FIPPS-FIPPS: Angle (degree)</text>
<text x="142.8" y="1356.4" font-size="20" fill="#000" font-family="'Liberation Sans',sans-serif" textLength="168.4" lengthAdjust="spacingAndGlyphs" transform="rotate(-90 142.8 1356.4)" stroke="#000" stroke-width="0.34">Normalized Counts</text>
<clipPath id="clip950"><rect x="950.1" y="1077.8" width="595.9" height="392.2"/></clipPath>
<g clip-path="url(#clip950)">
<path d="M950.1 1356.43L953.82 1354.32L957.55 1352.1L961.27 1349.76L965 1347.3L968.72 1344.74L972.45 1342.06L976.17 1339.29L979.9 1336.42L983.62 1333.45L987.35 1330.4L991.08 1327.25L994.8 1324.03L998.53 1320.73L1002.25 1317.35L1005.98 1313.91L1009.7 1310.41L1013.43 1306.85L1017.15 1303.23L1020.88 1299.56L1024.6 1295.85L1028.33 1292.1L1032.05 1288.32L1035.78 1284.51L1039.5 1280.67L1043.23 1276.81L1046.96 1272.93L1050.68 1269.04L1054.41 1265.15L1058.13 1261.26L1061.86 1257.37L1065.58 1253.48L1069.31 1249.61L1073.03 1245.75L1076.76 1241.91L1080.48 1238.1L1084.21 1234.32L1087.93 1230.56L1091.66 1226.85L1095.39 1223.17L1099.11 1219.54L1102.84 1215.95L1106.56 1212.42L1110.29 1208.94L1114.01 1205.52L1117.74 1202.15L1121.46 1198.85L1125.19 1195.62L1128.91 1192.46L1132.64 1189.36L1136.36 1186.35L1140.09 1183.4L1143.81 1180.54L1147.54 1177.76L1151.27 1175.06L1154.99 1172.45L1158.72 1169.93L1162.44 1167.49L1166.17 1165.15L1169.89 1162.9L1173.62 1160.74L1177.34 1158.68L1181.07 1156.71L1184.79 1154.85L1188.52 1153.08L1192.24 1151.41L1195.97 1149.85L1199.7 1148.38L1203.42 1147.02L1207.15 1145.77L1210.87 1144.62L1214.6 1143.57L1218.32 1142.63L1222.05 1141.8L1225.77 1141.07L1229.5 1140.45L1233.22 1139.94L1236.95 1139.54L1240.67 1139.24L1244.4 1139.06L1248.12 1138.98L1251.85 1139.01L1255.58 1139.15L1259.3 1139.39L1263.03 1139.75L1266.75 1140.21L1270.48 1140.78L1274.2 1141.46L1277.93 1142.24L1281.65 1143.13L1285.38 1144.13L1289.1 1145.23L1292.83 1146.44L1296.55 1147.75L1300.28 1149.17L1304.01 1150.69L1307.73 1152.31L1311.46 1154.03L1315.18 1155.85L1318.91 1157.77L1322.63 1159.79L1326.36 1161.91L1330.08 1164.12L1333.81 1166.42L1337.53 1168.81L1341.26 1171.3L1344.98 1173.87L1348.71 1176.53L1352.43 1179.27L1356.16 1182.1L1359.89 1185L1363.61 1187.98L1367.34 1191.04L1371.06 1194.18L1374.79 1197.38L1378.51 1200.65L1382.24 1203.98L1385.96 1207.38L1389.69 1210.83L1393.41 1214.34L1397.14 1217.91L1400.86 1221.52L1404.59 1225.17L1408.32 1228.87L1412.04 1232.61L1415.77 1236.38L1419.49 1240.18L1423.22 1244.01L1426.94 1247.86L1430.67 1251.72L1434.39 1255.6L1438.12 1259.49L1441.84 1263.38L1445.57 1267.28L1449.29 1271.17L1453.02 1275.05L1456.74 1278.92L1460.47 1282.77L1464.2 1286.59L1467.92 1290.39L1471.65 1294.16L1475.37 1297.89L1479.1 1301.57L1482.82 1305.21L1486.55 1308.8L1490.27 1312.33L1494 1315.8L1497.72 1319.21L1501.45 1322.54L1505.17 1325.8L1508.9 1328.98L1512.63 1332.08L1516.35 1335.08L1520.08 1338L1523.8 1340.82L1527.53 1343.54L1531.25 1346.15L1534.98 1348.66L1538.7 1351.05L1542.43 1353.33L1546.15 1355.49L1546.15 1405.08L1542.43 1402.76L1538.7 1400.32L1534.98 1397.75L1531.25 1395.06L1527.53 1392.26L1523.8 1389.34L1520.08 1386.31L1516.35 1383.18L1512.63 1379.95L1508.9 1376.63L1505.17 1373.21L1501.45 1369.71L1497.72 1366.12L1494 1362.46L1490.27 1358.73L1486.55 1354.93L1482.82 1351.07L1479.1 1347.15L1475.37 1343.18L1471.65 1339.17L1467.92 1335.11L1464.2 1331.02L1460.47 1326.89L1456.74 1322.74L1453.02 1318.57L1449.29 1314.38L1445.57 1310.18L1441.84 1305.98L1438.12 1301.77L1434.39 1297.57L1430.67 1293.37L1426.94 1289.19L1423.22 1285.03L1419.49 1280.89L1415.77 1276.77L1412.04 1272.69L1408.32 1268.64L1404.59 1264.63L1400.86 1260.67L1397.14 1256.75L1393.41 1252.89L1389.69 1249.07L1385.96 1245.32L1382.24 1241.63L1378.51 1238.01L1374.79 1234.45L1371.06 1230.97L1367.34 1227.56L1363.61 1224.23L1359.89 1220.98L1356.16 1217.82L1352.43 1214.74L1348.71 1211.75L1344.98 1208.85L1341.26 1206.05L1337.53 1203.33L1333.81 1200.72L1330.08 1198.21L1326.36 1195.8L1322.63 1193.49L1318.91 1191.28L1315.18 1189.18L1311.46 1187.19L1307.73 1185.31L1304.01 1183.53L1300.28 1181.87L1296.55 1180.32L1292.83 1178.88L1289.1 1177.56L1285.38 1176.35L1281.65 1175.26L1277.93 1174.28L1274.2 1173.42L1270.48 1172.68L1266.75 1172.06L1263.03 1171.55L1259.3 1171.16L1255.58 1170.89L1251.85 1170.74L1248.12 1170.71L1244.4 1170.79L1240.67 1171L1236.95 1171.32L1233.22 1171.76L1229.5 1172.32L1225.77 1173L1222.05 1173.8L1218.32 1174.71L1214.6 1175.74L1210.87 1176.89L1207.15 1178.15L1203.42 1179.52L1199.7 1181.01L1195.97 1182.61L1192.24 1184.32L1188.52 1186.15L1184.79 1188.08L1181.07 1190.12L1177.34 1192.27L1173.62 1194.52L1169.89 1196.88L1166.17 1199.34L1162.44 1201.9L1158.72 1204.55L1154.99 1207.31L1151.27 1210.16L1147.54 1213.1L1143.81 1216.13L1140.09 1219.24L1136.36 1222.45L1132.64 1225.73L1128.91 1229.1L1125.19 1232.54L1121.46 1236.06L1117.74 1239.64L1114.01 1243.3L1110.29 1247.02L1106.56 1250.8L1102.84 1254.63L1099.11 1258.52L1095.39 1262.46L1091.66 1266.45L1087.93 1270.47L1084.21 1274.54L1080.48 1278.64L1076.76 1282.76L1073.03 1286.92L1069.31 1291.09L1065.58 1295.28L1061.86 1299.47L1058.13 1303.68L1054.41 1307.89L1050.68 1312.09L1046.96 1316.28L1043.23 1320.46L1039.5 1324.63L1035.78 1328.77L1032.05 1332.88L1028.33 1336.96L1024.6 1340.99L1020.88 1344.99L1017.15 1348.94L1013.43 1352.83L1009.7 1356.66L1005.98 1360.43L1002.25 1364.13L998.53 1367.76L994.8 1371.31L991.08 1374.77L987.35 1378.15L983.62 1381.43L979.9 1384.61L976.17 1387.7L972.45 1390.68L968.72 1393.54L965 1396.29L961.27 1398.93L957.55 1401.44L953.82 1403.83L950.1 1406.08Z" fill="#dadafb"/>
<path d="M950.1 1391.75L953.82 1389.74L957.55 1387.6L961.27 1385.34L965 1382.96L968.72 1380.47L972.45 1377.87L976.17 1375.15L979.9 1372.33L983.62 1369.4L987.35 1366.37L991.08 1363.25L994.8 1360.02L998.53 1356.71L1002.25 1353.3L1005.98 1349.81L1009.7 1346.23L1013.43 1342.58L1017.15 1338.85L1020.88 1335.04L1024.6 1331.18L1028.33 1327.24L1032.05 1323.25L1035.78 1319.2L1039.5 1315.1L1043.23 1310.95L1046.96 1306.76L1050.68 1302.54L1054.41 1298.28L1058.13 1293.98L1061.86 1289.67L1065.58 1285.33L1069.31 1280.98L1073.03 1276.62L1076.76 1272.25L1080.48 1267.88L1084.21 1263.52L1087.93 1259.16L1091.66 1254.82L1095.39 1250.49L1099.11 1246.19L1102.84 1241.92L1106.56 1237.68L1110.29 1233.48L1114.01 1229.32L1117.74 1225.2L1121.46 1221.14L1125.19 1217.14L1128.91 1213.2L1132.64 1209.32L1136.36 1205.51L1140.09 1201.78L1143.81 1198.13L1147.54 1194.56L1151.27 1191.08L1154.99 1187.7L1158.72 1184.4L1162.44 1181.21L1166.17 1178.13L1169.89 1175.15L1173.62 1172.28L1177.34 1169.53L1181.07 1166.89L1184.79 1164.38L1188.52 1161.99L1192.24 1159.73L1195.97 1157.6L1199.7 1155.6L1203.42 1153.73L1207.15 1152.01L1210.87 1150.42L1214.6 1148.98L1218.32 1147.68L1222.05 1146.52L1225.77 1145.51L1229.5 1144.65L1233.22 1143.94L1236.95 1143.38L1240.67 1142.96L1244.4 1142.7L1248.12 1142.59L1251.85 1142.63L1255.58 1142.83L1259.3 1143.17L1263.03 1143.66L1266.75 1144.31L1270.48 1145.1L1274.2 1146.04L1277.93 1147.13L1281.65 1148.37L1285.38 1149.75L1289.1 1151.27L1292.83 1152.93L1296.55 1154.73L1300.28 1156.67L1304.01 1158.74L1307.73 1160.95L1311.46 1163.28L1315.18 1165.73L1318.91 1168.31L1322.63 1171.01L1326.36 1173.83L1330.08 1176.76L1333.81 1179.8L1337.53 1182.94L1341.26 1186.19L1344.98 1189.53L1348.71 1192.97L1352.43 1196.5L1356.16 1200.12L1359.89 1203.81L1363.61 1207.58L1367.34 1211.43L1371.06 1215.34L1374.79 1219.32L1378.51 1223.35L1382.24 1227.44L1385.96 1231.58L1389.69 1235.77L1393.41 1239.99L1397.14 1244.25L1400.86 1248.54L1404.59 1252.85L1408.32 1257.19L1412.04 1261.54L1415.77 1265.9L1419.49 1270.27L1423.22 1274.64L1426.94 1279L1430.67 1283.36L1434.39 1287.7L1438.12 1292.03L1441.84 1296.33L1445.57 1300.61L1449.29 1304.85L1453.02 1309.06L1456.74 1313.23L1460.47 1317.35L1464.2 1321.42L1467.92 1325.44L1471.65 1329.4L1475.37 1333.3L1479.1 1337.13L1482.82 1340.89L1486.55 1344.58L1490.27 1348.19L1494 1351.72L1497.72 1355.17L1501.45 1358.53L1505.17 1361.8L1508.9 1364.97L1512.63 1368.04L1516.35 1371.02L1520.08 1373.89L1523.8 1376.65L1527.53 1379.3L1531.25 1381.85L1534.98 1384.27L1538.7 1386.59L1542.43 1388.78L1546.15 1390.85" stroke="#0000f0" stroke-width="2.2" fill="none" stroke-linejoin="round" stroke-dasharray="5 3"/>
<path d="M950.1 1381.26L953.82 1379.07L957.55 1376.77L961.27 1374.34L965 1371.8L968.72 1369.14L972.45 1366.37L976.17 1363.49L979.9 1360.52L983.62 1357.44L987.35 1354.27L991.08 1351.01L994.8 1347.67L998.53 1344.24L1002.25 1340.74L1005.98 1337.17L1009.7 1333.54L1013.43 1329.84L1017.15 1326.08L1020.88 1322.28L1024.6 1318.42L1028.33 1314.53L1032.05 1310.6L1035.78 1306.64L1039.5 1302.65L1043.23 1298.64L1046.96 1294.61L1050.68 1290.57L1054.41 1286.52L1058.13 1282.47L1061.86 1278.42L1065.58 1274.38L1069.31 1270.35L1073.03 1266.33L1076.76 1262.34L1080.48 1258.37L1084.21 1254.43L1087.93 1250.52L1091.66 1246.65L1095.39 1242.82L1099.11 1239.03L1102.84 1235.29L1106.56 1231.61L1110.29 1227.98L1114.01 1224.41L1117.74 1220.9L1121.46 1217.46L1125.19 1214.08L1128.91 1210.78L1132.64 1207.55L1136.36 1204.4L1140.09 1201.32L1143.81 1198.33L1147.54 1195.43L1151.27 1192.61L1154.99 1189.88L1158.72 1187.24L1162.44 1184.69L1166.17 1182.24L1169.89 1179.89L1173.62 1177.63L1177.34 1175.47L1181.07 1173.42L1184.79 1171.46L1188.52 1169.61L1192.24 1167.87L1195.97 1166.23L1199.7 1164.7L1203.42 1163.27L1207.15 1161.96L1210.87 1160.75L1214.6 1159.66L1218.32 1158.67L1222.05 1157.8L1225.77 1157.04L1229.5 1156.39L1233.22 1155.85L1236.95 1155.43L1240.67 1155.12L1244.4 1154.92L1248.12 1154.84L1251.85 1154.87L1255.58 1155.02L1259.3 1155.28L1263.03 1155.65L1266.75 1156.13L1270.48 1156.73L1274.2 1157.44L1277.93 1158.26L1281.65 1159.2L1285.38 1160.24L1289.1 1161.4L1292.83 1162.66L1296.55 1164.04L1300.28 1165.52L1304.01 1167.11L1307.73 1168.81L1311.46 1170.61L1315.18 1172.52L1318.91 1174.53L1322.63 1176.64L1326.36 1178.85L1330.08 1181.16L1333.81 1183.57L1337.53 1186.07L1341.26 1188.67L1344.98 1191.36L1348.71 1194.14L1352.43 1197.01L1356.16 1199.96L1359.89 1202.99L1363.61 1206.11L1367.34 1209.3L1371.06 1212.57L1374.79 1215.92L1378.51 1219.33L1382.24 1222.81L1385.96 1226.35L1389.69 1229.95L1393.41 1233.61L1397.14 1237.33L1400.86 1241.09L1404.59 1244.9L1408.32 1248.76L1412.04 1252.65L1415.77 1256.58L1419.49 1260.53L1423.22 1264.52L1426.94 1268.52L1430.67 1272.55L1434.39 1276.58L1438.12 1280.63L1441.84 1284.68L1445.57 1288.73L1449.29 1292.77L1453.02 1296.81L1456.74 1300.83L1460.47 1304.83L1464.2 1308.8L1467.92 1312.75L1471.65 1316.66L1475.37 1320.53L1479.1 1324.36L1482.82 1328.14L1486.55 1331.86L1490.27 1335.53L1494 1339.13L1497.72 1342.66L1501.45 1346.12L1505.17 1349.5L1508.9 1352.8L1512.63 1356.01L1516.35 1359.13L1520.08 1362.16L1523.8 1365.08L1527.53 1367.9L1531.25 1370.61L1534.98 1373.2L1538.7 1375.68L1542.43 1378.04L1546.15 1380.28" stroke="#0000f0" stroke-width="2.2" fill="none" stroke-linejoin="round"/>
</g>
<path d="M1011.8 1271.8L1011.8 1378M1007.8 1271.8L1015.8 1271.8M1007.8 1378L1015.8 1378M1023.9 1203.9L1023.9 1311.8M1019.9 1203.9L1027.9 1203.9M1019.9 1311.8L1027.9 1311.8M1048 1195.9L1048 1303.9M1044 1195.9L1052 1195.9M1044 1303.9L1052 1303.9M1051.8 1225.9L1051.8 1332M1047.8 1225.9L1055.8 1225.9M1047.8 1332L1055.8 1332M1063.9 1248L1063.9 1353.9M1059.9 1248L1067.9 1248M1059.9 1353.9L1067.9 1353.9M1075.9 1227.6L1075.9 1333.9M1071.9 1227.6L1079.9 1227.6M1071.9 1333.9L1079.9 1333.9M1084.1 1237.8L1084.1 1343.7M1080.1 1237.8L1088.1 1237.8M1080.1 1343.7L1088.1 1343.7M1088 1125.9L1088 1236.1M1084 1125.9L1092 1125.9M1084 1236.1L1092 1236.1M1098 1184.1L1098 1261.6M1094 1184.1L1102 1184.1M1094 1261.6L1102 1261.6M1106.1 1201.8L1106.1 1309.6M1102.1 1201.8L1110.1 1201.8M1102.1 1309.6L1110.1 1309.6M1113.9 1173.9L1113.9 1252M1109.9 1173.9L1117.9 1173.9M1109.9 1252L1117.9 1252M1130 1117.8L1130 1225.9M1126 1117.8L1134 1117.8M1126 1225.9L1134 1225.9M1137.8 1209.6L1137.8 1285.7M1133.8 1209.6L1141.8 1209.6M1133.8 1285.7L1141.8 1285.7M1141.8 1191.8L1141.8 1299.8M1137.8 1191.8L1145.8 1191.8M1137.8 1299.8L1145.8 1299.8M1145.5 1129.6L1145.5 1238.2M1141.5 1129.6L1149.5 1129.6M1141.5 1238.2L1149.5 1238.2M1150 1209.6L1150 1315.9M1146 1209.6L1154 1209.6M1146 1315.9L1154 1315.9M1154.1 1109.8L1154.1 1220M1150.1 1109.8L1158.1 1109.8M1150.1 1220L1158.1 1220M1169.8 1153.9L1169.8 1261.6M1165.8 1153.9L1173.8 1153.9M1165.8 1261.6L1173.8 1261.6M1173.9 1113.7L1173.9 1190.2M1169.9 1113.7L1177.9 1113.7M1169.9 1190.2L1177.9 1190.2M1178.2 1113.7L1178.2 1223.9M1174.2 1113.7L1182.2 1113.7M1174.2 1223.9L1182.2 1223.9M1190 1113.7L1190 1221.8M1186 1113.7L1194 1113.7M1186 1221.8L1194 1221.8M1211.8 1113.7L1211.8 1178M1207.8 1113.7L1215.8 1113.7M1207.8 1178L1215.8 1178M1223.9 1123.9L1223.9 1200M1219.9 1123.9L1227.9 1123.9M1219.9 1200L1227.9 1200M1232 1103.9L1232 1181.6M1228 1103.9L1236 1103.9M1228 1181.6L1236 1181.6M1263.9 1121.8L1263.9 1197.8M1259.9 1121.8L1267.9 1121.8M1259.9 1197.8L1267.9 1197.8M1271.8 1141.6L1271.8 1218M1267.8 1141.6L1275.8 1141.6M1267.8 1218L1275.8 1218M1283.9 1131.8L1283.9 1195.7M1279.9 1131.8L1287.9 1131.8M1279.9 1195.7L1287.9 1195.7M1308 1105.9L1308 1215.7M1304 1105.9L1312 1105.9M1304 1215.7L1312 1215.7M1319.8 1115.7L1319.8 1223.9M1315.8 1115.7L1323.8 1115.7M1315.8 1223.9L1323.8 1223.9M1323.9 1112L1323.9 1190.2M1319.9 1112L1327.9 1112M1319.9 1190.2L1327.9 1190.2M1328 1158L1328 1265.7M1324 1158L1332 1158M1324 1265.7L1332 1265.7M1341.8 1121.8L1341.8 1230M1337.8 1121.8L1345.8 1121.8M1337.8 1230L1345.8 1230M1345.9 1163.7L1345.9 1269.8M1341.9 1163.7L1349.9 1163.7M1341.9 1269.8L1349.9 1269.8M1350 1138L1350 1245.9M1346 1138L1354 1138M1346 1245.9L1354 1245.9M1353.9 1169.8L1353.9 1278M1349.9 1169.8L1357.9 1169.8M1349.9 1278L1357.9 1278M1358 1163.7L1358 1239.8M1354 1163.7L1362 1163.7M1354 1239.8L1362 1239.8M1365.9 1169.8L1365.9 1278M1361.9 1169.8L1369.9 1169.8M1361.9 1278L1369.9 1278M1381.8 1167.8L1381.8 1245.9M1377.8 1167.8L1385.8 1167.8M1377.8 1245.9L1385.8 1245.9M1390 1189.8L1390 1295.7M1386 1189.8L1394 1189.8M1386 1295.7L1394 1295.7M1398 1181.6L1398 1258M1394 1181.6L1402 1181.6M1394 1258L1402 1258M1410 1145.9L1410 1255.5M1406 1145.9L1414 1145.9M1406 1255.5L1414 1255.5M1413.7 1237.8L1413.7 1345.9M1409.7 1237.8L1417.7 1237.8M1409.7 1345.9L1417.7 1345.9M1421.8 1203.9L1421.8 1310M1417.8 1203.9L1425.8 1203.9M1417.8 1310L1425.8 1310M1434.1 1275.9L1434.1 1381.6M1430.1 1275.9L1438.1 1275.9M1430.1 1381.6L1438.1 1381.6M1443.9 1263.7L1443.9 1369.8M1439.9 1263.7L1447.9 1263.7M1439.9 1369.8L1447.9 1369.8M1448 1208L1448 1313.9M1444 1208L1452 1208M1444 1313.9L1452 1313.9M1471.8 1267.8L1471.8 1373.9M1467.8 1267.8L1475.8 1267.8M1467.8 1373.9L1475.8 1373.9M1484.1 1267.8L1484.1 1373.9M1480.1 1267.8L1488.1 1267.8M1480.1 1373.9L1488.1 1373.9" stroke="#000" stroke-width="2.1" fill="none"/>
<path d="M1003.3 1325.5a8.5 8.5 0 1 0 17 0a8.5 8.5 0 1 0 -17 0ZM1015.4 1257.6a8.5 8.5 0 1 0 17 0a8.5 8.5 0 1 0 -17 0ZM1039.5 1249.8a8.5 8.5 0 1 0 17 0a8.5 8.5 0 1 0 -17 0ZM1043.3 1280a8.5 8.5 0 1 0 17 0a8.5 8.5 0 1 0 -17 0ZM1055.4 1301.6a8.5 8.5 0 1 0 17 0a8.5 8.5 0 1 0 -17 0ZM1067.4 1280a8.5 8.5 0 1 0 17 0a8.5 8.5 0 1 0 -17 0ZM1075.6 1291.6a8.5 8.5 0 1 0 17 0a8.5 8.5 0 1 0 -17 0ZM1079.5 1182a8.5 8.5 0 1 0 17 0a8.5 8.5 0 1 0 -17 0ZM1089.5 1223.9a8.5 8.5 0 1 0 17 0a8.5 8.5 0 1 0 -17 0ZM1097.6 1255.5a8.5 8.5 0 1 0 17 0a8.5 8.5 0 1 0 -17 0ZM1105.4 1211.6a8.5 8.5 0 1 0 17 0a8.5 8.5 0 1 0 -17 0ZM1121.5 1171.8a8.5 8.5 0 1 0 17 0a8.5 8.5 0 1 0 -17 0ZM1129.3 1247.8a8.5 8.5 0 1 0 17 0a8.5 8.5 0 1 0 -17 0ZM1133.3 1245.7a8.5 8.5 0 1 0 17 0a8.5 8.5 0 1 0 -17 0ZM1137 1184.1a8.5 8.5 0 1 0 17 0a8.5 8.5 0 1 0 -17 0ZM1141.5 1261.6a8.5 8.5 0 1 0 17 0a8.5 8.5 0 1 0 -17 0ZM1145.6 1163.7a8.5 8.5 0 1 0 17 0a8.5 8.5 0 1 0 -17 0ZM1161.3 1208a8.5 8.5 0 1 0 17 0a8.5 8.5 0 1 0 -17 0ZM1165.4 1151.8a8.5 8.5 0 1 0 17 0a8.5 8.5 0 1 0 -17 0ZM1169.7 1169.8a8.5 8.5 0 1 0 17 0a8.5 8.5 0 1 0 -17 0ZM1181.5 1167.8a8.5 8.5 0 1 0 17 0a8.5 8.5 0 1 0 -17 0ZM1203.3 1145.7a8.5 8.5 0 1 0 17 0a8.5 8.5 0 1 0 -17 0ZM1215.4 1161.6a8.5 8.5 0 1 0 17 0a8.5 8.5 0 1 0 -17 0ZM1223.5 1143.7a8.5 8.5 0 1 0 17 0a8.5 8.5 0 1 0 -17 0ZM1255.4 1159.6a8.5 8.5 0 1 0 17 0a8.5 8.5 0 1 0 -17 0ZM1263.3 1179.6a8.5 8.5 0 1 0 17 0a8.5 8.5 0 1 0 -17 0ZM1275.4 1163.7a8.5 8.5 0 1 0 17 0a8.5 8.5 0 1 0 -17 0ZM1299.5 1161.6a8.5 8.5 0 1 0 17 0a8.5 8.5 0 1 0 -17 0ZM1311.3 1169.8a8.5 8.5 0 1 0 17 0a8.5 8.5 0 1 0 -17 0ZM1315.4 1151.8a8.5 8.5 0 1 0 17 0a8.5 8.5 0 1 0 -17 0ZM1319.5 1212a8.5 8.5 0 1 0 17 0a8.5 8.5 0 1 0 -17 0ZM1333.3 1175.9a8.5 8.5 0 1 0 17 0a8.5 8.5 0 1 0 -17 0ZM1337.4 1217.8a8.5 8.5 0 1 0 17 0a8.5 8.5 0 1 0 -17 0ZM1341.5 1191.2a8.5 8.5 0 1 0 17 0a8.5 8.5 0 1 0 -17 0ZM1345.4 1223.9a8.5 8.5 0 1 0 17 0a8.5 8.5 0 1 0 -17 0ZM1349.5 1201.8a8.5 8.5 0 1 0 17 0a8.5 8.5 0 1 0 -17 0ZM1357.4 1223.9a8.5 8.5 0 1 0 17 0a8.5 8.5 0 1 0 -17 0ZM1373.3 1205.5a8.5 8.5 0 1 0 17 0a8.5 8.5 0 1 0 -17 0ZM1381.5 1241.8a8.5 8.5 0 1 0 17 0a8.5 8.5 0 1 0 -17 0ZM1389.5 1219.8a8.5 8.5 0 1 0 17 0a8.5 8.5 0 1 0 -17 0ZM1401.5 1201.8a8.5 8.5 0 1 0 17 0a8.5 8.5 0 1 0 -17 0ZM1405.2 1291.8a8.5 8.5 0 1 0 17 0a8.5 8.5 0 1 0 -17 0ZM1413.3 1255.5a8.5 8.5 0 1 0 17 0a8.5 8.5 0 1 0 -17 0ZM1425.6 1328a8.5 8.5 0 1 0 17 0a8.5 8.5 0 1 0 -17 0ZM1435.4 1317.8a8.5 8.5 0 1 0 17 0a8.5 8.5 0 1 0 -17 0ZM1439.5 1261.6a8.5 8.5 0 1 0 17 0a8.5 8.5 0 1 0 -17 0ZM1463.3 1321.8a8.5 8.5 0 1 0 17 0a8.5 8.5 0 1 0 -17 0ZM1475.6 1321.8a8.5 8.5 0 1 0 17 0a8.5 8.5 0 1 0 -17 0Z" fill="#0000f0"/>
<rect x="950.1" y="1077.8" width="595.9" height="392.2" fill="none" stroke="#000" stroke-width="2"/>
<path d="M950.1 1470.06L969.7 1470.06M950.1 1456.84L959.8 1456.84M950.1 1443.62L959.8 1443.62M950.1 1430.4L959.8 1430.4M950.1 1417.18L969.7 1417.18M950.1 1403.96L959.8 1403.96M950.1 1390.74L959.8 1390.74M950.1 1377.52L959.8 1377.52M950.1 1364.3L969.7 1364.3M950.1 1351.08L959.8 1351.08M950.1 1337.86L959.8 1337.86M950.1 1324.64L959.8 1324.64M950.1 1311.42L969.7 1311.42M950.1 1298.2L959.8 1298.2M950.1 1284.98L959.8 1284.98M950.1 1271.76L959.8 1271.76M950.1 1258.54L969.7 1258.54M950.1 1245.32L959.8 1245.32M950.1 1232.1L959.8 1232.1M950.1 1218.88L959.8 1218.88M950.1 1205.66L969.7 1205.66M950.1 1192.44L959.8 1192.44M950.1 1179.22L959.8 1179.22M950.1 1166L959.8 1166M950.1 1152.78L969.7 1152.78M950.1 1139.56L959.8 1139.56M950.1 1126.34L959.8 1126.34M950.1 1113.12L959.8 1113.12M950.1 1099.9L969.7 1099.9M950.1 1086.68L959.8 1086.68M954.14 1470L954.14 1464M973.8 1470L973.8 1460.1M993.45 1470L993.45 1464M1013.11 1470L1013.11 1464M1032.76 1470L1032.76 1464M1052.42 1470L1052.42 1460.1M1072.08 1470L1072.08 1464M1091.73 1470L1091.73 1464M1111.38 1470L1111.38 1464M1131.04 1470L1131.04 1460.1M1150.69 1470L1150.69 1464M1170.35 1470L1170.35 1464M1190 1470L1190 1464M1209.66 1470L1209.66 1460.1M1229.32 1470L1229.32 1464M1248.97 1470L1248.97 1464M1268.62 1470L1268.62 1464M1288.28 1470L1288.28 1460.1M1307.93 1470L1307.93 1464M1327.59 1470L1327.59 1464M1347.24 1470L1347.24 1464M1366.9 1470L1366.9 1460.1M1386.55 1470L1386.55 1464M1406.21 1470L1406.21 1464M1425.87 1470L1425.87 1464M1445.52 1470L1445.52 1460.1M1465.17 1470L1465.17 1464M1484.83 1470L1484.83 1464M1504.49 1470L1504.49 1464M1524.14 1470L1524.14 1460.1M1543.8 1470L1543.8 1464" stroke="#000" stroke-width="2" fill="none"/>
<text x="944.5" y="1107.5" font-size="20" fill="#000" font-family="'Liberation Sans',sans-serif" text-anchor="end" stroke="#000" stroke-width="0.34">1.02</text>
<text x="944.5" y="1160.38" font-size="20" fill="#000" font-family="'Liberation Sans',sans-serif" text-anchor="end" stroke="#000" stroke-width="0.34">1</text>
<text x="944.5" y="1213.26" font-size="20" fill="#000" font-family="'Liberation Sans',sans-serif" text-anchor="end" stroke="#000" stroke-width="0.34">0.98</text>
<text x="944.5" y="1266.14" font-size="20" fill="#000" font-family="'Liberation Sans',sans-serif" text-anchor="end" stroke="#000" stroke-width="0.34">0.96</text>
<text x="944.5" y="1319.02" font-size="20" fill="#000" font-family="'Liberation Sans',sans-serif" text-anchor="end" stroke="#000" stroke-width="0.34">0.94</text>
<text x="944.5" y="1371.9" font-size="20" fill="#000" font-family="'Liberation Sans',sans-serif" text-anchor="end" stroke="#000" stroke-width="0.34">0.92</text>
<text x="944.5" y="1424.78" font-size="20" fill="#000" font-family="'Liberation Sans',sans-serif" text-anchor="end" stroke="#000" stroke-width="0.34">0.9</text>
<text x="944.5" y="1477.66" font-size="20" fill="#000" font-family="'Liberation Sans',sans-serif" text-anchor="end" stroke="#000" stroke-width="0.34">0.88</text>
<text x="973.8" y="1491" font-size="20" fill="#000" font-family="'Liberation Sans',sans-serif" text-anchor="middle" stroke="#000" stroke-width="0.34">20</text>
<text x="1052.42" y="1491" font-size="20" fill="#000" font-family="'Liberation Sans',sans-serif" text-anchor="middle" stroke="#000" stroke-width="0.34">40</text>
<text x="1131.04" y="1491" font-size="20" fill="#000" font-family="'Liberation Sans',sans-serif" text-anchor="middle" stroke="#000" stroke-width="0.34">60</text>
<text x="1209.66" y="1491" font-size="20" fill="#000" font-family="'Liberation Sans',sans-serif" text-anchor="middle" stroke="#000" stroke-width="0.34">80</text>
<text x="1288.28" y="1491" font-size="20" fill="#000" font-family="'Liberation Sans',sans-serif" text-anchor="middle" stroke="#000" stroke-width="0.34">100</text>
<text x="1366.9" y="1491" font-size="20" fill="#000" font-family="'Liberation Sans',sans-serif" text-anchor="middle" stroke="#000" stroke-width="0.34">120</text>
<text x="1445.52" y="1491" font-size="20" fill="#000" font-family="'Liberation Sans',sans-serif" text-anchor="middle" stroke="#000" stroke-width="0.34">140</text>
<text x="1524.14" y="1491" font-size="20" fill="#000" font-family="'Liberation Sans',sans-serif" text-anchor="middle" stroke="#000" stroke-width="0.34">160</text>
<text x="1127" y="1512.4" font-size="20" fill="#000" font-family="'Liberation Sans',sans-serif" textLength="241.8" lengthAdjust="spacingAndGlyphs" stroke="#000" stroke-width="0.34">FIPPS-IFIN: Angle (degree)</text>
<text x="872.8" y="1356.4" font-size="20" fill="#000" font-family="'Liberation Sans',sans-serif" textLength="168.4" lengthAdjust="spacingAndGlyphs" transform="rotate(-90 872.8 1356.4)" stroke="#000" stroke-width="0.34">Normalized Counts</text>
<clipPath id="wclip"><rect x="184" y="1559.9" width="1370.2" height="355.7"/></clipPath>
<pattern id="stip" width="2" height="2" patternUnits="userSpaceOnUse"><rect width="2" height="2" fill="#fff"/><rect width="1" height="1" fill="#8c8c8c"/></pattern>
<g clip-path="url(#wclip)">
<path d="M184 1857.46L187.8 1857.43L191.6 1857.35L195.4 1857.23L199.2 1857.05L203 1856.82L206.8 1856.54L210.6 1856.21L214.4 1855.83L218.2 1855.4L222.01 1854.92L225.81 1854.39L229.61 1853.81L233.41 1853.18L237.21 1852.51L241.01 1851.78L244.81 1851L248.61 1850.18L252.41 1849.31L256.21 1848.39L260.01 1847.42L263.81 1846.41L267.61 1845.35L271.41 1844.24L275.21 1843.09L279.01 1841.89L282.81 1840.65L286.61 1839.37L290.42 1838.04L294.22 1836.67L298.02 1835.25L301.82 1833.79L305.62 1832.3L309.42 1830.76L313.22 1829.18L317.02 1827.56L320.82 1825.9L324.62 1824.2L328.42 1822.47L332.22 1820.69L336.02 1818.89L339.82 1817.04L343.62 1815.16L347.42 1813.25L351.22 1811.3L355.02 1809.32L358.83 1807.31L362.63 1805.27L366.43 1803.19L370.23 1801.09L374.03 1798.95L377.83 1796.79L381.63 1794.6L385.43 1792.39L389.23 1790.15L393.03 1787.88L396.83 1785.59L400.63 1783.27L404.43 1780.94L408.23 1778.58L412.03 1776.2L415.83 1773.8L419.63 1771.38L423.43 1768.94L427.24 1766.49L431.04 1764.01L434.84 1761.53L438.64 1759.02L442.44 1756.51L446.24 1753.98L450.04 1751.44L453.84 1748.88L457.64 1746.32L461.44 1743.75L465.24 1741.16L469.04 1738.57L472.84 1735.98L476.64 1733.37L480.44 1730.76L484.24 1728.15L488.04 1725.53L491.84 1722.91L495.65 1720.29L499.45 1717.67L503.25 1715.04L507.05 1712.42L510.85 1709.8L514.65 1707.18L518.45 1704.56L522.25 1701.95L526.05 1699.34L529.85 1696.73L533.65 1694.14L537.45 1691.55L541.25 1688.96L545.05 1686.39L548.85 1683.82L552.65 1681.27L556.45 1678.72L560.25 1676.19L564.06 1673.67L567.86 1671.16L571.66 1668.67L575.46 1666.19L579.26 1663.73L583.06 1661.28L586.86 1658.85L590.66 1656.43L594.46 1654.03L598.26 1651.65L602.06 1649.29L605.86 1646.95L609.66 1644.63L613.46 1642.33L617.26 1640.06L621.06 1637.8L624.86 1635.57L628.66 1633.36L632.46 1631.17L636.27 1629.01L640.07 1626.87L643.87 1624.76L647.67 1622.68L651.47 1620.62L655.27 1618.59L659.07 1616.58L662.87 1614.6L666.67 1612.66L670.47 1610.74L674.27 1608.85L678.07 1606.99L681.87 1605.16L685.67 1603.36L689.47 1601.59L693.27 1599.85L697.07 1598.15L700.87 1596.47L704.68 1594.83L708.48 1593.22L712.28 1591.65L716.08 1590.11L719.88 1588.6L723.68 1587.13L727.48 1585.69L731.28 1584.29L735.08 1582.92L738.88 1581.59L742.68 1580.29L746.48 1579.03L750.28 1577.8L754.08 1576.61L757.88 1575.46L761.68 1574.35L765.48 1573.27L769.28 1572.23L773.09 1571.23L776.89 1570.26L780.69 1569.34L784.49 1568.45L788.29 1567.6L792.09 1566.78L795.89 1566.01L799.69 1565.28L803.49 1564.58L807.29 1563.92L811.09 1563.31L814.89 1562.73L818.69 1562.19L822.49 1561.69L826.29 1561.23L830.09 1560.81L833.89 1560.43L837.69 1560.09L841.5 1559.79L845.3 1559.53L849.1 1559.31L852.9 1559.13L856.7 1558.99L860.5 1558.89L864.3 1558.83L868.1 1558.81L871.9 1558.83L875.7 1558.89L879.5 1558.99L883.3 1559.13L887.1 1559.31L890.9 1559.53L894.7 1559.79L898.5 1560.09L902.3 1560.43L906.1 1560.81L909.91 1561.23L913.71 1561.69L917.51 1562.19L921.31 1562.73L925.11 1563.31L928.91 1563.92L932.71 1564.58L936.51 1565.28L940.31 1566.01L944.11 1566.78L947.91 1567.6L951.71 1568.45L955.51 1569.34L959.31 1570.26L963.11 1571.23L966.91 1572.23L970.71 1573.27L974.51 1574.35L978.31 1575.46L982.12 1576.61L985.92 1577.8L989.72 1579.03L993.52 1580.29L997.32 1581.59L1001.12 1582.92L1004.92 1584.29L1008.72 1585.69L1012.52 1587.13L1016.32 1588.6L1020.12 1590.11L1023.92 1591.65L1027.72 1593.22L1031.52 1594.83L1035.32 1596.47L1039.12 1598.15L1042.92 1599.85L1046.72 1601.59L1050.53 1603.36L1054.33 1605.16L1058.13 1606.99L1061.93 1608.85L1065.73 1610.74L1069.53 1612.66L1073.33 1614.6L1077.13 1616.58L1080.93 1618.59L1084.73 1620.62L1088.53 1622.68L1092.33 1624.76L1096.13 1626.87L1099.93 1629.01L1103.73 1631.17L1107.53 1633.36L1111.33 1635.57L1115.13 1637.8L1118.94 1640.06L1122.74 1642.33L1126.54 1644.63L1130.34 1646.95L1134.14 1649.29L1137.94 1651.65L1141.74 1654.03L1145.54 1656.43L1149.34 1658.85L1153.14 1661.28L1156.94 1663.73L1160.74 1666.19L1164.54 1668.67L1168.34 1671.16L1172.14 1673.67L1175.94 1676.19L1179.74 1678.72L1183.54 1681.27L1187.35 1683.82L1191.15 1686.39L1194.95 1688.96L1198.75 1691.55L1202.55 1694.14L1206.35 1696.73L1210.15 1699.34L1213.95 1701.95L1217.75 1704.56L1221.55 1707.18L1225.35 1709.8L1229.15 1712.42L1232.95 1715.04L1236.75 1717.67L1240.55 1720.29L1244.35 1722.91L1248.15 1725.53L1251.95 1728.15L1255.76 1730.76L1259.56 1733.37L1263.36 1735.98L1267.16 1738.57L1270.96 1741.16L1274.76 1743.75L1278.56 1746.32L1282.36 1748.88L1286.16 1751.44L1289.96 1753.98L1293.76 1756.51L1297.56 1759.02L1301.36 1761.53L1305.16 1764.01L1308.96 1766.49L1312.76 1768.94L1316.56 1771.38L1320.36 1773.8L1324.16 1776.2L1327.97 1778.58L1331.77 1780.94L1335.57 1783.27L1339.37 1785.59L1343.17 1787.88L1346.97 1790.15L1350.77 1792.39L1354.57 1794.6L1358.37 1796.79L1362.17 1798.95L1365.97 1801.09L1369.77 1803.19L1373.57 1805.27L1377.37 1807.31L1381.17 1809.32L1384.97 1811.3L1388.77 1813.25L1392.57 1815.16L1396.38 1817.04L1400.18 1818.89L1403.98 1820.69L1407.78 1822.47L1411.58 1824.2L1415.38 1825.9L1419.18 1827.56L1422.98 1829.18L1426.78 1830.76L1430.58 1832.3L1434.38 1833.79L1438.18 1835.25L1441.98 1836.67L1445.78 1838.04L1449.58 1839.37L1453.38 1840.65L1457.18 1841.89L1460.98 1843.09L1464.79 1844.24L1468.59 1845.35L1472.39 1846.41L1476.19 1847.42L1479.99 1848.39L1483.79 1849.31L1487.59 1850.18L1491.39 1851L1495.19 1851.78L1498.99 1852.51L1502.79 1853.18L1506.59 1853.81L1510.39 1854.39L1514.19 1854.92L1517.99 1855.4L1521.79 1855.83L1525.59 1856.21L1529.39 1856.54L1533.2 1856.82L1537 1857.05L1540.8 1857.23L1544.6 1857.35L1544.6 1940.26L1540.8 1940.11L1537 1939.91L1533.2 1939.65L1529.39 1939.33L1525.59 1938.95L1521.79 1938.52L1517.99 1938.03L1514.19 1937.48L1510.39 1936.88L1506.59 1936.21L1502.79 1935.5L1498.99 1934.72L1495.19 1933.89L1491.39 1933.01L1487.59 1932.07L1483.79 1931.07L1479.99 1930.02L1476.19 1928.92L1472.39 1927.76L1468.59 1926.55L1464.79 1925.28L1460.98 1923.97L1457.18 1922.6L1453.38 1921.18L1449.58 1919.71L1445.78 1918.19L1441.98 1916.63L1438.18 1915.01L1434.38 1913.34L1430.58 1911.63L1426.78 1909.87L1422.98 1908.06L1419.18 1906.21L1415.38 1904.31L1411.58 1902.37L1407.78 1900.38L1403.98 1898.35L1400.18 1896.28L1396.38 1894.17L1392.57 1892.02L1388.77 1889.83L1384.97 1887.6L1381.17 1885.33L1377.37 1883.02L1373.57 1880.68L1369.77 1878.3L1365.97 1875.89L1362.17 1873.44L1358.37 1870.97L1354.57 1868.45L1350.77 1865.91L1346.97 1863.34L1343.17 1860.74L1339.37 1858.11L1335.57 1855.45L1331.77 1852.76L1327.97 1850.05L1324.16 1847.32L1320.36 1844.56L1316.56 1841.78L1312.76 1838.98L1308.96 1836.15L1305.16 1833.31L1301.36 1830.45L1297.56 1827.57L1293.76 1824.67L1289.96 1821.76L1286.16 1818.83L1282.36 1815.89L1278.56 1812.94L1274.76 1809.97L1270.96 1806.99L1267.16 1804.01L1263.36 1801.01L1259.56 1798.01L1255.76 1795L1251.95 1791.98L1248.15 1788.96L1244.35 1785.93L1240.55 1782.9L1236.75 1779.87L1232.95 1776.84L1229.15 1773.8L1225.35 1770.77L1221.55 1767.74L1217.75 1764.71L1213.95 1761.69L1210.15 1758.66L1206.35 1755.65L1202.55 1752.64L1198.75 1749.64L1194.95 1746.65L1191.15 1743.66L1187.35 1740.69L1183.54 1737.72L1179.74 1734.77L1175.94 1731.83L1172.14 1728.9L1168.34 1725.99L1164.54 1723.09L1160.74 1720.21L1156.94 1717.35L1153.14 1714.5L1149.34 1711.67L1145.54 1708.86L1141.74 1706.07L1137.94 1703.3L1134.14 1700.55L1130.34 1697.83L1126.54 1695.12L1122.74 1692.45L1118.94 1689.79L1115.13 1687.16L1111.33 1684.56L1107.53 1681.98L1103.73 1679.43L1099.93 1676.9L1096.13 1674.41L1092.33 1671.94L1088.53 1669.51L1084.73 1667.1L1080.93 1664.72L1077.13 1662.38L1073.33 1660.07L1069.53 1657.79L1065.73 1655.54L1061.93 1653.33L1058.13 1651.15L1054.33 1649.01L1050.53 1646.9L1046.72 1644.83L1042.92 1642.79L1039.12 1640.79L1035.32 1638.83L1031.52 1636.91L1027.72 1635.02L1023.92 1633.18L1020.12 1631.37L1016.32 1629.6L1012.52 1627.87L1008.72 1626.18L1004.92 1624.53L1001.12 1622.93L997.32 1621.36L993.52 1619.83L989.72 1618.35L985.92 1616.91L982.12 1615.51L978.31 1614.16L974.51 1612.85L970.71 1611.58L966.91 1610.36L963.11 1609.18L959.31 1608.04L955.51 1606.95L951.71 1605.9L947.91 1604.9L944.11 1603.95L940.31 1603.04L936.51 1602.17L932.71 1601.35L928.91 1600.58L925.11 1599.85L921.31 1599.17L917.51 1598.53L913.71 1597.95L909.91 1597.4L906.1 1596.91L902.3 1596.46L898.5 1596.06L894.7 1595.71L890.9 1595.4L887.1 1595.14L883.3 1594.93L879.5 1594.76L875.7 1594.64L871.9 1594.57L868.1 1594.55L864.3 1594.57L860.5 1594.64L856.7 1594.76L852.9 1594.93L849.1 1595.14L845.3 1595.4L841.5 1595.71L837.69 1596.06L833.89 1596.46L830.09 1596.91L826.29 1597.4L822.49 1597.95L818.69 1598.53L814.89 1599.17L811.09 1599.85L807.29 1600.58L803.49 1601.35L799.69 1602.17L795.89 1603.04L792.09 1603.95L788.29 1604.9L784.49 1605.9L780.69 1606.95L776.89 1608.04L773.09 1609.18L769.28 1610.36L765.48 1611.58L761.68 1612.85L757.88 1614.16L754.08 1615.51L750.28 1616.91L746.48 1618.35L742.68 1619.83L738.88 1621.36L735.08 1622.93L731.28 1624.53L727.48 1626.18L723.68 1627.87L719.88 1629.6L716.08 1631.37L712.28 1633.18L708.48 1635.02L704.68 1636.91L700.87 1638.83L697.07 1640.79L693.27 1642.79L689.47 1644.83L685.67 1646.9L681.87 1649.01L678.07 1651.15L674.27 1653.33L670.47 1655.54L666.67 1657.79L662.87 1660.07L659.07 1662.38L655.27 1664.72L651.47 1667.1L647.67 1669.51L643.87 1671.94L640.07 1674.41L636.27 1676.9L632.46 1679.43L628.66 1681.98L624.86 1684.56L621.06 1687.16L617.26 1689.79L613.46 1692.45L609.66 1695.12L605.86 1697.83L602.06 1700.55L598.26 1703.3L594.46 1706.07L590.66 1708.86L586.86 1711.67L583.06 1714.5L579.26 1717.35L575.46 1720.21L571.66 1723.09L567.86 1725.99L564.06 1728.9L560.25 1731.83L556.45 1734.77L552.65 1737.72L548.85 1740.69L545.05 1743.66L541.25 1746.65L537.45 1749.64L533.65 1752.64L529.85 1755.65L526.05 1758.66L522.25 1761.69L518.45 1764.71L514.65 1767.74L510.85 1770.77L507.05 1773.8L503.25 1776.84L499.45 1779.87L495.65 1782.9L491.84 1785.93L488.04 1788.96L484.24 1791.98L480.44 1795L476.64 1798.01L472.84 1801.01L469.04 1804.01L465.24 1806.99L461.44 1809.97L457.64 1812.94L453.84 1815.89L450.04 1818.83L446.24 1821.76L442.44 1824.67L438.64 1827.57L434.84 1830.45L431.04 1833.31L427.24 1836.15L423.43 1838.98L419.63 1841.78L415.83 1844.56L412.03 1847.32L408.23 1850.05L404.43 1852.76L400.63 1855.45L396.83 1858.11L393.03 1860.74L389.23 1863.34L385.43 1865.91L381.63 1868.45L377.83 1870.97L374.03 1873.44L370.23 1875.89L366.43 1878.3L362.63 1880.68L358.83 1883.02L355.02 1885.33L351.22 1887.6L347.42 1889.83L343.62 1892.02L339.82 1894.17L336.02 1896.28L332.22 1898.35L328.42 1900.38L324.62 1902.37L320.82 1904.31L317.02 1906.21L313.22 1908.06L309.42 1909.87L305.62 1911.63L301.82 1913.34L298.02 1915.01L294.22 1916.63L290.42 1918.19L286.61 1919.71L282.81 1921.18L279.01 1922.6L275.21 1923.97L271.41 1925.28L267.61 1926.55L263.81 1927.76L260.01 1928.92L256.21 1930.02L252.41 1931.07L248.61 1932.07L244.81 1933.01L241.01 1933.89L237.21 1934.72L233.41 1935.5L229.61 1936.21L225.81 1936.88L222.01 1937.48L218.2 1938.03L214.4 1938.52L210.6 1938.95L206.8 1939.33L203 1939.65L199.2 1939.91L195.4 1940.11L191.6 1940.26L187.8 1940.34L184 1940.37Z" fill="#dcdcdc"/>
<path d="M184 1919.21L187.8 1919.19L191.6 1919.1L195.4 1918.96L199.2 1918.77L203 1918.51L206.8 1918.21L210.6 1917.84L214.4 1917.42L218.2 1916.95L222.01 1916.42L225.81 1915.84L229.61 1915.2L233.41 1914.5L237.21 1913.75L241.01 1912.95L244.81 1912.09L248.61 1911.18L252.41 1910.22L256.21 1909.2L260.01 1908.13L263.81 1907.01L267.61 1905.83L271.41 1904.61L275.21 1903.33L279.01 1902L282.81 1900.62L286.61 1899.2L290.42 1897.72L294.22 1896.19L298.02 1894.62L301.82 1892.99L305.62 1891.32L309.42 1889.61L313.22 1887.84L317.02 1886.03L320.82 1884.18L324.62 1882.28L328.42 1880.34L332.22 1878.35L336.02 1876.32L339.82 1874.25L343.62 1872.14L347.42 1869.99L351.22 1867.8L355.02 1865.56L358.83 1863.29L362.63 1860.99L366.43 1858.64L370.23 1856.26L374.03 1853.84L377.83 1851.39L381.63 1848.91L385.43 1846.39L389.23 1843.84L393.03 1841.26L396.83 1838.65L400.63 1836L404.43 1833.33L408.23 1830.63L412.03 1827.91L415.83 1825.15L419.63 1822.38L423.43 1819.57L427.24 1816.75L431.04 1813.9L434.84 1811.03L438.64 1808.13L442.44 1805.22L446.24 1802.29L450.04 1799.34L453.84 1796.37L457.64 1793.39L461.44 1790.39L465.24 1787.37L469.04 1784.35L472.84 1781.31L476.64 1778.25L480.44 1775.19L484.24 1772.12L488.04 1769.04L491.84 1765.95L495.65 1762.85L499.45 1759.75L503.25 1756.64L507.05 1753.53L510.85 1750.42L514.65 1747.3L518.45 1744.18L522.25 1741.07L526.05 1737.95L529.85 1734.83L533.65 1731.72L537.45 1728.61L541.25 1725.51L545.05 1722.41L548.85 1719.31L552.65 1716.23L556.45 1713.15L560.25 1710.08L564.06 1707.02L567.86 1703.97L571.66 1700.94L575.46 1697.92L579.26 1694.91L583.06 1691.91L586.86 1688.93L590.66 1685.97L594.46 1683.03L598.26 1680.1L602.06 1677.19L605.86 1674.3L609.66 1671.43L613.46 1668.59L617.26 1665.76L621.06 1662.96L624.86 1660.19L628.66 1657.44L632.46 1654.71L636.27 1652.01L640.07 1649.34L643.87 1646.7L647.67 1644.08L651.47 1641.49L655.27 1638.94L659.07 1636.41L662.87 1633.92L666.67 1631.46L670.47 1629.03L674.27 1626.64L678.07 1624.28L681.87 1621.96L685.67 1619.67L689.47 1617.42L693.27 1615.21L697.07 1613.03L700.87 1610.89L704.68 1608.8L708.48 1606.74L712.28 1604.72L716.08 1602.74L719.88 1600.8L723.68 1598.91L727.48 1597.06L731.28 1595.25L735.08 1593.48L738.88 1591.76L742.68 1590.09L746.48 1588.45L750.28 1586.87L754.08 1585.33L757.88 1583.83L761.68 1582.39L765.48 1580.98L769.28 1579.63L773.09 1578.33L776.89 1577.07L780.69 1575.86L784.49 1574.7L788.29 1573.59L792.09 1572.53L795.89 1571.52L799.69 1570.56L803.49 1569.65L807.29 1568.79L811.09 1567.98L814.89 1567.22L818.69 1566.52L822.49 1565.86L826.29 1565.26L830.09 1564.71L833.89 1564.21L837.69 1563.76L841.5 1563.37L845.3 1563.03L849.1 1562.74L852.9 1562.5L856.7 1562.32L860.5 1562.18L864.3 1562.1L868.1 1562.08L871.9 1562.1L875.7 1562.18L879.5 1562.32L883.3 1562.5L887.1 1562.74L890.9 1563.03L894.7 1563.37L898.5 1563.76L902.3 1564.21L906.1 1564.71L909.91 1565.26L913.71 1565.86L917.51 1566.52L921.31 1567.22L925.11 1567.98L928.91 1568.79L932.71 1569.65L936.51 1570.56L940.31 1571.52L944.11 1572.53L947.91 1573.59L951.71 1574.7L955.51 1575.86L959.31 1577.07L963.11 1578.33L966.91 1579.63L970.71 1580.98L974.51 1582.39L978.31 1583.83L982.12 1585.33L985.92 1586.87L989.72 1588.45L993.52 1590.09L997.32 1591.76L1001.12 1593.48L1004.92 1595.25L1008.72 1597.06L1012.52 1598.91L1016.32 1600.8L1020.12 1602.74L1023.92 1604.72L1027.72 1606.74L1031.52 1608.8L1035.32 1610.89L1039.12 1613.03L1042.92 1615.21L1046.72 1617.42L1050.53 1619.67L1054.33 1621.96L1058.13 1624.28L1061.93 1626.64L1065.73 1629.03L1069.53 1631.46L1073.33 1633.92L1077.13 1636.41L1080.93 1638.94L1084.73 1641.49L1088.53 1644.08L1092.33 1646.7L1096.13 1649.34L1099.93 1652.01L1103.73 1654.71L1107.53 1657.44L1111.33 1660.19L1115.13 1662.96L1118.94 1665.76L1122.74 1668.59L1126.54 1671.43L1130.34 1674.3L1134.14 1677.19L1137.94 1680.1L1141.74 1683.03L1145.54 1685.97L1149.34 1688.93L1153.14 1691.91L1156.94 1694.91L1160.74 1697.92L1164.54 1700.94L1168.34 1703.97L1172.14 1707.02L1175.94 1710.08L1179.74 1713.15L1183.54 1716.23L1187.35 1719.31L1191.15 1722.41L1194.95 1725.51L1198.75 1728.61L1202.55 1731.72L1206.35 1734.83L1210.15 1737.95L1213.95 1741.07L1217.75 1744.18L1221.55 1747.3L1225.35 1750.42L1229.15 1753.53L1232.95 1756.64L1236.75 1759.75L1240.55 1762.85L1244.35 1765.95L1248.15 1769.04L1251.95 1772.12L1255.76 1775.19L1259.56 1778.25L1263.36 1781.31L1267.16 1784.35L1270.96 1787.37L1274.76 1790.39L1278.56 1793.39L1282.36 1796.37L1286.16 1799.34L1289.96 1802.29L1293.76 1805.22L1297.56 1808.13L1301.36 1811.03L1305.16 1813.9L1308.96 1816.75L1312.76 1819.57L1316.56 1822.38L1320.36 1825.15L1324.16 1827.91L1327.97 1830.63L1331.77 1833.33L1335.57 1836L1339.37 1838.65L1343.17 1841.26L1346.97 1843.84L1350.77 1846.39L1354.57 1848.91L1358.37 1851.39L1362.17 1853.84L1365.97 1856.26L1369.77 1858.64L1373.57 1860.99L1377.37 1863.29L1381.17 1865.56L1384.97 1867.8L1388.77 1869.99L1392.57 1872.14L1396.38 1874.25L1400.18 1876.32L1403.98 1878.35L1407.78 1880.34L1411.58 1882.28L1415.38 1884.18L1419.18 1886.03L1422.98 1887.84L1426.78 1889.61L1430.58 1891.32L1434.38 1892.99L1438.18 1894.62L1441.98 1896.19L1445.78 1897.72L1449.58 1899.2L1453.38 1900.62L1457.18 1902L1460.98 1903.33L1464.79 1904.61L1468.59 1905.83L1472.39 1907.01L1476.19 1908.13L1479.99 1909.2L1483.79 1910.22L1487.59 1911.18L1491.39 1912.09L1495.19 1912.95L1498.99 1913.75L1502.79 1914.5L1506.59 1915.2L1510.39 1915.84L1514.19 1916.42L1517.99 1916.95L1521.79 1917.42L1525.59 1917.84L1529.39 1918.21L1533.2 1918.51L1537 1918.77L1540.8 1918.96L1544.6 1919.1L1548.4 1919.19L1552.2 1919.21" stroke="#e43cf0" stroke-width="2.6" fill="none" stroke-linejoin="round"/>
<path d="M184 1898.91L187.8 1898.89L191.6 1898.81L195.4 1898.67L199.2 1898.48L203 1898.23L206.8 1897.94L210.6 1897.58L214.4 1897.18L218.2 1896.72L222.01 1896.2L225.81 1895.63L229.61 1895.01L233.41 1894.34L237.21 1893.61L241.01 1892.83L244.81 1892L248.61 1891.12L252.41 1890.19L256.21 1889.2L260.01 1888.17L263.81 1887.08L267.61 1885.95L271.41 1884.76L275.21 1883.53L279.01 1882.25L282.81 1880.92L286.61 1879.54L290.42 1878.12L294.22 1876.65L298.02 1875.13L301.82 1873.57L305.62 1871.96L309.42 1870.31L313.22 1868.62L317.02 1866.88L320.82 1865.1L324.62 1863.29L328.42 1861.43L332.22 1859.52L336.02 1857.59L339.82 1855.61L343.62 1853.59L347.42 1851.54L351.22 1849.45L355.02 1847.33L358.83 1845.17L362.63 1842.97L366.43 1840.75L370.23 1838.49L374.03 1836.2L377.83 1833.88L381.63 1831.53L385.43 1829.15L389.23 1826.74L393.03 1824.31L396.83 1821.85L400.63 1819.36L404.43 1816.85L408.23 1814.32L412.03 1811.76L415.83 1809.18L419.63 1806.58L423.43 1803.96L427.24 1801.32L431.04 1798.66L434.84 1795.99L438.64 1793.3L442.44 1790.59L446.24 1787.87L450.04 1785.14L453.84 1782.39L457.64 1779.63L461.44 1776.86L465.24 1774.08L469.04 1771.29L472.84 1768.49L476.64 1765.69L480.44 1762.88L484.24 1760.06L488.04 1757.24L491.84 1754.42L495.65 1751.59L499.45 1748.77L503.25 1745.94L507.05 1743.11L510.85 1740.28L514.65 1737.46L518.45 1734.63L522.25 1731.82L526.05 1729L529.85 1726.19L533.65 1723.39L537.45 1720.59L541.25 1717.8L545.05 1715.03L548.85 1712.26L552.65 1709.5L556.45 1706.75L560.25 1704.01L564.06 1701.29L567.86 1698.58L571.66 1695.88L575.46 1693.2L579.26 1690.54L583.06 1687.89L586.86 1685.26L590.66 1682.65L594.46 1680.05L598.26 1677.48L602.06 1674.92L605.86 1672.39L609.66 1669.88L613.46 1667.39L617.26 1664.92L621.06 1662.48L624.86 1660.06L628.66 1657.67L632.46 1655.3L636.27 1652.96L640.07 1650.64L643.87 1648.35L647.67 1646.09L651.47 1643.86L655.27 1641.65L659.07 1639.48L662.87 1637.34L666.67 1635.22L670.47 1633.14L674.27 1631.09L678.07 1629.07L681.87 1627.08L685.67 1625.13L689.47 1623.21L693.27 1621.32L697.07 1619.47L700.87 1617.65L704.68 1615.87L708.48 1614.12L712.28 1612.41L716.08 1610.74L719.88 1609.1L723.68 1607.5L727.48 1605.94L731.28 1604.41L735.08 1602.92L738.88 1601.47L742.68 1600.06L746.48 1598.69L750.28 1597.36L754.08 1596.06L757.88 1594.81L761.68 1593.6L765.48 1592.43L769.28 1591.29L773.09 1590.2L776.89 1589.15L780.69 1588.14L784.49 1587.18L788.29 1586.25L792.09 1585.37L795.89 1584.52L799.69 1583.72L803.49 1582.97L807.29 1582.25L811.09 1581.58L814.89 1580.95L818.69 1580.36L822.49 1579.82L826.29 1579.32L830.09 1578.86L833.89 1578.45L837.69 1578.08L841.5 1577.75L845.3 1577.46L849.1 1577.22L852.9 1577.03L856.7 1576.87L860.5 1576.77L864.3 1576.7L868.1 1576.68L871.9 1576.7L875.7 1576.77L879.5 1576.87L883.3 1577.03L887.1 1577.22L890.9 1577.46L894.7 1577.75L898.5 1578.08L902.3 1578.45L906.1 1578.86L909.91 1579.32L913.71 1579.82L917.51 1580.36L921.31 1580.95L925.11 1581.58L928.91 1582.25L932.71 1582.97L936.51 1583.72L940.31 1584.52L944.11 1585.37L947.91 1586.25L951.71 1587.18L955.51 1588.14L959.31 1589.15L963.11 1590.2L966.91 1591.29L970.71 1592.43L974.51 1593.6L978.31 1594.81L982.12 1596.06L985.92 1597.36L989.72 1598.69L993.52 1600.06L997.32 1601.47L1001.12 1602.92L1004.92 1604.41L1008.72 1605.94L1012.52 1607.5L1016.32 1609.1L1020.12 1610.74L1023.92 1612.41L1027.72 1614.12L1031.52 1615.87L1035.32 1617.65L1039.12 1619.47L1042.92 1621.32L1046.72 1623.21L1050.53 1625.13L1054.33 1627.08L1058.13 1629.07L1061.93 1631.09L1065.73 1633.14L1069.53 1635.22L1073.33 1637.34L1077.13 1639.48L1080.93 1641.65L1084.73 1643.86L1088.53 1646.09L1092.33 1648.35L1096.13 1650.64L1099.93 1652.96L1103.73 1655.3L1107.53 1657.67L1111.33 1660.06L1115.13 1662.48L1118.94 1664.92L1122.74 1667.39L1126.54 1669.88L1130.34 1672.39L1134.14 1674.92L1137.94 1677.48L1141.74 1680.05L1145.54 1682.65L1149.34 1685.26L1153.14 1687.89L1156.94 1690.54L1160.74 1693.2L1164.54 1695.88L1168.34 1698.58L1172.14 1701.29L1175.94 1704.01L1179.74 1706.75L1183.54 1709.5L1187.35 1712.26L1191.15 1715.03L1194.95 1717.8L1198.75 1720.59L1202.55 1723.39L1206.35 1726.19L1210.15 1729L1213.95 1731.82L1217.75 1734.63L1221.55 1737.46L1225.35 1740.28L1229.15 1743.11L1232.95 1745.94L1236.75 1748.77L1240.55 1751.59L1244.35 1754.42L1248.15 1757.24L1251.95 1760.06L1255.76 1762.88L1259.56 1765.69L1263.36 1768.49L1267.16 1771.29L1270.96 1774.08L1274.76 1776.86L1278.56 1779.63L1282.36 1782.39L1286.16 1785.14L1289.96 1787.87L1293.76 1790.59L1297.56 1793.3L1301.36 1795.99L1305.16 1798.66L1308.96 1801.32L1312.76 1803.96L1316.56 1806.58L1320.36 1809.18L1324.16 1811.76L1327.97 1814.32L1331.77 1816.85L1335.57 1819.36L1339.37 1821.85L1343.17 1824.31L1346.97 1826.74L1350.77 1829.15L1354.57 1831.53L1358.37 1833.88L1362.17 1836.2L1365.97 1838.49L1369.77 1840.75L1373.57 1842.97L1377.37 1845.17L1381.17 1847.33L1384.97 1849.45L1388.77 1851.54L1392.57 1853.59L1396.38 1855.61L1400.18 1857.59L1403.98 1859.52L1407.78 1861.43L1411.58 1863.29L1415.38 1865.1L1419.18 1866.88L1422.98 1868.62L1426.78 1870.31L1430.58 1871.96L1434.38 1873.57L1438.18 1875.13L1441.98 1876.65L1445.78 1878.12L1449.58 1879.54L1453.38 1880.92L1457.18 1882.25L1460.98 1883.53L1464.79 1884.76L1468.59 1885.95L1472.39 1887.08L1476.19 1888.17L1479.99 1889.2L1483.79 1890.19L1487.59 1891.12L1491.39 1892L1495.19 1892.83L1498.99 1893.61L1502.79 1894.34L1506.59 1895.01L1510.39 1895.63L1514.19 1896.2L1517.99 1896.72L1521.79 1897.18L1525.59 1897.58L1529.39 1897.94L1533.2 1898.23L1537 1898.48L1540.8 1898.67L1544.6 1898.81L1548.4 1898.89L1552.2 1898.91" stroke="#000" stroke-width="2.2" fill="none" stroke-linejoin="round"/>
</g>
<rect x="184" y="1559.9" width="1370.2" height="355.7" fill="none" stroke="#000" stroke-width="2.2"/>
<path d="M184 1914.6L199.5 1914.6M184 1907.46L199.5 1907.46M184 1900.31L199.5 1900.31M184 1893.16L217.8 1893.16M184 1886.01L199.5 1886.01M184 1878.86L199.5 1878.86M184 1871.72L199.5 1871.72M184 1864.57L199.5 1864.57M184 1857.42L217.8 1857.42M184 1850.27L199.5 1850.27M184 1843.12L199.5 1843.12M184 1835.98L199.5 1835.98M184 1828.83L199.5 1828.83M184 1821.68L217.8 1821.68M184 1814.53L199.5 1814.53M184 1807.38L199.5 1807.38M184 1800.24L199.5 1800.24M184 1793.09L199.5 1793.09M184 1785.94L217.8 1785.94M184 1778.79L199.5 1778.79M184 1771.64L199.5 1771.64M184 1764.5L199.5 1764.5M184 1757.35L199.5 1757.35M184 1750.2L217.8 1750.2M184 1743.05L199.5 1743.05M184 1735.9L199.5 1735.9M184 1728.76L199.5 1728.76M184 1721.61L199.5 1721.61M184 1714.46L217.8 1714.46M184 1707.31L199.5 1707.31M184 1700.16L199.5 1700.16M184 1693.02L199.5 1693.02M184 1685.87L199.5 1685.87M184 1678.72L217.8 1678.72M184 1671.57L199.5 1671.57M184 1664.42L199.5 1664.42M184 1657.28L199.5 1657.28M184 1650.13L199.5 1650.13M184 1642.98L217.8 1642.98M184 1635.83L199.5 1635.83M184 1628.68L199.5 1628.68M184 1621.54L199.5 1621.54M184 1614.39L199.5 1614.39M184 1607.24L217.8 1607.24M184 1600.09L199.5 1600.09M184 1592.94L199.5 1592.94M184 1585.8L199.5 1585.8M184 1578.65L199.5 1578.65M184 1571.5L217.8 1571.5M184 1564.35L199.5 1564.35M222.01 1915.6L222.01 1907.6M260.01 1915.6L260.01 1907.6M298.02 1915.6L298.02 1907.6M336.02 1915.6L336.02 1902.1M374.03 1915.6L374.03 1907.6M412.03 1915.6L412.03 1907.6M450.04 1915.6L450.04 1907.6M488.04 1915.6L488.04 1902.1M526.05 1915.6L526.05 1907.6M564.06 1915.6L564.06 1907.6M602.06 1915.6L602.06 1907.6M640.07 1915.6L640.07 1902.1M678.07 1915.6L678.07 1907.6M716.08 1915.6L716.08 1907.6M754.08 1915.6L754.08 1907.6M792.09 1915.6L792.09 1902.1M830.09 1915.6L830.09 1907.6M868.1 1915.6L868.1 1907.6M906.1 1915.6L906.1 1907.6M944.11 1915.6L944.11 1902.1M982.12 1915.6L982.12 1907.6M1020.12 1915.6L1020.12 1907.6M1058.13 1915.6L1058.13 1907.6M1096.13 1915.6L1096.13 1902.1M1134.14 1915.6L1134.14 1907.6M1172.14 1915.6L1172.14 1907.6M1210.15 1915.6L1210.15 1907.6M1248.15 1915.6L1248.15 1902.1M1286.16 1915.6L1286.16 1907.6M1324.16 1915.6L1324.16 1907.6M1362.17 1915.6L1362.17 1907.6M1400.18 1915.6L1400.18 1902.1M1438.18 1915.6L1438.18 1907.6M1476.19 1915.6L1476.19 1907.6M1514.19 1915.6L1514.19 1907.6" stroke="#000" stroke-width="2.2" fill="none"/>
<text x="175.5" y="1900.36" font-size="20" fill="#000" font-family="'Liberation Sans',sans-serif" text-anchor="end" stroke="#000" stroke-width="0.34">0.91</text>
<text x="175.5" y="1864.62" font-size="20" fill="#000" font-family="'Liberation Sans',sans-serif" text-anchor="end" stroke="#000" stroke-width="0.34">0.92</text>
<text x="175.5" y="1828.88" font-size="20" fill="#000" font-family="'Liberation Sans',sans-serif" text-anchor="end" stroke="#000" stroke-width="0.34">0.93</text>
<text x="175.5" y="1793.14" font-size="20" fill="#000" font-family="'Liberation Sans',sans-serif" text-anchor="end" stroke="#000" stroke-width="0.34">0.94</text>
<text x="175.5" y="1757.4" font-size="20" fill="#000" font-family="'Liberation Sans',sans-serif" text-anchor="end" stroke="#000" stroke-width="0.34">0.95</text>
<text x="175.5" y="1721.66" font-size="20" fill="#000" font-family="'Liberation Sans',sans-serif" text-anchor="end" stroke="#000" stroke-width="0.34">0.96</text>
<text x="175.5" y="1685.92" font-size="20" fill="#000" font-family="'Liberation Sans',sans-serif" text-anchor="end" stroke="#000" stroke-width="0.34">0.97</text>
<text x="175.5" y="1650.18" font-size="20" fill="#000" font-family="'Liberation Sans',sans-serif" text-anchor="end" stroke="#000" stroke-width="0.34">0.98</text>
<text x="175.5" y="1614.44" font-size="20" fill="#000" font-family="'Liberation Sans',sans-serif" text-anchor="end" stroke="#000" stroke-width="0.34">0.99</text>
<text x="175.5" y="1578.7" font-size="20" fill="#000" font-family="'Liberation Sans',sans-serif" text-anchor="end" stroke="#000" stroke-width="0.34">1</text>
<text x="184" y="1934.2" font-size="20" fill="#000" font-family="'Liberation Sans',sans-serif" text-anchor="middle" stroke="#000" stroke-width="0.34">0</text>
<text x="336.02" y="1934.2" font-size="20" fill="#000" font-family="'Liberation Sans',sans-serif" text-anchor="middle" stroke="#000" stroke-width="0.34">20</text>
<text x="488.04" y="1934.2" font-size="20" fill="#000" font-family="'Liberation Sans',sans-serif" text-anchor="middle" stroke="#000" stroke-width="0.34">40</text>
<text x="640.07" y="1934.2" font-size="20" fill="#000" font-family="'Liberation Sans',sans-serif" text-anchor="middle" stroke="#000" stroke-width="0.34">60</text>
<text x="792.09" y="1934.2" font-size="20" fill="#000" font-family="'Liberation Sans',sans-serif" text-anchor="middle" stroke="#000" stroke-width="0.34">80</text>
<text x="944.11" y="1934.2" font-size="20" fill="#000" font-family="'Liberation Sans',sans-serif" text-anchor="middle" stroke="#000" stroke-width="0.34">100</text>
<text x="1096.13" y="1934.2" font-size="20" fill="#000" font-family="'Liberation Sans',sans-serif" text-anchor="middle" stroke="#000" stroke-width="0.34">120</text>
<text x="1248.15" y="1934.2" font-size="20" fill="#000" font-family="'Liberation Sans',sans-serif" text-anchor="middle" stroke="#000" stroke-width="0.34">140</text>
<text x="1400.18" y="1934.2" font-size="20" fill="#000" font-family="'Liberation Sans',sans-serif" text-anchor="middle" stroke="#000" stroke-width="0.34">160</text>
<text x="1552.2" y="1934.2" font-size="20" fill="#000" font-family="'Liberation Sans',sans-serif" text-anchor="middle" stroke="#000" stroke-width="0.34">180</text>
<text x="822" y="1956" font-size="19.5" fill="#000" font-family="'Liberation Sans',sans-serif" textLength="88.6" lengthAdjust="spacingAndGlyphs" stroke="#000" stroke-width="0.33">θ (degree)</text>
<text x="138" y="1757.8" font-size="19.5" fill="#000" font-family="'Liberation Sans',sans-serif" textLength="38.8" lengthAdjust="spacingAndGlyphs" transform="rotate(-90 138 1757.8)" stroke="#000" stroke-width="0.33">W(θ)</text>
<clipPath id="chiclip"><rect x="1765.5" y="1098" width="1236.5" height="771.6"/></clipPath>
<g clip-path="url(#chiclip)">
<path d="M1765.5 1273.8L1768.5 1269.65L1771.5 1265.59L1774.5 1261.63L1777.5 1257.77L1780.5 1254.03L1783.5 1250.41L1786.5 1246.92L1789.5 1243.55L1792.5 1240.27L1795.5 1237.06L1798.5 1233.93L1801.5 1230.89L1804.5 1227.93L1807.5 1225.07L1810.5 1222.31L1813.5 1219.64L1816.5 1217.07L1819.5 1214.6L1822.5 1212.22L1825.5 1209.91L1828.5 1207.67L1831.5 1205.48L1834.5 1203.33L1837.5 1201.21L1840.5 1199.11L1843.5 1197.02L1846.5 1194.94L1849.5 1192.86L1852.5 1190.81L1855.5 1188.8L1858.5 1186.84L1861.5 1184.93L1864.5 1183.1L1867.5 1181.36L1870.5 1179.7L1873.5 1178.12L1876.5 1176.6L1879.5 1175.13L1882.5 1173.7L1885.5 1172.32L1888.5 1170.98L1891.5 1169.66L1894.5 1168.37L1897.5 1167.11L1900.5 1165.86L1903.5 1164.65L1906.5 1163.47L1909.5 1162.31L1912.5 1161.17L1915.5 1160.06L1918.5 1158.97L1921.5 1157.91L1924.5 1156.86L1927.5 1155.81L1930.5 1154.76L1933.5 1153.72L1936.5 1152.69L1939.5 1151.7L1942.5 1150.75L1945.5 1149.86L1948.5 1149.04L1951.5 1148.3L1954.5 1147.62L1957.5 1146.98L1960.5 1146.37L1963.5 1145.8L1966.5 1145.25L1969.5 1144.74L1972.5 1144.25L1975.5 1143.78L1978.5 1143.34L1981.5 1142.92L1984.5 1142.52L1987.5 1142.13L1990.5 1141.76L1993.5 1141.4L1996.5 1141.07L1999.5 1140.75L2002.5 1140.45L2005.5 1140.16L2008.5 1139.89L2011.5 1139.59L2014.5 1139.3L2017.5 1139.01L2020.5 1138.74L2023.5 1138.5L2026.5 1138.31L2029.5 1138.17L2032.5 1138.1L2035.5 1138.11L2038.5 1138.16L2041.5 1138.24L2044.5 1138.35L2047.5 1138.49L2050.5 1138.64L2053.5 1138.8L2056.5 1138.97L2059.5 1139.13L2062.5 1139.28L2065.5 1139.45L2068.5 1139.62L2071.5 1139.81L2074.5 1140.01L2077.5 1140.22L2080.5 1140.45L2083.5 1140.69L2086.5 1140.95L2089.5 1141.22L2092.5 1141.51L2095.5 1141.83L2098.5 1142.18L2101.5 1142.55L2104.5 1142.95L2107.5 1143.38L2110.5 1143.84L2113.5 1144.33L2116.5 1144.87L2119.5 1145.49L2122.5 1146.22L2125.5 1147.02L2128.5 1147.89L2131.5 1148.8L2134.5 1149.74L2137.5 1150.7L2140.5 1151.65L2143.5 1152.59L2146.5 1153.52L2149.5 1154.47L2152.5 1155.45L2155.5 1156.44L2158.5 1157.45L2161.5 1158.49L2164.5 1159.56L2167.5 1160.65L2170.5 1161.78L2173.5 1162.93L2176.5 1164.11L2179.5 1165.32L2182.5 1166.56L2185.5 1167.84L2188.5 1169.16L2191.5 1170.51L2194.5 1171.91L2197.5 1173.35L2200.5 1174.84L2203.5 1176.38L2206.5 1177.97L2209.5 1179.61L2212.5 1181.3L2215.5 1183.06L2218.5 1184.87L2221.5 1186.74L2224.5 1188.67L2227.5 1190.68L2230.5 1192.78L2233.5 1194.97L2236.5 1197.23L2239.5 1199.58L2242.5 1201.99L2245.5 1204.47L2248.5 1207.01L2251.5 1209.6L2254.5 1212.26L2257.5 1215.02L2260.5 1217.88L2263.5 1220.82L2266.5 1223.84L2269.5 1226.92L2272.5 1230.05L2275.5 1233.22L2278.5 1236.42L2281.5 1239.62L2284.5 1242.8L2287.5 1245.97L2290.5 1249.19L2293.5 1252.48L2296.5 1255.88L2299.5 1259.43L2302.5 1263.17L2305.5 1267.13L2308.5 1271.34L2311.5 1275.85L2314.5 1280.63L2317.5 1285.67L2320.5 1290.96L2323.5 1296.5L2326.5 1302.25L2329.5 1308.22L2332.5 1314.39L2335.5 1320.76L2338.5 1327.44L2341.5 1334.59L2344.5 1342.33L2347.5 1350.81L2350.5 1360.17L2353.5 1370.55L2356.5 1382L2359.5 1394.56L2362.5 1408.23L2365.5 1422.63L2368.5 1438.48L2371.5 1456.92L2374.5 1479.07L2375.4 1486.6L2381.4 1564.7L2386.2 1657L2387.1 1746.2L2387.8 1872L2388.4 1872L2390.3 1714.4L2392.5 1641.1L2397.3 1558.3L2406.9 1469.2L2411.2 1423.9L2414 1407.67L2417 1393.87L2420 1382.61L2423 1372.7L2426 1363.12L2429 1354.11L2432 1345.75L2435 1338.03L2438 1330.94L2441 1324.47L2444 1318.6L2447 1313.17L2450 1308.1L2453 1303.34L2456 1298.86L2459 1294.59L2462 1290.51L2465 1286.57L2468 1282.71L2471 1278.91L2474 1275.25L2477 1271.72L2480 1268.31L2483 1265L2486 1261.79L2489 1258.66L2492 1255.6L2495 1252.59L2498 1249.62L2501 1246.64L2504 1243.7L2507 1240.8L2510 1237.99L2513 1235.29L2516 1232.73L2519 1230.34L2522 1228.14L2525 1226.14L2528 1224.26L2531 1222.5L2534 1220.82L2537 1219.22L2540 1217.67L2543 1216.17L2546 1214.68L2549 1213.2L2552 1211.73L2555 1210.28L2558 1208.87L2561 1207.48L2564 1206.13L2567 1204.82L2570 1203.54L2573 1202.3L2576 1201.1L2579 1199.9L2582 1198.69L2585 1197.49L2588 1196.33L2591 1195.22L2594 1194.19L2597 1193.26L2600 1192.46L2603 1191.79L2606 1191.2L2609 1190.65L2612 1190.15L2615 1189.68L2618 1189.25L2621 1188.86L2624 1188.5L2627 1188.16L2630 1187.84L2633 1187.52L2636 1187.19L2639 1186.87L2642 1186.58L2645 1186.33L2648 1186.12L2651 1185.98L2654 1185.9L2657 1185.92L2660 1185.99L2663 1186.12L2666 1186.3L2669 1186.5L2672 1186.73L2675 1186.98L2678 1187.22L2681 1187.46L2684 1187.69L2687 1187.94L2690 1188.2L2693 1188.47L2696 1188.77L2699 1189.08L2702 1189.43L2705 1189.8L2708 1190.2L2711 1190.66L2714 1191.19L2717 1191.79L2720 1192.44L2723 1193.13L2726 1193.86L2729 1194.61L2732 1195.37L2735 1196.13L2738 1196.89L2741 1197.66L2744 1198.46L2747 1199.29L2750 1200.16L2753 1201.09L2756 1202.08L2759 1203.15L2762 1204.29L2765 1205.57L2768 1206.98L2771 1208.5L2774 1210.13L2777 1211.85L2780 1213.67L2783 1215.55L2786 1217.5L2789 1219.53L2792 1221.73L2795 1224.1L2798 1226.6L2801 1229.21L2804 1231.89L2807 1234.62L2810 1237.37L2813 1240.1L2816 1242.8L2819 1245.49L2822 1248.2L2825 1250.95L2828 1253.75L2831 1256.61L2834 1259.56L2837 1262.6L2840 1265.77L2843 1269.06L2846 1272.49L2849 1276.03L2852 1279.69L2855 1283.46L2858 1287.32L2861 1291.28L2864 1295.32L2867 1299.44L2870 1303.65L2873 1307.96L2876 1312.39L2879 1316.94L2882 1321.59L2885 1326.37L2888 1331.27L2891 1336.29L2894 1341.45L2897 1347.18L2900 1353.39L2903 1359.75L2906 1365.91L2909 1371.51L2912 1376.2L2915 1380.52L2918 1384.9L2921 1388.82L2924 1391.8L2927 1393.31L2930 1393.29L2933 1392.8L2936 1392.04L2939 1389.71L2942 1385.6L2945 1380.88L2948 1376.5L2951 1371.97L2954 1367.2L2957 1362.22L2960 1357.07L2963 1351.78L2966 1346.39L2969 1340.93L2972 1335.45L2975 1329.93L2978 1324.33L2981 1318.62L2984 1312.82L2987 1306.92L2990 1300.92L2993 1294.83L2996 1288.64L2999 1282.37L3002 1276" stroke="#e3301c" stroke-width="2.2" fill="none" stroke-linejoin="round"/>
</g>
<line x1="2388" y1="1098" x2="2388" y2="1869.6" stroke="#0000f0" stroke-width="2.1" stroke-dasharray="6 6" stroke-dashoffset="-10"/>
<line x1="2930" y1="1098" x2="2930" y2="1869.6" stroke="#ea2cf0" stroke-width="2.1" stroke-dasharray="6 6" stroke-dashoffset="-10"/>
<rect x="1765.5" y="1098" width="1236.5" height="771.6" fill="none" stroke="#000" stroke-width="2.2"/>
<path d="M1765.5 1867.05L1803.5 1867.05M1765.5 1823.99L1783.9 1823.99M1765.5 1798.8L1783.9 1798.8M1765.5 1780.93L1783.9 1780.93M1765.5 1767.06L1783.9 1767.06M1765.5 1755.74L1783.9 1755.74M1765.5 1746.16L1783.9 1746.16M1765.5 1737.86L1783.9 1737.86M1765.5 1730.55L1783.9 1730.55M1765.5 1724L1803.5 1724M1765.5 1680.94L1783.9 1680.94M1765.5 1655.75L1783.9 1655.75M1765.5 1637.88L1783.9 1637.88M1765.5 1624.01L1783.9 1624.01M1765.5 1612.69L1783.9 1612.69M1765.5 1603.11L1783.9 1603.11M1765.5 1594.81L1783.9 1594.81M1765.5 1587.5L1783.9 1587.5M1765.5 1580.95L1803.5 1580.95M1765.5 1537.89L1783.9 1537.89M1765.5 1512.7L1783.9 1512.7M1765.5 1494.83L1783.9 1494.83M1765.5 1480.96L1783.9 1480.96M1765.5 1469.64L1783.9 1469.64M1765.5 1460.06L1783.9 1460.06M1765.5 1451.76L1783.9 1451.76M1765.5 1444.45L1783.9 1444.45M1765.5 1437.9L1803.5 1437.9M1765.5 1394.84L1783.9 1394.84M1765.5 1369.65L1783.9 1369.65M1765.5 1351.78L1783.9 1351.78M1765.5 1337.91L1783.9 1337.91M1765.5 1326.59L1783.9 1326.59M1765.5 1317.01L1783.9 1317.01M1765.5 1308.71L1783.9 1308.71M1765.5 1301.4L1783.9 1301.4M1765.5 1294.85L1803.5 1294.85M1765.5 1251.79L1783.9 1251.79M1765.5 1226.6L1783.9 1226.6M1765.5 1208.73L1783.9 1208.73M1765.5 1194.86L1783.9 1194.86M1765.5 1183.54L1783.9 1183.54M1765.5 1173.96L1783.9 1173.96M1765.5 1165.66L1783.9 1165.66M1765.5 1158.35L1783.9 1158.35M1765.5 1151.8L1803.5 1151.8M1765.5 1108.74L1783.9 1108.74M1799.6 1869.6L1799.6 1858M1833.96 1869.6L1833.96 1846.1M1868.33 1869.6L1868.33 1858M1902.69 1869.6L1902.69 1858M1937.06 1869.6L1937.06 1858M1971.42 1869.6L1971.42 1846.1M2005.79 1869.6L2005.79 1858M2040.15 1869.6L2040.15 1858M2074.52 1869.6L2074.52 1858M2108.88 1869.6L2108.88 1846.1M2143.25 1869.6L2143.25 1858M2177.61 1869.6L2177.61 1858M2211.98 1869.6L2211.98 1858M2246.34 1869.6L2246.34 1846.1M2280.71 1869.6L2280.71 1858M2315.07 1869.6L2315.07 1858M2349.44 1869.6L2349.44 1858M2383.8 1869.6L2383.8 1846.1M2418.16 1869.6L2418.16 1858M2452.53 1869.6L2452.53 1858M2486.89 1869.6L2486.89 1858M2521.26 1869.6L2521.26 1846.1M2555.62 1869.6L2555.62 1858M2589.99 1869.6L2589.99 1858M2624.36 1869.6L2624.36 1858M2658.72 1869.6L2658.72 1846.1M2693.09 1869.6L2693.09 1858M2727.45 1869.6L2727.45 1858M2761.82 1869.6L2761.82 1858M2796.18 1869.6L2796.18 1846.1M2830.55 1869.6L2830.55 1858M2864.91 1869.6L2864.91 1858M2899.28 1869.6L2899.28 1858M2933.64 1869.6L2933.64 1846.1M2968.01 1869.6L2968.01 1858" stroke="#000" stroke-width="2.2" fill="none"/>
<text x="1722.9" y="1886.3" font-size="39" fill="#000" font-family="'Liberation Sans',sans-serif" text-anchor="end" stroke="#000" stroke-width="0.66">10</text>
<text x="1749.4" y="1870" font-size="25" fill="#000" font-family="'Liberation Sans',sans-serif" text-anchor="end" textLength="25.5" lengthAdjust="spacingAndGlyphs" stroke="#000" stroke-width="0.43">−1</text>
<text x="1747.3" y="1737.8" font-size="39" fill="#000" font-family="'Liberation Sans',sans-serif" text-anchor="end" stroke="#000" stroke-width="0.66">1</text>
<text x="1749.5" y="1594.75" font-size="39" fill="#000" font-family="'Liberation Sans',sans-serif" text-anchor="end" stroke="#000" stroke-width="0.66">10</text>
<text x="1740" y="1456.7" font-size="39" fill="#000" font-family="'Liberation Sans',sans-serif" text-anchor="end" stroke="#000" stroke-width="0.66">10</text>
<text x="1740" y="1437.4" font-size="26.5" fill="#000" font-family="'Liberation Sans',sans-serif" stroke="#000" stroke-width="0.45">2</text>
<text x="1740" y="1313.65" font-size="39" fill="#000" font-family="'Liberation Sans',sans-serif" text-anchor="end" stroke="#000" stroke-width="0.66">10</text>
<text x="1740" y="1294.35" font-size="26.5" fill="#000" font-family="'Liberation Sans',sans-serif" stroke="#000" stroke-width="0.45">3</text>
<text x="1740" y="1170.6" font-size="39" fill="#000" font-family="'Liberation Sans',sans-serif" text-anchor="end" stroke="#000" stroke-width="0.66">10</text>
<text x="1740" y="1151.3" font-size="26.5" fill="#000" font-family="'Liberation Sans',sans-serif" stroke="#000" stroke-width="0.45">4</text>
<text x="1833.96" y="1910.9" font-size="41.4" fill="#000" font-family="'Liberation Sans',sans-serif" text-anchor="middle" stroke="#000" stroke-width="0.70">−80</text>
<text x="1971.42" y="1910.9" font-size="41.4" fill="#000" font-family="'Liberation Sans',sans-serif" text-anchor="middle" stroke="#000" stroke-width="0.70">−60</text>
<text x="2108.88" y="1910.9" font-size="41.4" fill="#000" font-family="'Liberation Sans',sans-serif" text-anchor="middle" stroke="#000" stroke-width="0.70">−40</text>
<text x="2246.34" y="1910.9" font-size="41.4" fill="#000" font-family="'Liberation Sans',sans-serif" text-anchor="middle" stroke="#000" stroke-width="0.70">−20</text>
<text x="2383.8" y="1910.9" font-size="41.4" fill="#000" font-family="'Liberation Sans',sans-serif" text-anchor="middle" stroke="#000" stroke-width="0.70">0</text>
<text x="2521.26" y="1910.9" font-size="41.4" fill="#000" font-family="'Liberation Sans',sans-serif" text-anchor="middle" stroke="#000" stroke-width="0.70">20</text>
<text x="2658.72" y="1910.9" font-size="41.4" fill="#000" font-family="'Liberation Sans',sans-serif" text-anchor="middle" stroke="#000" stroke-width="0.70">40</text>
<text x="2796.18" y="1910.9" font-size="41.4" fill="#000" font-family="'Liberation Sans',sans-serif" text-anchor="middle" stroke="#000" stroke-width="0.70">60</text>
<text x="2933.64" y="1910.9" font-size="41.4" fill="#000" font-family="'Liberation Sans',sans-serif" text-anchor="middle" stroke="#000" stroke-width="0.70">80</text>
<text x="2312.3" y="1950" font-size="39" fill="#000" font-family="'Liberation Sans',sans-serif" textLength="99.2" lengthAdjust="spacingAndGlyphs" stroke="#000" stroke-width="0.66">ATan(</text>
<text x="2412.5" y="1950" font-size="38" fill="#000" font-family="'Liberation Serif',serif" textLength="18.3" lengthAdjust="spacingAndGlyphs" stroke="#000" stroke-width="0.84">δ</text>
<text x="2431.5" y="1959.6" font-size="22" fill="#000" font-family="'Liberation Sans',sans-serif" textLength="8" lengthAdjust="spacingAndGlyphs" stroke="#000" stroke-width="0.37">1</text>
<text x="2443.5" y="1950" font-size="39" fill="#000" font-family="'Liberation Sans',sans-serif" textLength="12" lengthAdjust="spacingAndGlyphs" stroke="#000" stroke-width="0.66">)</text>
<text x="1640.5" y="1538.2" font-size="38" fill="#000" font-family="'Liberation Sans',sans-serif" textLength="26.7" lengthAdjust="spacingAndGlyphs" transform="rotate(-90 1640.5 1538.2)" stroke="#000" stroke-width="0.65">X</text>
<text x="1618.5" y="1511.5" font-size="23" fill="#000" font-family="'Liberation Sans',sans-serif" textLength="14" lengthAdjust="spacingAndGlyphs" transform="rotate(-90 1618.5 1511.5)" stroke="#000" stroke-width="0.39">2</text>
<text x="1640.5" y="1497.5" font-size="38" fill="#000" font-family="'Liberation Sans',sans-serif" textLength="68.8" lengthAdjust="spacingAndGlyphs" transform="rotate(-90 1640.5 1497.5)" stroke="#000" stroke-width="0.65">/ndf</text>
<text x="2384.5" y="1440.5" font-size="40.5" fill="#0000f0" font-family="'Liberation Serif',serif" textLength="15.4" lengthAdjust="spacingAndGlyphs" transform="rotate(-90 2384.5 1440.5)" stroke="#0000f0" stroke-width="0.89">δ</text>
<text x="2396" y="1426.5" font-size="27" fill="#0000f0" font-family="'Liberation Serif',serif" textLength="10.5" lengthAdjust="spacingAndGlyphs" transform="rotate(-90 2396 1426.5)" stroke="#0000f0" stroke-width="0.59">1</text>
<text x="2384.5" y="1412.4" font-size="40.5" fill="#0000f0" font-family="'Liberation Serif',serif" textLength="120.7" lengthAdjust="spacingAndGlyphs" transform="rotate(-90 2384.5 1412.4)" stroke="#0000f0" stroke-width="0.89">=0.013,</text>
<text x="2384.5" y="1281.9" font-size="40.5" fill="#0000f0" font-family="'Liberation Serif',serif" textLength="28.9" lengthAdjust="spacingAndGlyphs" transform="rotate(-90 2384.5 1281.9)" stroke="#0000f0" stroke-width="0.89">X</text>
<text x="2367.5" y="1254" font-size="27" fill="#0000f0" font-family="'Liberation Serif',serif" textLength="12.5" lengthAdjust="spacingAndGlyphs" transform="rotate(-90 2367.5 1254)" stroke="#0000f0" stroke-width="0.59">2</text>
<text x="2384.5" y="1242" font-size="40.5" fill="#0000f0" font-family="'Liberation Serif',serif" textLength="128.8" lengthAdjust="spacingAndGlyphs" transform="rotate(-90 2384.5 1242)" stroke="#0000f0" stroke-width="0.89">=0.0934</text>
<text x="2925.8" y="1390.7" font-size="40.5" fill="#e23cf2" font-family="'Liberation Serif',serif" textLength="18.5" lengthAdjust="spacingAndGlyphs" transform="rotate(-90 2925.8 1390.7)" stroke="#e23cf2" stroke-width="0.89">δ</text>
<text x="2937.3" y="1374.5" font-size="27" fill="#e23cf2" font-family="'Liberation Serif',serif" textLength="10" lengthAdjust="spacingAndGlyphs" transform="rotate(-90 2937.3 1374.5)" stroke="#e23cf2" stroke-width="0.59">1</text>
<text x="2925.8" y="1364.2" font-size="40.5" fill="#e23cf2" font-family="'Liberation Serif',serif" textLength="117.9" lengthAdjust="spacingAndGlyphs" transform="rotate(-90 2925.8 1364.2)" stroke="#e23cf2" stroke-width="0.89">=5.409,</text>
<text x="2925.8" y="1233.1" font-size="40.5" fill="#e23cf2" font-family="'Liberation Serif',serif" textLength="31.8" lengthAdjust="spacingAndGlyphs" transform="rotate(-90 2925.8 1233.1)" stroke="#e23cf2" stroke-width="0.89">X</text>
<text x="2909.8" y="1202.5" font-size="27" fill="#e23cf2" font-family="'Liberation Serif',serif" textLength="12" lengthAdjust="spacingAndGlyphs" transform="rotate(-90 2909.8 1202.5)" stroke="#e23cf2" stroke-width="0.59">2</text>
<text x="2925.8" y="1193.3" font-size="40.5" fill="#e23cf2" font-family="'Liberation Serif',serif" textLength="80.8" lengthAdjust="spacingAndGlyphs" transform="rotate(-90 2925.8 1193.3)" stroke="#e23cf2" stroke-width="0.89">=203</text>
</svg></body></html>
